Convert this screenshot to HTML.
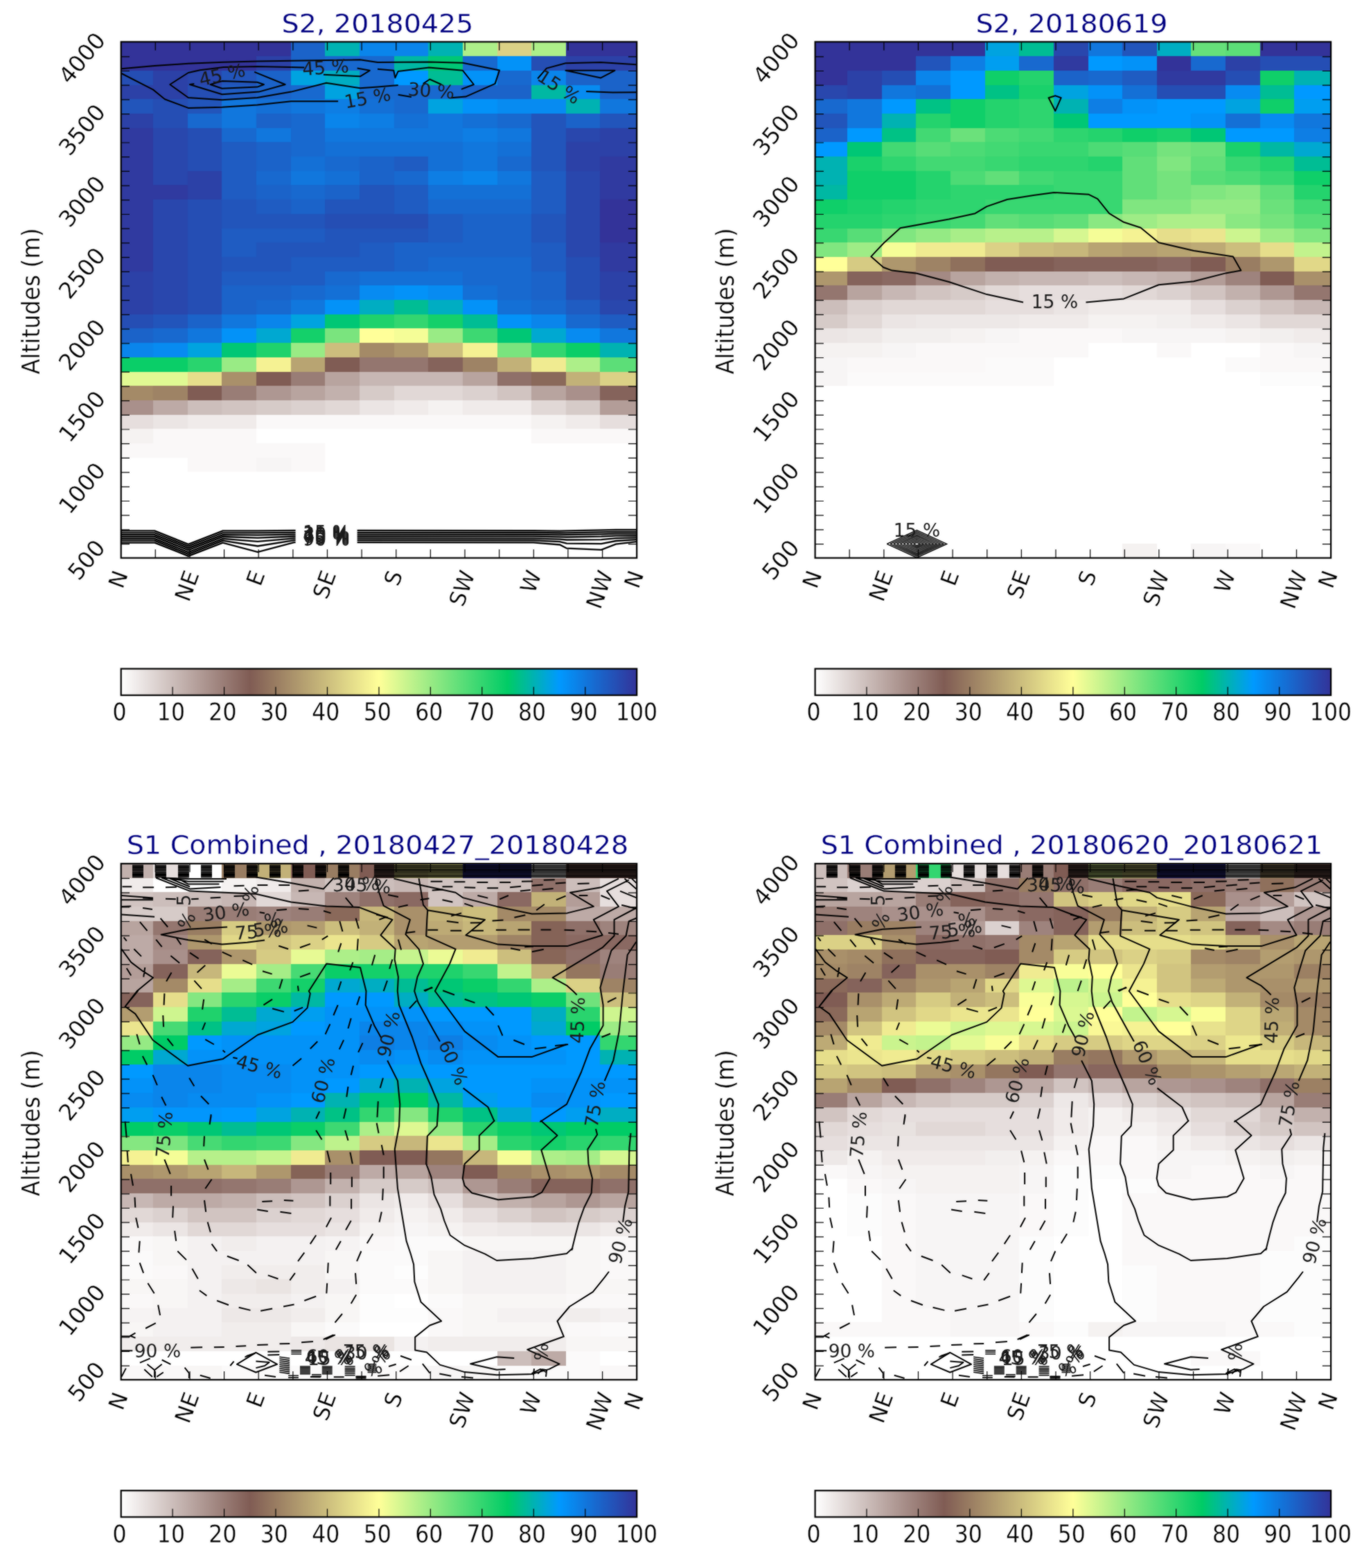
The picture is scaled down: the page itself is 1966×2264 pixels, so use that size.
<!DOCTYPE html>
<html lang="en">
<head>
<meta charset="utf-8">
<title>Altitude / direction frequency maps</title>
<style>
html,body{margin:0;padding:0;background:#fff}
body{width:1966px;height:2264px;overflow:hidden}
svg{display:block;font-family:"DejaVu Sans", "Liberation Sans", sans-serif}
#fig{width:1966px;height:2264px}
.tk{fill:none;stroke:#000;stroke-width:1.2}
.fr{fill:none;stroke:#000;stroke-width:2.2}
text{text-anchor:middle;fill:#000}
.ti,.yl,.ty,.tx,.tc{stroke:#fff;stroke-width:0.3px}
.ti{font-size:39.6px;fill:#000080}
.yl{font-size:32.5px}
.ty{font-size:32.8px}
.tx{font-size:32px}
.tc{font-size:31.5px}
.c{fill:none;stroke:#000;stroke-width:2;stroke-linejoin:round}
.d{fill:none;stroke:#000;stroke-width:2;stroke-dasharray:13 8}
.b{fill:none;stroke:#000;stroke-width:1.6}
.tbd{fill:none;stroke:#000;stroke-width:2.1;stroke-dasharray:16 17}
.tbr{fill:none;stroke:#000;stroke-width:1.9}
.bn{fill:none;stroke:#000;stroke-width:2.3}
.tbs{fill:none;stroke:#000;stroke-width:1.6;stroke-dasharray:9 5}
.t{fill:none;stroke:#000;stroke-width:1.5}
.cl{font-size:26.5px;fill:#1a1a1a}
</style>
</head>
<body>
<div id="fig">
<svg width="1966" height="2264" viewBox="0 0 1966 2264">
<defs><linearGradient id="cb" x1="0" y1="0" x2="1" y2="0"><stop offset="0" stop-color="#ffffff"/><stop offset="0.25" stop-color="#805c54"/><stop offset="0.5" stop-color="#ffff99"/><stop offset="0.75" stop-color="#00cc66"/><stop offset="0.85" stop-color="#0099ff"/><stop offset="1" stop-color="#333399"/></linearGradient>
<clipPath id="ax"><rect x="174.7" y="60.4" width="744.5" height="745.2"/></clipPath></defs>
<filter id="sf" x="0" y="0" width="1966" height="2264" filterUnits="userSpaceOnUse" color-interpolation-filters="sRGB"><feGaussianBlur stdDeviation="0.9"/></filter>
<g id="all"><rect width="1966" height="2264" fill="#fff"/>
<g transform="translate(0 0)">
<g shape-rendering="crispEdges">
<rect x="174.7" y="60.4" width="245.4" height="21.1" fill="#333399"/>
<rect x="419.7" y="60.4" width="50" height="21.1" fill="#1b63c9"/>
<rect x="469.3" y="60.4" width="50" height="21.1" fill="#00b2b2"/>
<rect x="518.9" y="60.4" width="99.7" height="21.1" fill="#0a85eb"/>
<rect x="618.2" y="60.4" width="50" height="21.1" fill="#00b2b2"/>
<rect x="667.8" y="60.4" width="50" height="21.1" fill="#adef89"/>
<rect x="717.5" y="60.4" width="50" height="21.1" fill="#dbd186"/>
<rect x="767.1" y="60.4" width="50" height="21.1" fill="#adef89"/>
<rect x="816.7" y="60.4" width="102.9" height="21.1" fill="#333399"/>
<rect x="174.7" y="81.1" width="195.7" height="21.1" fill="#333399"/>
<rect x="370" y="81.1" width="50" height="21.1" fill="#2c41a7"/>
<rect x="419.7" y="81.1" width="50" height="21.1" fill="#1b63c9"/>
<rect x="469.3" y="81.1" width="99.7" height="21.1" fill="#1869cf"/>
<rect x="568.6" y="81.1" width="50" height="21.1" fill="#00b8a3"/>
<rect x="618.2" y="81.1" width="50" height="21.1" fill="#00c775"/>
<rect x="667.8" y="81.1" width="50" height="21.1" fill="#1869cf"/>
<rect x="717.5" y="81.1" width="50" height="21.1" fill="#0392f8"/>
<rect x="767.1" y="81.1" width="50" height="21.1" fill="#254eb4"/>
<rect x="816.7" y="81.1" width="102.9" height="21.1" fill="#2c41a7"/>
<rect x="174.7" y="101.8" width="46.8" height="21.1" fill="#254eb4"/>
<rect x="221.1" y="101.8" width="50" height="21.1" fill="#2c41a7"/>
<rect x="270.8" y="101.8" width="50" height="21.1" fill="#2947ad"/>
<rect x="320.4" y="101.8" width="50" height="21.1" fill="#2255bb"/>
<rect x="370" y="101.8" width="50" height="21.1" fill="#1b63c9"/>
<rect x="419.7" y="101.8" width="50" height="21.1" fill="#00a3e0"/>
<rect x="469.3" y="101.8" width="50" height="21.1" fill="#00adc2"/>
<rect x="518.9" y="101.8" width="50" height="21.1" fill="#1869cf"/>
<rect x="568.6" y="101.8" width="50" height="21.1" fill="#0099ff"/>
<rect x="618.2" y="101.8" width="50" height="21.1" fill="#00bd94"/>
<rect x="667.8" y="101.8" width="50" height="21.1" fill="#0392f8"/>
<rect x="717.5" y="101.8" width="50" height="21.1" fill="#1869cf"/>
<rect x="767.1" y="101.8" width="50" height="21.1" fill="#0a85eb"/>
<rect x="816.7" y="101.8" width="102.9" height="21.1" fill="#1b63c9"/>
<rect x="174.7" y="122.5" width="96.5" height="21.1" fill="#2c41a7"/>
<rect x="270.8" y="122.5" width="50" height="21.1" fill="#254eb4"/>
<rect x="320.4" y="122.5" width="50" height="21.1" fill="#1f5cc2"/>
<rect x="370" y="122.5" width="50" height="21.1" fill="#1b63c9"/>
<rect x="419.7" y="122.5" width="50" height="21.1" fill="#1869cf"/>
<rect x="469.3" y="122.5" width="50" height="21.1" fill="#00a3e0"/>
<rect x="518.9" y="122.5" width="149.3" height="21.1" fill="#1869cf"/>
<rect x="667.8" y="122.5" width="99.7" height="21.1" fill="#1b63c9"/>
<rect x="767.1" y="122.5" width="50" height="21.1" fill="#00b8a3"/>
<rect x="816.7" y="122.5" width="50" height="21.1" fill="#078bf1"/>
<rect x="866.4" y="122.5" width="53.2" height="21.1" fill="#1b63c9"/>
<rect x="174.7" y="143.2" width="46.8" height="21.1" fill="#2255bb"/>
<rect x="221.1" y="143.2" width="50" height="21.1" fill="#254eb4"/>
<rect x="270.8" y="143.2" width="50" height="21.1" fill="#2255bb"/>
<rect x="320.4" y="143.2" width="50" height="21.1" fill="#1177dd"/>
<rect x="370" y="143.2" width="50" height="21.1" fill="#1470d6"/>
<rect x="419.7" y="143.2" width="50" height="21.1" fill="#1177dd"/>
<rect x="469.3" y="143.2" width="50" height="21.1" fill="#0e7ee4"/>
<rect x="518.9" y="143.2" width="50" height="21.1" fill="#1470d6"/>
<rect x="568.6" y="143.2" width="50" height="21.1" fill="#1869cf"/>
<rect x="618.2" y="143.2" width="50" height="21.1" fill="#00a3e0"/>
<rect x="667.8" y="143.2" width="50" height="21.1" fill="#0392f8"/>
<rect x="717.5" y="143.2" width="99.7" height="21.1" fill="#078bf1"/>
<rect x="816.7" y="143.2" width="50" height="21.1" fill="#00b2b2"/>
<rect x="866.4" y="143.2" width="53.2" height="21.1" fill="#1177dd"/>
<rect x="174.7" y="163.9" width="46.8" height="21.1" fill="#2c41a7"/>
<rect x="221.1" y="163.9" width="50" height="21.1" fill="#254eb4"/>
<rect x="270.8" y="163.9" width="50" height="21.1" fill="#1869cf"/>
<rect x="320.4" y="163.9" width="50" height="21.1" fill="#1177dd"/>
<rect x="370" y="163.9" width="50" height="21.1" fill="#1b63c9"/>
<rect x="419.7" y="163.9" width="50" height="21.1" fill="#1869cf"/>
<rect x="469.3" y="163.9" width="50" height="21.1" fill="#0a85eb"/>
<rect x="518.9" y="163.9" width="50" height="21.1" fill="#0e7ee4"/>
<rect x="568.6" y="163.9" width="50" height="21.1" fill="#1470d6"/>
<rect x="618.2" y="163.9" width="50" height="21.1" fill="#1177dd"/>
<rect x="667.8" y="163.9" width="50" height="21.1" fill="#1470d6"/>
<rect x="717.5" y="163.9" width="50" height="21.1" fill="#1869cf"/>
<rect x="767.1" y="163.9" width="50" height="21.1" fill="#2255bb"/>
<rect x="816.7" y="163.9" width="50" height="21.1" fill="#1b63c9"/>
<rect x="866.4" y="163.9" width="53.2" height="21.1" fill="#2255bb"/>
<rect x="174.7" y="184.6" width="46.8" height="21.1" fill="#303aa0"/>
<rect x="221.1" y="184.6" width="50" height="21.1" fill="#2947ad"/>
<rect x="270.8" y="184.6" width="50" height="21.1" fill="#254eb4"/>
<rect x="320.4" y="184.6" width="50" height="21.1" fill="#1869cf"/>
<rect x="370" y="184.6" width="50" height="21.1" fill="#1177dd"/>
<rect x="419.7" y="184.6" width="50" height="21.1" fill="#1869cf"/>
<rect x="469.3" y="184.6" width="198.9" height="21.1" fill="#1177dd"/>
<rect x="667.8" y="184.6" width="50" height="21.1" fill="#0e7ee4"/>
<rect x="717.5" y="184.6" width="50" height="21.1" fill="#1177dd"/>
<rect x="767.1" y="184.6" width="50" height="21.1" fill="#2255bb"/>
<rect x="816.7" y="184.6" width="50" height="21.1" fill="#2947ad"/>
<rect x="866.4" y="184.6" width="53.2" height="21.1" fill="#2c41a7"/>
<rect x="174.7" y="205.3" width="46.8" height="21.1" fill="#303aa0"/>
<rect x="221.1" y="205.3" width="50" height="21.1" fill="#2947ad"/>
<rect x="270.8" y="205.3" width="50" height="21.1" fill="#254eb4"/>
<rect x="320.4" y="205.3" width="50" height="21.1" fill="#1f5cc2"/>
<rect x="370" y="205.3" width="50" height="21.1" fill="#1b63c9"/>
<rect x="419.7" y="205.3" width="50" height="21.1" fill="#1869cf"/>
<rect x="469.3" y="205.3" width="198.9" height="21.1" fill="#1470d6"/>
<rect x="667.8" y="205.3" width="50" height="21.1" fill="#1177dd"/>
<rect x="717.5" y="205.3" width="50" height="21.1" fill="#1470d6"/>
<rect x="767.1" y="205.3" width="50" height="21.1" fill="#2255bb"/>
<rect x="816.7" y="205.3" width="102.9" height="21.1" fill="#2c41a7"/>
<rect x="174.7" y="226" width="46.8" height="21.1" fill="#303aa0"/>
<rect x="221.1" y="226" width="50" height="21.1" fill="#2947ad"/>
<rect x="270.8" y="226" width="50" height="21.1" fill="#254eb4"/>
<rect x="320.4" y="226" width="50" height="21.1" fill="#1f5cc2"/>
<rect x="370" y="226" width="50" height="21.1" fill="#1b63c9"/>
<rect x="419.7" y="226" width="50" height="21.1" fill="#1470d6"/>
<rect x="469.3" y="226" width="50" height="21.1" fill="#1869cf"/>
<rect x="518.9" y="226" width="50" height="21.1" fill="#1b63c9"/>
<rect x="568.6" y="226" width="50" height="21.1" fill="#1f5cc2"/>
<rect x="618.2" y="226" width="50" height="21.1" fill="#1470d6"/>
<rect x="667.8" y="226" width="50" height="21.1" fill="#1177dd"/>
<rect x="717.5" y="226" width="50" height="21.1" fill="#1869cf"/>
<rect x="767.1" y="226" width="50" height="21.1" fill="#2255bb"/>
<rect x="816.7" y="226" width="50" height="21.1" fill="#2c41a7"/>
<rect x="866.4" y="226" width="53.2" height="21.1" fill="#303aa0"/>
<rect x="174.7" y="246.7" width="46.8" height="21.1" fill="#303aa0"/>
<rect x="221.1" y="246.7" width="50" height="21.1" fill="#2947ad"/>
<rect x="270.8" y="246.7" width="50" height="21.1" fill="#2c41a7"/>
<rect x="320.4" y="246.7" width="50" height="21.1" fill="#1f5cc2"/>
<rect x="370" y="246.7" width="50" height="21.1" fill="#1869cf"/>
<rect x="419.7" y="246.7" width="50" height="21.1" fill="#1177dd"/>
<rect x="469.3" y="246.7" width="50" height="21.1" fill="#1470d6"/>
<rect x="518.9" y="246.7" width="50" height="21.1" fill="#1b63c9"/>
<rect x="568.6" y="246.7" width="50" height="21.1" fill="#1869cf"/>
<rect x="618.2" y="246.7" width="50" height="21.1" fill="#0e7ee4"/>
<rect x="667.8" y="246.7" width="50" height="21.1" fill="#0a85eb"/>
<rect x="717.5" y="246.7" width="50" height="21.1" fill="#1177dd"/>
<rect x="767.1" y="246.7" width="50" height="21.1" fill="#1f5cc2"/>
<rect x="816.7" y="246.7" width="50" height="21.1" fill="#2947ad"/>
<rect x="866.4" y="246.7" width="53.2" height="21.1" fill="#303aa0"/>
<rect x="174.7" y="267.4" width="96.5" height="21.1" fill="#303aa0"/>
<rect x="270.8" y="267.4" width="50" height="21.1" fill="#2c41a7"/>
<rect x="320.4" y="267.4" width="50" height="21.1" fill="#1f5cc2"/>
<rect x="370" y="267.4" width="50" height="21.1" fill="#1b63c9"/>
<rect x="419.7" y="267.4" width="50" height="21.1" fill="#1869cf"/>
<rect x="469.3" y="267.4" width="50" height="21.1" fill="#1b63c9"/>
<rect x="518.9" y="267.4" width="50" height="21.1" fill="#2255bb"/>
<rect x="568.6" y="267.4" width="50" height="21.1" fill="#1f5cc2"/>
<rect x="618.2" y="267.4" width="149.3" height="21.1" fill="#1470d6"/>
<rect x="767.1" y="267.4" width="50" height="21.1" fill="#1f5cc2"/>
<rect x="816.7" y="267.4" width="50" height="21.1" fill="#2947ad"/>
<rect x="866.4" y="267.4" width="53.2" height="21.1" fill="#303aa0"/>
<rect x="174.7" y="288.1" width="46.8" height="21.1" fill="#303aa0"/>
<rect x="221.1" y="288.1" width="50" height="21.1" fill="#2947ad"/>
<rect x="270.8" y="288.1" width="50" height="21.1" fill="#254eb4"/>
<rect x="320.4" y="288.1" width="50" height="21.1" fill="#2255bb"/>
<rect x="370" y="288.1" width="50" height="21.1" fill="#1f5cc2"/>
<rect x="419.7" y="288.1" width="50" height="21.1" fill="#1b63c9"/>
<rect x="469.3" y="288.1" width="99.7" height="21.1" fill="#2255bb"/>
<rect x="568.6" y="288.1" width="50" height="21.1" fill="#1f5cc2"/>
<rect x="618.2" y="288.1" width="149.3" height="21.1" fill="#1869cf"/>
<rect x="767.1" y="288.1" width="50" height="21.1" fill="#1f5cc2"/>
<rect x="816.7" y="288.1" width="50" height="21.1" fill="#2947ad"/>
<rect x="866.4" y="288.1" width="53.2" height="21.1" fill="#333399"/>
<rect x="174.7" y="308.8" width="46.8" height="21.1" fill="#303aa0"/>
<rect x="221.1" y="308.8" width="50" height="21.1" fill="#2947ad"/>
<rect x="270.8" y="308.8" width="50" height="21.1" fill="#254eb4"/>
<rect x="320.4" y="308.8" width="149.3" height="21.1" fill="#2255bb"/>
<rect x="469.3" y="308.8" width="149.3" height="21.1" fill="#254eb4"/>
<rect x="618.2" y="308.8" width="50" height="21.1" fill="#1f5cc2"/>
<rect x="667.8" y="308.8" width="99.7" height="21.1" fill="#1b63c9"/>
<rect x="767.1" y="308.8" width="50" height="21.1" fill="#2255bb"/>
<rect x="816.7" y="308.8" width="50" height="21.1" fill="#2947ad"/>
<rect x="866.4" y="308.8" width="53.2" height="21.1" fill="#333399"/>
<rect x="174.7" y="329.5" width="46.8" height="21.1" fill="#303aa0"/>
<rect x="221.1" y="329.5" width="50" height="21.1" fill="#2947ad"/>
<rect x="270.8" y="329.5" width="50" height="21.1" fill="#254eb4"/>
<rect x="320.4" y="329.5" width="149.3" height="21.1" fill="#1f5cc2"/>
<rect x="469.3" y="329.5" width="149.3" height="21.1" fill="#2255bb"/>
<rect x="618.2" y="329.5" width="50" height="21.1" fill="#1f5cc2"/>
<rect x="667.8" y="329.5" width="99.7" height="21.1" fill="#1b63c9"/>
<rect x="767.1" y="329.5" width="50" height="21.1" fill="#2255bb"/>
<rect x="816.7" y="329.5" width="50" height="21.1" fill="#2947ad"/>
<rect x="866.4" y="329.5" width="53.2" height="21.1" fill="#333399"/>
<rect x="174.7" y="350.2" width="46.8" height="21.1" fill="#303aa0"/>
<rect x="221.1" y="350.2" width="50" height="21.1" fill="#2947ad"/>
<rect x="270.8" y="350.2" width="50" height="21.1" fill="#254eb4"/>
<rect x="320.4" y="350.2" width="50" height="21.1" fill="#1f5cc2"/>
<rect x="370" y="350.2" width="149.3" height="21.1" fill="#2255bb"/>
<rect x="518.9" y="350.2" width="50" height="21.1" fill="#1f5cc2"/>
<rect x="568.6" y="350.2" width="198.9" height="21.1" fill="#1b63c9"/>
<rect x="767.1" y="350.2" width="50" height="21.1" fill="#1f5cc2"/>
<rect x="816.7" y="350.2" width="50" height="21.1" fill="#2947ad"/>
<rect x="866.4" y="350.2" width="53.2" height="21.1" fill="#303aa0"/>
<rect x="174.7" y="370.9" width="46.8" height="21.1" fill="#303aa0"/>
<rect x="221.1" y="370.9" width="50" height="21.1" fill="#2947ad"/>
<rect x="270.8" y="370.9" width="50" height="21.1" fill="#254eb4"/>
<rect x="320.4" y="370.9" width="99.7" height="21.1" fill="#2255bb"/>
<rect x="419.7" y="370.9" width="149.3" height="21.1" fill="#1f5cc2"/>
<rect x="568.6" y="370.9" width="50" height="21.1" fill="#1b63c9"/>
<rect x="618.2" y="370.9" width="149.3" height="21.1" fill="#1869cf"/>
<rect x="767.1" y="370.9" width="50" height="21.1" fill="#1f5cc2"/>
<rect x="816.7" y="370.9" width="50" height="21.1" fill="#254eb4"/>
<rect x="866.4" y="370.9" width="53.2" height="21.1" fill="#303aa0"/>
<rect x="174.7" y="391.6" width="46.8" height="21.1" fill="#2c41a7"/>
<rect x="221.1" y="391.6" width="50" height="21.1" fill="#2947ad"/>
<rect x="270.8" y="391.6" width="50" height="21.1" fill="#254eb4"/>
<rect x="320.4" y="391.6" width="149.3" height="21.1" fill="#1f5cc2"/>
<rect x="469.3" y="391.6" width="50" height="21.1" fill="#1869cf"/>
<rect x="518.9" y="391.6" width="149.3" height="21.1" fill="#1470d6"/>
<rect x="667.8" y="391.6" width="99.7" height="21.1" fill="#1869cf"/>
<rect x="767.1" y="391.6" width="50" height="21.1" fill="#1b63c9"/>
<rect x="816.7" y="391.6" width="50" height="21.1" fill="#254eb4"/>
<rect x="866.4" y="391.6" width="53.2" height="21.1" fill="#2c41a7"/>
<rect x="174.7" y="412.3" width="46.8" height="21.1" fill="#2c41a7"/>
<rect x="221.1" y="412.3" width="50" height="21.1" fill="#2947ad"/>
<rect x="270.8" y="412.3" width="50" height="21.1" fill="#254eb4"/>
<rect x="320.4" y="412.3" width="99.7" height="21.1" fill="#1b63c9"/>
<rect x="419.7" y="412.3" width="50" height="21.1" fill="#1869cf"/>
<rect x="469.3" y="412.3" width="50" height="21.1" fill="#1470d6"/>
<rect x="518.9" y="412.3" width="50" height="21.1" fill="#078bf1"/>
<rect x="568.6" y="412.3" width="50" height="21.1" fill="#0392f8"/>
<rect x="618.2" y="412.3" width="50" height="21.1" fill="#078bf1"/>
<rect x="667.8" y="412.3" width="50" height="21.1" fill="#1470d6"/>
<rect x="717.5" y="412.3" width="50" height="21.1" fill="#1869cf"/>
<rect x="767.1" y="412.3" width="50" height="21.1" fill="#1b63c9"/>
<rect x="816.7" y="412.3" width="50" height="21.1" fill="#254eb4"/>
<rect x="866.4" y="412.3" width="53.2" height="21.1" fill="#2c41a7"/>
<rect x="174.7" y="433" width="46.8" height="21.1" fill="#2c41a7"/>
<rect x="221.1" y="433" width="50" height="21.1" fill="#2947ad"/>
<rect x="270.8" y="433" width="50" height="21.1" fill="#254eb4"/>
<rect x="320.4" y="433" width="50" height="21.1" fill="#1b63c9"/>
<rect x="370" y="433" width="50" height="21.1" fill="#1869cf"/>
<rect x="419.7" y="433" width="50" height="21.1" fill="#1177dd"/>
<rect x="469.3" y="433" width="50" height="21.1" fill="#0392f8"/>
<rect x="518.9" y="433" width="50" height="21.1" fill="#00adc2"/>
<rect x="568.6" y="433" width="50" height="21.1" fill="#00bd94"/>
<rect x="618.2" y="433" width="50" height="21.1" fill="#00adc2"/>
<rect x="667.8" y="433" width="50" height="21.1" fill="#0392f8"/>
<rect x="717.5" y="433" width="50" height="21.1" fill="#1470d6"/>
<rect x="767.1" y="433" width="50" height="21.1" fill="#1869cf"/>
<rect x="816.7" y="433" width="50" height="21.1" fill="#1f5cc2"/>
<rect x="866.4" y="433" width="53.2" height="21.1" fill="#2947ad"/>
<rect x="174.7" y="453.7" width="46.8" height="21.1" fill="#254eb4"/>
<rect x="221.1" y="453.7" width="50" height="21.1" fill="#2255bb"/>
<rect x="270.8" y="453.7" width="50" height="21.1" fill="#1b63c9"/>
<rect x="320.4" y="453.7" width="50" height="21.1" fill="#1177dd"/>
<rect x="370" y="453.7" width="50" height="21.1" fill="#0a85eb"/>
<rect x="419.7" y="453.7" width="50" height="21.1" fill="#00a3e0"/>
<rect x="469.3" y="453.7" width="50" height="21.1" fill="#00c775"/>
<rect x="518.9" y="453.7" width="50" height="21.1" fill="#1fd26c"/>
<rect x="568.6" y="453.7" width="50" height="21.1" fill="#33d670"/>
<rect x="618.2" y="453.7" width="50" height="21.1" fill="#14d06a"/>
<rect x="667.8" y="453.7" width="50" height="21.1" fill="#00bd94"/>
<rect x="717.5" y="453.7" width="50" height="21.1" fill="#0392f8"/>
<rect x="767.1" y="453.7" width="50" height="21.1" fill="#0a85eb"/>
<rect x="816.7" y="453.7" width="50" height="21.1" fill="#1869cf"/>
<rect x="866.4" y="453.7" width="53.2" height="21.1" fill="#1f5cc2"/>
<rect x="174.7" y="474.4" width="46.8" height="21.1" fill="#1b63c9"/>
<rect x="221.1" y="474.4" width="50" height="21.1" fill="#1869cf"/>
<rect x="270.8" y="474.4" width="50" height="21.1" fill="#1177dd"/>
<rect x="320.4" y="474.4" width="50" height="21.1" fill="#0392f8"/>
<rect x="370" y="474.4" width="50" height="21.1" fill="#00a8d1"/>
<rect x="419.7" y="474.4" width="50" height="21.1" fill="#14d06a"/>
<rect x="469.3" y="474.4" width="50" height="21.1" fill="#7ae47e"/>
<rect x="518.9" y="474.4" width="50" height="21.1" fill="#ffff99"/>
<rect x="568.6" y="474.4" width="50" height="21.1" fill="#f5fd97"/>
<rect x="618.2" y="474.4" width="50" height="21.1" fill="#99eb85"/>
<rect x="667.8" y="474.4" width="50" height="21.1" fill="#3dd872"/>
<rect x="717.5" y="474.4" width="50" height="21.1" fill="#00c775"/>
<rect x="767.1" y="474.4" width="50" height="21.1" fill="#00a8d1"/>
<rect x="816.7" y="474.4" width="50" height="21.1" fill="#078bf1"/>
<rect x="866.4" y="474.4" width="53.2" height="21.1" fill="#1177dd"/>
<rect x="174.7" y="495.1" width="46.8" height="21.1" fill="#0a85eb"/>
<rect x="221.1" y="495.1" width="50" height="21.1" fill="#078bf1"/>
<rect x="270.8" y="495.1" width="50" height="21.1" fill="#00a3e0"/>
<rect x="320.4" y="495.1" width="50" height="21.1" fill="#00c775"/>
<rect x="370" y="495.1" width="50" height="21.1" fill="#1fd26c"/>
<rect x="419.7" y="495.1" width="50" height="21.1" fill="#99eb85"/>
<rect x="469.3" y="495.1" width="50" height="21.1" fill="#ccbe7d"/>
<rect x="518.9" y="495.1" width="50" height="21.1" fill="#a48a67"/>
<rect x="568.6" y="495.1" width="50" height="21.1" fill="#ae976d"/>
<rect x="618.2" y="495.1" width="50" height="21.1" fill="#ccbe7d"/>
<rect x="667.8" y="495.1" width="50" height="21.1" fill="#f5f293"/>
<rect x="717.5" y="495.1" width="50" height="21.1" fill="#7ae47e"/>
<rect x="767.1" y="495.1" width="50" height="21.1" fill="#33d670"/>
<rect x="816.7" y="495.1" width="50" height="21.1" fill="#0ace68"/>
<rect x="866.4" y="495.1" width="53.2" height="21.1" fill="#00b2b2"/>
<rect x="174.7" y="515.8" width="96.5" height="21.1" fill="#0ace68"/>
<rect x="270.8" y="515.8" width="50" height="21.1" fill="#29d46e"/>
<rect x="320.4" y="515.8" width="50" height="21.1" fill="#99eb85"/>
<rect x="370" y="515.8" width="50" height="21.1" fill="#f5f293"/>
<rect x="419.7" y="515.8" width="50" height="21.1" fill="#b8a472"/>
<rect x="469.3" y="515.8" width="50" height="21.1" fill="#805c54"/>
<rect x="518.9" y="515.8" width="99.7" height="21.1" fill="#94766f"/>
<rect x="618.2" y="515.8" width="50" height="21.1" fill="#85635b"/>
<rect x="667.8" y="515.8" width="50" height="21.1" fill="#9e8365"/>
<rect x="717.5" y="515.8" width="50" height="21.1" fill="#c2b178"/>
<rect x="767.1" y="515.8" width="50" height="21.1" fill="#f0eb91"/>
<rect x="816.7" y="515.8" width="50" height="21.1" fill="#adef89"/>
<rect x="866.4" y="515.8" width="53.2" height="21.1" fill="#5cde78"/>
<rect x="174.7" y="536.5" width="96.5" height="21.1" fill="#e0f993"/>
<rect x="270.8" y="536.5" width="50" height="21.1" fill="#e6de8b"/>
<rect x="320.4" y="536.5" width="50" height="21.1" fill="#a9906a"/>
<rect x="370" y="536.5" width="50" height="21.1" fill="#805c54"/>
<rect x="419.7" y="536.5" width="50" height="21.1" fill="#997d76"/>
<rect x="469.3" y="536.5" width="50" height="21.1" fill="#b8a49f"/>
<rect x="518.9" y="536.5" width="149.3" height="21.1" fill="#c7b7b4"/>
<rect x="667.8" y="536.5" width="50" height="21.1" fill="#b8a49f"/>
<rect x="717.5" y="536.5" width="50" height="21.1" fill="#8f7069"/>
<rect x="767.1" y="536.5" width="50" height="21.1" fill="#8a695a"/>
<rect x="816.7" y="536.5" width="50" height="21.1" fill="#c2b178"/>
<rect x="866.4" y="536.5" width="53.2" height="21.1" fill="#dbd186"/>
<rect x="174.7" y="557.2" width="46.8" height="21.1" fill="#a48a67"/>
<rect x="221.1" y="557.2" width="50" height="21.1" fill="#9e8365"/>
<rect x="270.8" y="557.2" width="50" height="21.1" fill="#805c54"/>
<rect x="320.4" y="557.2" width="50" height="21.1" fill="#997d76"/>
<rect x="370" y="557.2" width="50" height="21.1" fill="#ae9792"/>
<rect x="419.7" y="557.2" width="50" height="21.1" fill="#b8a49f"/>
<rect x="469.3" y="557.2" width="50" height="21.1" fill="#c2b1ad"/>
<rect x="518.9" y="557.2" width="50" height="21.1" fill="#d6cbc8"/>
<rect x="568.6" y="557.2" width="99.7" height="21.1" fill="#e1d8d6"/>
<rect x="667.8" y="557.2" width="50" height="21.1" fill="#dbd1cf"/>
<rect x="717.5" y="557.2" width="50" height="21.1" fill="#d1c4c1"/>
<rect x="767.1" y="557.2" width="50" height="21.1" fill="#b8a49f"/>
<rect x="816.7" y="557.2" width="50" height="21.1" fill="#a9908b"/>
<rect x="866.4" y="557.2" width="53.2" height="21.1" fill="#85635b"/>
<rect x="174.7" y="577.9" width="46.8" height="21.1" fill="#a9908b"/>
<rect x="221.1" y="577.9" width="50" height="21.1" fill="#bdaaa6"/>
<rect x="270.8" y="577.9" width="50" height="21.1" fill="#ccbebb"/>
<rect x="320.4" y="577.9" width="50" height="21.1" fill="#d1c4c1"/>
<rect x="370" y="577.9" width="50" height="21.1" fill="#d6cbc8"/>
<rect x="419.7" y="577.9" width="50" height="21.1" fill="#dbd1cf"/>
<rect x="469.3" y="577.9" width="50" height="21.1" fill="#e1d8d6"/>
<rect x="518.9" y="577.9" width="50" height="21.1" fill="#ebe5e4"/>
<rect x="568.6" y="577.9" width="50" height="21.1" fill="#f0ebea"/>
<rect x="618.2" y="577.9" width="50" height="21.1" fill="#f5f2f1"/>
<rect x="667.8" y="577.9" width="99.7" height="21.1" fill="#f0ebea"/>
<rect x="767.1" y="577.9" width="50" height="21.1" fill="#e1d8d6"/>
<rect x="816.7" y="577.9" width="50" height="21.1" fill="#d6cbc8"/>
<rect x="866.4" y="577.9" width="53.2" height="21.1" fill="#b39d98"/>
<rect x="174.7" y="598.6" width="46.8" height="21.1" fill="#e6dedd"/>
<rect x="221.1" y="598.6" width="50" height="21.1" fill="#ebe5e4"/>
<rect x="270.8" y="598.6" width="99.7" height="21.1" fill="#f0ebea"/>
<rect x="370" y="598.6" width="397.5" height="21.1" fill="#faf8f8"/>
<rect x="767.1" y="598.6" width="50" height="21.1" fill="#f5f2f1"/>
<rect x="816.7" y="598.6" width="50" height="21.1" fill="#f0ebea"/>
<rect x="866.4" y="598.6" width="53.2" height="21.1" fill="#e6dedd"/>
<rect x="174.7" y="619.3" width="46.8" height="21.1" fill="#f5f2f1"/>
<rect x="221.1" y="619.3" width="149.3" height="21.1" fill="#faf8f8"/>
<rect x="370" y="619.3" width="397.5" height="21.1" fill="#ffffff"/>
<rect x="767.1" y="619.3" width="152.5" height="21.1" fill="#faf8f8"/>
<rect x="174.7" y="640" width="295" height="21.1" fill="#faf8f8"/>
<rect x="469.3" y="640" width="450.3" height="21.1" fill="#ffffff"/>
<rect x="174.7" y="660.7" width="96.5" height="21.1" fill="#ffffff"/>
<rect x="270.8" y="660.7" width="99.7" height="21.1" fill="#faf8f8"/>
<rect x="370" y="660.7" width="50" height="21.1" fill="#f7f5f5"/>
<rect x="419.7" y="660.7" width="50" height="21.1" fill="#faf8f8"/>
<rect x="469.3" y="660.7" width="450.3" height="21.1" fill="#ffffff"/>
<rect x="174.7" y="681.4" width="744.9" height="21.1" fill="#ffffff"/>
<rect x="174.7" y="702.1" width="744.9" height="21.1" fill="#ffffff"/>
<rect x="174.7" y="722.8" width="744.9" height="21.1" fill="#ffffff"/>
<rect x="174.7" y="743.5" width="744.9" height="21.1" fill="#ffffff"/>
<rect x="174.7" y="764.2" width="744.9" height="21.1" fill="#ffffff"/>
<rect x="174.7" y="784.9" width="744.9" height="21.1" fill="#ffffff"/>
</g>
<g clip-path="url(#ax)">
<path class="c" d="M175.3 99.3 223 95 271.8 91.8 322.7 89.7 371.4 88.4 420.2 87.8 471.1 87 519.9 86.3 545 90.1 619.2 89.5 668 90.8 721 101.4 714.6 120.9 672.2 139.6 651 141.2"/>
<path class="c" d="M593.8 140 574.7 136.8"/>
<path class="c" d="M420.2 96.9 371.4 95.9 322.7 97.1 288.7 101.2 271.8 105 245.3 122 271.8 141 320.6 144.2 371.4 141 420.2 132.6 471.1 119.8 519.9 127.3 545 125.6 574.7 123"/>
<path class="c" d="M420.2 96.9 439.3 97.6"/>
<path class="c" d="M367.2 103.9 411.7 122 373.6 132.6 320.6 136.2 273.9 122 280.3 120.9"/>
<path class="c" d="M303.6 122 320.6 117.1 371.4 118.8 381 122 371.4 125.6 320.6 127.7Z"/>
<path class="c" d="M515.6 98.6 533.7 101.8 519.9 110.3 466.9 107.7"/>
<path class="c" d="M175.3 106 220.9 129.4 237.9 143.2 271.8 155.9 320.6 154.8 371.4 151.6 420.2 146.3 488.1 146.3"/>
<path class="c" d="M545 99.7 568.3 101.8 570.4 112.4 574.7 102.9 619.2 97.6 668 101.8 683.9 122 665.9 128.9"/>
<path class="c" d="M610.7 120.9 620.3 114.5 637.2 122"/>
<path class="c" d="M776.1 113.5 788.9 98.6 816.4 91.2 867.3 90.1 918.2 93.3"/>
<path class="c" d="M816.4 101.8 867.3 112.4 887.5 101.8Z"/>
<path class="c" d="M846.1 131.9 884.3 133.6 918.2 133.2"/>
<text class="cl" transform="translate(320.6 108.2) rotate(-13)" dy="9">45 %</text>
<text class="cl" transform="translate(470 97.6) rotate(-4)" dy="9">45 %</text>
<text class="cl" transform="translate(530.5 141.7) rotate(-10)" dy="9">15 %</text>
<text class="cl" transform="translate(622.4 131.1) rotate(4)" dy="9">30 %</text>
<text class="cl" transform="translate(806.9 125.6) rotate(33)" dy="9">15 %</text>
<path class="bn" d="M174.7 766.4 223.3 766.4 271.8 785.7 321.6 766.4 372 766.4 424.5 765.9 426.6 765.9M515.6 765.9 770 766.1 808 766.6 818 766.4 868 765.4 889 764.9 919.2 764.9M174.7 769.3 223.3 769.3 271.8 788.6 321.6 769.3 372 769.3 424.5 768.8 426.6 768.8M515.6 768.8 770 769 808 769.5 818 769.3 868 768.3 889 767.8 919.2 767.8M174.7 772.1 223.3 772.1 271.8 791.4 321.6 772.1 372 772.6 424.5 771.6 426.6 771.6M515.6 771.6 770 771.8 808 772.4 818 772.2 868 771.3 889 770.7 919.2 770.6M174.7 775 223.3 775 271.8 794.3 321.6 775 372 776.7 424.5 774.5 426.6 774.5M515.6 774.5 770 774.7 808 775.4 818 775.5 868 774.7 889 773.7 919.2 773.5M174.7 777.9 223.3 777.9 271.8 797.2 321.6 777.9 372 781.9 424.5 777.4 426.6 777.4M515.6 777.4 770 777.6 808 778.6 818 779.5 868 779.1 889 777.1 919.2 776.4M174.7 780.7 223.3 780.7 271.8 800 321.6 780.7 372 788.5 424.5 780.2 426.6 780.2M515.6 780.2 770 780.4 808 782.2 818 784.6 868 785.2 889 781 919.2 779.2M174.7 783.6 223.3 783.6 271.8 802.9 321.6 783.6 372 797.1 424.5 783.1 426.6 783.1M515.6 783.1 770 783.3 808 786.5 818 791.7 868 793.9 889 785.7 919.2 782.1"/>
<text class="cl" transform="translate(471 768.5)" dy="9">15 %</text>
<text class="cl" transform="translate(471 770.5)" dy="9">30 %</text>
<text class="cl" transform="translate(471 772.5)" dy="9">45 %</text>
<text class="cl" transform="translate(471 774.5)" dy="9">60 %</text>
<text class="cl" transform="translate(471 776.5)" dy="9">75 %</text>
<text class="cl" transform="translate(471 778.5)" dy="9">90 %</text>
</g>
<path class="tk" d="M224.3 60.4v12.3M224.3 805.6v-12.3M274 60.4v12.3M274 805.6v-12.3M323.6 60.4v12.3M323.6 805.6v-12.3M373.2 60.4v12.3M373.2 805.6v-12.3M422.9 60.4v12.3M422.9 805.6v-12.3M472.5 60.4v12.3M472.5 805.6v-12.3M522.1 60.4v12.3M522.1 805.6v-12.3M571.8 60.4v12.3M571.8 805.6v-12.3M621.4 60.4v12.3M621.4 805.6v-12.3M671 60.4v12.3M671 805.6v-12.3M720.7 60.4v12.3M720.7 805.6v-12.3M770.3 60.4v12.3M770.3 805.6v-12.3M819.9 60.4v12.3M819.9 805.6v-12.3M869.6 60.4v12.3M869.6 805.6v-12.3M174.7 81.8h12.3M919.2 81.8h-12.3M174.7 102.5h12.3M919.2 102.5h-12.3M174.7 123.2h12.3M919.2 123.2h-12.3M174.7 143.9h12.3M919.2 143.9h-12.3M174.7 164.6h12.3M919.2 164.6h-12.3M174.7 185.3h12.3M919.2 185.3h-12.3M174.7 206h12.3M919.2 206h-12.3M174.7 226.7h12.3M919.2 226.7h-12.3M174.7 247.4h12.3M919.2 247.4h-12.3M174.7 268.1h12.3M919.2 268.1h-12.3M174.7 288.8h12.3M919.2 288.8h-12.3M174.7 309.5h12.3M919.2 309.5h-12.3M174.7 330.2h12.3M919.2 330.2h-12.3M174.7 350.9h12.3M919.2 350.9h-12.3M174.7 371.6h12.3M919.2 371.6h-12.3M174.7 392.3h12.3M919.2 392.3h-12.3M174.7 413h12.3M919.2 413h-12.3M174.7 433.7h12.3M919.2 433.7h-12.3M174.7 454.4h12.3M919.2 454.4h-12.3M174.7 475.1h12.3M919.2 475.1h-12.3M174.7 495.8h12.3M919.2 495.8h-12.3M174.7 516.5h12.3M919.2 516.5h-12.3M174.7 537.2h12.3M919.2 537.2h-12.3M174.7 557.9h12.3M919.2 557.9h-12.3M174.7 578.6h12.3M919.2 578.6h-12.3M174.7 599.3h12.3M919.2 599.3h-12.3M174.7 620h12.3M919.2 620h-12.3M174.7 640.7h12.3M919.2 640.7h-12.3M174.7 661.4h12.3M919.2 661.4h-12.3M174.7 682.1h12.3M919.2 682.1h-12.3M174.7 702.8h12.3M919.2 702.8h-12.3M174.7 723.5h12.3M919.2 723.5h-12.3M174.7 744.2h12.3M919.2 744.2h-12.3M174.7 764.9h12.3M919.2 764.9h-12.3M174.7 785.6h12.3M919.2 785.6h-12.3"/>
<rect class="fr" x="174.7" y="60.4" width="744.5" height="745.2"/>
<text class="ti" transform="translate(545 46.5) scale(1 0.95)">S2, 20180425</text>
<text class="yl" transform="translate(57.3 435) rotate(-90) scale(1 1.1)">Altitudes (m)</text>
<text class="ty" transform="translate(124.6 808.1) rotate(-50.5)" dy="11.8">500</text>
<text class="ty" transform="translate(118 704.6) rotate(-50.5)" dy="11.8">1000</text>
<text class="ty" transform="translate(118 601.1) rotate(-50.5)" dy="11.8">1500</text>
<text class="ty" transform="translate(118 497.6) rotate(-50.5)" dy="11.8">2000</text>
<text class="ty" transform="translate(118 394.1) rotate(-50.5)" dy="11.8">2500</text>
<text class="ty" transform="translate(118 290.6) rotate(-50.5)" dy="11.8">3000</text>
<text class="ty" transform="translate(118 187.1) rotate(-50.5)" dy="11.8">3500</text>
<text class="ty" transform="translate(118 83.6) rotate(-50.5)" dy="11.8">4000</text>
<text class="tx" transform="translate(170.2 836.2) rotate(-70)" dy="11.5">N</text>
<text class="tx" transform="translate(269.5 845.7) rotate(-70)" dy="11.5">NE</text>
<text class="tx" transform="translate(368.7 834.5) rotate(-70)" dy="11.5">E</text>
<text class="tx" transform="translate(468 844) rotate(-70)" dy="11.5">SE</text>
<text class="tx" transform="translate(567.3 834.5) rotate(-70)" dy="11.5">S</text>
<text class="tx" transform="translate(666.5 849.4) rotate(-70)" dy="11.5">SW</text>
<text class="tx" transform="translate(765.8 839.8) rotate(-70)" dy="11.5">W</text>
<text class="tx" transform="translate(865.1 851.1) rotate(-70)" dy="11.5">NW</text>
<text class="tx" transform="translate(914.7 836.2) rotate(-70)" dy="11.5">N</text>
<rect x="174.7" y="965.6" width="744.5" height="38.2" fill="url(#cb)"/>
<path class="tk" d="M249.1 1003.8v-12M323.6 1003.8v-12M398 1003.8v-12M472.5 1003.8v-12M547 1003.8v-12M621.4 1003.8v-12M695.8 1003.8v-12M770.3 1003.8v-12M844.8 1003.8v-12"/>
<rect class="fr" x="174.7" y="965.6" width="744.5" height="38.2"/>
<text class="tc" transform="translate(172.5 1040.2) scale(1 1.1)">0</text>
<text class="tc" transform="translate(246.9 1040.2) scale(1 1.1)">10</text>
<text class="tc" transform="translate(321.4 1040.2) scale(1 1.1)">20</text>
<text class="tc" transform="translate(395.8 1040.2) scale(1 1.1)">30</text>
<text class="tc" transform="translate(470.3 1040.2) scale(1 1.1)">40</text>
<text class="tc" transform="translate(544.8 1040.2) scale(1 1.1)">50</text>
<text class="tc" transform="translate(619.2 1040.2) scale(1 1.1)">60</text>
<text class="tc" transform="translate(693.6 1040.2) scale(1 1.1)">70</text>
<text class="tc" transform="translate(768.1 1040.2) scale(1 1.1)">80</text>
<text class="tc" transform="translate(842.5 1040.2) scale(1 1.1)">90</text>
<text class="tc" transform="translate(919 1040.2) scale(1 1.1)">100</text>
</g>
<g transform="translate(1001.9 0)">
<g shape-rendering="crispEdges">
<rect x="174.7" y="60.4" width="245.4" height="21.1" fill="#333399"/>
<rect x="419.7" y="60.4" width="50" height="21.1" fill="#00a3e0"/>
<rect x="469.3" y="60.4" width="50" height="21.1" fill="#00bd94"/>
<rect x="518.9" y="60.4" width="50" height="21.1" fill="#2947ad"/>
<rect x="568.6" y="60.4" width="50" height="21.1" fill="#1177dd"/>
<rect x="618.2" y="60.4" width="50" height="21.1" fill="#2255bb"/>
<rect x="667.8" y="60.4" width="50" height="21.1" fill="#00adc2"/>
<rect x="717.5" y="60.4" width="50" height="21.1" fill="#66e07a"/>
<rect x="767.1" y="60.4" width="50" height="21.1" fill="#5cde78"/>
<rect x="816.7" y="60.4" width="102.9" height="21.1" fill="#333399"/>
<rect x="174.7" y="81.1" width="146.1" height="21.1" fill="#333399"/>
<rect x="320.4" y="81.1" width="50" height="21.1" fill="#2255bb"/>
<rect x="370" y="81.1" width="50" height="21.1" fill="#0e7ee4"/>
<rect x="419.7" y="81.1" width="50" height="21.1" fill="#009ef0"/>
<rect x="469.3" y="81.1" width="50" height="21.1" fill="#1869cf"/>
<rect x="518.9" y="81.1" width="50" height="21.1" fill="#303aa0"/>
<rect x="568.6" y="81.1" width="50" height="21.1" fill="#0099ff"/>
<rect x="618.2" y="81.1" width="50" height="21.1" fill="#0392f8"/>
<rect x="667.8" y="81.1" width="50" height="21.1" fill="#333399"/>
<rect x="717.5" y="81.1" width="50" height="21.1" fill="#1869cf"/>
<rect x="767.1" y="81.1" width="50" height="21.1" fill="#2c41a7"/>
<rect x="816.7" y="81.1" width="102.9" height="21.1" fill="#254eb4"/>
<rect x="174.7" y="101.8" width="46.8" height="21.1" fill="#333399"/>
<rect x="221.1" y="101.8" width="50" height="21.1" fill="#2c41a7"/>
<rect x="270.8" y="101.8" width="50" height="21.1" fill="#254eb4"/>
<rect x="320.4" y="101.8" width="50" height="21.1" fill="#0a85eb"/>
<rect x="370" y="101.8" width="50" height="21.1" fill="#0099ff"/>
<rect x="419.7" y="101.8" width="50" height="21.1" fill="#0fcf69"/>
<rect x="469.3" y="101.8" width="50" height="21.1" fill="#24d36d"/>
<rect x="518.9" y="101.8" width="50" height="21.1" fill="#1b63c9"/>
<rect x="568.6" y="101.8" width="50" height="21.1" fill="#1869cf"/>
<rect x="618.2" y="101.8" width="50" height="21.1" fill="#1f5cc2"/>
<rect x="667.8" y="101.8" width="99.7" height="21.1" fill="#303aa0"/>
<rect x="767.1" y="101.8" width="50" height="21.1" fill="#254eb4"/>
<rect x="816.7" y="101.8" width="50" height="21.1" fill="#0fcf69"/>
<rect x="866.4" y="101.8" width="53.2" height="21.1" fill="#00b2b2"/>
<rect x="174.7" y="122.5" width="46.8" height="21.1" fill="#2947ad"/>
<rect x="221.1" y="122.5" width="50" height="21.1" fill="#2c41a7"/>
<rect x="270.8" y="122.5" width="50" height="21.1" fill="#1177dd"/>
<rect x="320.4" y="122.5" width="50" height="21.1" fill="#1470d6"/>
<rect x="370" y="122.5" width="50" height="21.1" fill="#0099ff"/>
<rect x="419.7" y="122.5" width="50" height="21.1" fill="#00c285"/>
<rect x="469.3" y="122.5" width="50" height="21.1" fill="#1ad16b"/>
<rect x="518.9" y="122.5" width="50" height="21.1" fill="#00a3e0"/>
<rect x="568.6" y="122.5" width="50" height="21.1" fill="#0392f8"/>
<rect x="618.2" y="122.5" width="50" height="21.1" fill="#1470d6"/>
<rect x="667.8" y="122.5" width="99.7" height="21.1" fill="#254eb4"/>
<rect x="767.1" y="122.5" width="50" height="21.1" fill="#078bf1"/>
<rect x="816.7" y="122.5" width="50" height="21.1" fill="#00bd94"/>
<rect x="866.4" y="122.5" width="53.2" height="21.1" fill="#0099ff"/>
<rect x="174.7" y="143.2" width="46.8" height="21.1" fill="#1869cf"/>
<rect x="221.1" y="143.2" width="50" height="21.1" fill="#1177dd"/>
<rect x="270.8" y="143.2" width="50" height="21.1" fill="#0099ff"/>
<rect x="320.4" y="143.2" width="50" height="21.1" fill="#00c285"/>
<rect x="370" y="143.2" width="50" height="21.1" fill="#0fcf69"/>
<rect x="419.7" y="143.2" width="50" height="21.1" fill="#24d36d"/>
<rect x="469.3" y="143.2" width="50" height="21.1" fill="#2ed56f"/>
<rect x="518.9" y="143.2" width="50" height="21.1" fill="#00b2b2"/>
<rect x="568.6" y="143.2" width="50" height="21.1" fill="#0e7ee4"/>
<rect x="618.2" y="143.2" width="50" height="21.1" fill="#0392f8"/>
<rect x="667.8" y="143.2" width="99.7" height="21.1" fill="#0099ff"/>
<rect x="767.1" y="143.2" width="50" height="21.1" fill="#00a3e0"/>
<rect x="816.7" y="143.2" width="50" height="21.1" fill="#0fcf69"/>
<rect x="866.4" y="143.2" width="53.2" height="21.1" fill="#009ef0"/>
<rect x="174.7" y="163.9" width="46.8" height="21.1" fill="#2255bb"/>
<rect x="221.1" y="163.9" width="50" height="21.1" fill="#1177dd"/>
<rect x="270.8" y="163.9" width="50" height="21.1" fill="#00b2b2"/>
<rect x="320.4" y="163.9" width="50" height="21.1" fill="#24d36d"/>
<rect x="370" y="163.9" width="50" height="21.1" fill="#0fcf69"/>
<rect x="419.7" y="163.9" width="50" height="21.1" fill="#24d36d"/>
<rect x="469.3" y="163.9" width="50" height="21.1" fill="#2ed56f"/>
<rect x="518.9" y="163.9" width="50" height="21.1" fill="#00c775"/>
<rect x="568.6" y="163.9" width="149.3" height="21.1" fill="#0099ff"/>
<rect x="717.5" y="163.9" width="50" height="21.1" fill="#0392f8"/>
<rect x="767.1" y="163.9" width="50" height="21.1" fill="#1470d6"/>
<rect x="816.7" y="163.9" width="50" height="21.1" fill="#078bf1"/>
<rect x="866.4" y="163.9" width="53.2" height="21.1" fill="#1177dd"/>
<rect x="174.7" y="184.6" width="46.8" height="21.1" fill="#1b63c9"/>
<rect x="221.1" y="184.6" width="50" height="21.1" fill="#0099ff"/>
<rect x="270.8" y="184.6" width="50" height="21.1" fill="#00c285"/>
<rect x="320.4" y="184.6" width="50" height="21.1" fill="#42d973"/>
<rect x="370" y="184.6" width="50" height="21.1" fill="#6be17b"/>
<rect x="419.7" y="184.6" width="50" height="21.1" fill="#4cdb75"/>
<rect x="469.3" y="184.6" width="50" height="21.1" fill="#42d973"/>
<rect x="518.9" y="184.6" width="50" height="21.1" fill="#2ed56f"/>
<rect x="568.6" y="184.6" width="50" height="21.1" fill="#24d36d"/>
<rect x="618.2" y="184.6" width="50" height="21.1" fill="#0fcf69"/>
<rect x="667.8" y="184.6" width="50" height="21.1" fill="#1ad16b"/>
<rect x="717.5" y="184.6" width="50" height="21.1" fill="#00c775"/>
<rect x="767.1" y="184.6" width="99.7" height="21.1" fill="#0099ff"/>
<rect x="866.4" y="184.6" width="53.2" height="21.1" fill="#0e7ee4"/>
<rect x="174.7" y="205.3" width="46.8" height="21.1" fill="#0099ff"/>
<rect x="221.1" y="205.3" width="50" height="21.1" fill="#00c775"/>
<rect x="270.8" y="205.3" width="50" height="21.1" fill="#42d973"/>
<rect x="320.4" y="205.3" width="50" height="21.1" fill="#57dd77"/>
<rect x="370" y="205.3" width="50" height="21.1" fill="#4cdb75"/>
<rect x="419.7" y="205.3" width="50" height="21.1" fill="#42d973"/>
<rect x="469.3" y="205.3" width="99.7" height="21.1" fill="#38d771"/>
<rect x="568.6" y="205.3" width="50" height="21.1" fill="#4cdb75"/>
<rect x="618.2" y="205.3" width="50" height="21.1" fill="#57dd77"/>
<rect x="667.8" y="205.3" width="50" height="21.1" fill="#75e37d"/>
<rect x="717.5" y="205.3" width="50" height="21.1" fill="#6be17b"/>
<rect x="767.1" y="205.3" width="50" height="21.1" fill="#1ad16b"/>
<rect x="816.7" y="205.3" width="50" height="21.1" fill="#00b8a3"/>
<rect x="866.4" y="205.3" width="53.2" height="21.1" fill="#00a8d1"/>
<rect x="174.7" y="226" width="46.8" height="21.1" fill="#00b2b2"/>
<rect x="221.1" y="226" width="50" height="21.1" fill="#1ad16b"/>
<rect x="270.8" y="226" width="50" height="21.1" fill="#2ed56f"/>
<rect x="320.4" y="226" width="99.7" height="21.1" fill="#42d973"/>
<rect x="419.7" y="226" width="50" height="21.1" fill="#38d771"/>
<rect x="469.3" y="226" width="99.7" height="21.1" fill="#2ed56f"/>
<rect x="568.6" y="226" width="50" height="21.1" fill="#24d36d"/>
<rect x="618.2" y="226" width="50" height="21.1" fill="#61df79"/>
<rect x="667.8" y="226" width="50" height="21.1" fill="#80e680"/>
<rect x="717.5" y="226" width="50" height="21.1" fill="#61df79"/>
<rect x="767.1" y="226" width="50" height="21.1" fill="#38d771"/>
<rect x="816.7" y="226" width="50" height="21.1" fill="#24d36d"/>
<rect x="866.4" y="226" width="53.2" height="21.1" fill="#00bd94"/>
<rect x="174.7" y="246.7" width="46.8" height="21.1" fill="#00b2b2"/>
<rect x="221.1" y="246.7" width="99.7" height="21.1" fill="#0fcf69"/>
<rect x="320.4" y="246.7" width="50" height="21.1" fill="#24d36d"/>
<rect x="370" y="246.7" width="50" height="21.1" fill="#4cdb75"/>
<rect x="419.7" y="246.7" width="50" height="21.1" fill="#61df79"/>
<rect x="469.3" y="246.7" width="50" height="21.1" fill="#42d973"/>
<rect x="518.9" y="246.7" width="99.7" height="21.1" fill="#38d771"/>
<rect x="618.2" y="246.7" width="50" height="21.1" fill="#61df79"/>
<rect x="667.8" y="246.7" width="50" height="21.1" fill="#75e37d"/>
<rect x="717.5" y="246.7" width="50" height="21.1" fill="#57dd77"/>
<rect x="767.1" y="246.7" width="50" height="21.1" fill="#4cdb75"/>
<rect x="816.7" y="246.7" width="50" height="21.1" fill="#38d771"/>
<rect x="866.4" y="246.7" width="53.2" height="21.1" fill="#0fcf69"/>
<rect x="174.7" y="267.4" width="46.8" height="21.1" fill="#00b8a3"/>
<rect x="221.1" y="267.4" width="99.7" height="21.1" fill="#0fcf69"/>
<rect x="320.4" y="267.4" width="50" height="21.1" fill="#24d36d"/>
<rect x="370" y="267.4" width="149.3" height="21.1" fill="#2ed56f"/>
<rect x="518.9" y="267.4" width="99.7" height="21.1" fill="#38d771"/>
<rect x="618.2" y="267.4" width="50" height="21.1" fill="#61df79"/>
<rect x="667.8" y="267.4" width="50" height="21.1" fill="#75e37d"/>
<rect x="717.5" y="267.4" width="50" height="21.1" fill="#80e680"/>
<rect x="767.1" y="267.4" width="50" height="21.1" fill="#8ae882"/>
<rect x="816.7" y="267.4" width="50" height="21.1" fill="#61df79"/>
<rect x="866.4" y="267.4" width="53.2" height="21.1" fill="#24d36d"/>
<rect x="174.7" y="288.1" width="46.8" height="21.1" fill="#0fcf69"/>
<rect x="221.1" y="288.1" width="50" height="21.1" fill="#1ad16b"/>
<rect x="270.8" y="288.1" width="50" height="21.1" fill="#24d36d"/>
<rect x="320.4" y="288.1" width="99.7" height="21.1" fill="#2ed56f"/>
<rect x="419.7" y="288.1" width="198.9" height="21.1" fill="#38d771"/>
<rect x="618.2" y="288.1" width="99.7" height="21.1" fill="#80e680"/>
<rect x="717.5" y="288.1" width="99.7" height="21.1" fill="#94ea84"/>
<rect x="816.7" y="288.1" width="50" height="21.1" fill="#6be17b"/>
<rect x="866.4" y="288.1" width="53.2" height="21.1" fill="#42d973"/>
<rect x="174.7" y="308.8" width="96.5" height="21.1" fill="#24d36d"/>
<rect x="270.8" y="308.8" width="50" height="21.1" fill="#2ed56f"/>
<rect x="320.4" y="308.8" width="50" height="21.1" fill="#38d771"/>
<rect x="370" y="308.8" width="50" height="21.1" fill="#42d973"/>
<rect x="419.7" y="308.8" width="50" height="21.1" fill="#61df79"/>
<rect x="469.3" y="308.8" width="50" height="21.1" fill="#57dd77"/>
<rect x="518.9" y="308.8" width="50" height="21.1" fill="#61df79"/>
<rect x="568.6" y="308.8" width="50" height="21.1" fill="#8ae882"/>
<rect x="618.2" y="308.8" width="50" height="21.1" fill="#9eec86"/>
<rect x="667.8" y="308.8" width="99.7" height="21.1" fill="#adef89"/>
<rect x="767.1" y="308.8" width="50" height="21.1" fill="#8ae882"/>
<rect x="816.7" y="308.8" width="50" height="21.1" fill="#75e37d"/>
<rect x="866.4" y="308.8" width="53.2" height="21.1" fill="#57dd77"/>
<rect x="174.7" y="329.5" width="46.8" height="21.1" fill="#38d771"/>
<rect x="221.1" y="329.5" width="50" height="21.1" fill="#57dd77"/>
<rect x="270.8" y="329.5" width="50" height="21.1" fill="#80e680"/>
<rect x="320.4" y="329.5" width="50" height="21.1" fill="#94ea84"/>
<rect x="370" y="329.5" width="50" height="21.1" fill="#a8ee88"/>
<rect x="419.7" y="329.5" width="99.7" height="21.1" fill="#b8f18b"/>
<rect x="518.9" y="329.5" width="50" height="21.1" fill="#d6f791"/>
<rect x="568.6" y="329.5" width="50" height="21.1" fill="#f5fd97"/>
<rect x="618.2" y="329.5" width="50" height="21.1" fill="#f5f293"/>
<rect x="667.8" y="329.5" width="50" height="21.1" fill="#e6de8b"/>
<rect x="717.5" y="329.5" width="50" height="21.1" fill="#ebe58e"/>
<rect x="767.1" y="329.5" width="50" height="21.1" fill="#ccf58f"/>
<rect x="816.7" y="329.5" width="50" height="21.1" fill="#9eec86"/>
<rect x="866.4" y="329.5" width="53.2" height="21.1" fill="#80e680"/>
<rect x="174.7" y="350.2" width="46.8" height="21.1" fill="#80e680"/>
<rect x="221.1" y="350.2" width="50" height="21.1" fill="#9eec86"/>
<rect x="270.8" y="350.2" width="50" height="21.1" fill="#f5fd97"/>
<rect x="320.4" y="350.2" width="99.7" height="21.1" fill="#f0eb91"/>
<rect x="419.7" y="350.2" width="50" height="21.1" fill="#dbd186"/>
<rect x="469.3" y="350.2" width="50" height="21.1" fill="#ccbe7d"/>
<rect x="518.9" y="350.2" width="50" height="21.1" fill="#c7b77b"/>
<rect x="568.6" y="350.2" width="50" height="21.1" fill="#b8a472"/>
<rect x="618.2" y="350.2" width="50" height="21.1" fill="#b39d70"/>
<rect x="667.8" y="350.2" width="50" height="21.1" fill="#b8a472"/>
<rect x="717.5" y="350.2" width="50" height="21.1" fill="#bdaa75"/>
<rect x="767.1" y="350.2" width="50" height="21.1" fill="#ccbe7d"/>
<rect x="816.7" y="350.2" width="50" height="21.1" fill="#e6de8b"/>
<rect x="866.4" y="350.2" width="53.2" height="21.1" fill="#c2f38d"/>
<rect x="174.7" y="370.9" width="46.8" height="21.1" fill="#ffff99"/>
<rect x="221.1" y="370.9" width="50" height="21.1" fill="#d6cb83"/>
<rect x="270.8" y="370.9" width="50" height="21.1" fill="#ae976d"/>
<rect x="320.4" y="370.9" width="50" height="21.1" fill="#9e8365"/>
<rect x="370" y="370.9" width="50" height="21.1" fill="#8f705c"/>
<rect x="419.7" y="370.9" width="99.7" height="21.1" fill="#805c54"/>
<rect x="518.9" y="370.9" width="149.3" height="21.1" fill="#85635b"/>
<rect x="667.8" y="370.9" width="50" height="21.1" fill="#8a6962"/>
<rect x="717.5" y="370.9" width="50" height="21.1" fill="#805c54"/>
<rect x="767.1" y="370.9" width="50" height="21.1" fill="#997d62"/>
<rect x="816.7" y="370.9" width="50" height="21.1" fill="#ae976d"/>
<rect x="866.4" y="370.9" width="53.2" height="21.1" fill="#e1d888"/>
<rect x="174.7" y="391.6" width="46.8" height="21.1" fill="#ae976d"/>
<rect x="221.1" y="391.6" width="50" height="21.1" fill="#85635b"/>
<rect x="270.8" y="391.6" width="50" height="21.1" fill="#8a6962"/>
<rect x="320.4" y="391.6" width="50" height="21.1" fill="#a48a84"/>
<rect x="370" y="391.6" width="50" height="21.1" fill="#b8a49f"/>
<rect x="419.7" y="391.6" width="50" height="21.1" fill="#c2b1ad"/>
<rect x="469.3" y="391.6" width="99.7" height="21.1" fill="#c7b7b4"/>
<rect x="568.6" y="391.6" width="50" height="21.1" fill="#ccbebb"/>
<rect x="618.2" y="391.6" width="50" height="21.1" fill="#c7b7b4"/>
<rect x="667.8" y="391.6" width="50" height="21.1" fill="#c2b1ad"/>
<rect x="717.5" y="391.6" width="50" height="21.1" fill="#b39d98"/>
<rect x="767.1" y="391.6" width="50" height="21.1" fill="#9e837d"/>
<rect x="816.7" y="391.6" width="50" height="21.1" fill="#805c54"/>
<rect x="866.4" y="391.6" width="53.2" height="21.1" fill="#a9906a"/>
<rect x="174.7" y="412.3" width="46.8" height="21.1" fill="#94766f"/>
<rect x="221.1" y="412.3" width="50" height="21.1" fill="#b8a49f"/>
<rect x="270.8" y="412.3" width="50" height="21.1" fill="#c7b7b4"/>
<rect x="320.4" y="412.3" width="50" height="21.1" fill="#d1c4c1"/>
<rect x="370" y="412.3" width="50" height="21.1" fill="#d6cbc8"/>
<rect x="419.7" y="412.3" width="50" height="21.1" fill="#e1d8d6"/>
<rect x="469.3" y="412.3" width="149.3" height="21.1" fill="#e6dedd"/>
<rect x="618.2" y="412.3" width="50" height="21.1" fill="#e1d8d6"/>
<rect x="667.8" y="412.3" width="50" height="21.1" fill="#dbd1cf"/>
<rect x="717.5" y="412.3" width="50" height="21.1" fill="#d1c4c1"/>
<rect x="767.1" y="412.3" width="50" height="21.1" fill="#c2b1ad"/>
<rect x="816.7" y="412.3" width="50" height="21.1" fill="#ae9792"/>
<rect x="866.4" y="412.3" width="53.2" height="21.1" fill="#94766f"/>
<rect x="174.7" y="433" width="46.8" height="21.1" fill="#ccbebb"/>
<rect x="221.1" y="433" width="50" height="21.1" fill="#dbd1cf"/>
<rect x="270.8" y="433" width="149.3" height="21.1" fill="#e1d8d6"/>
<rect x="419.7" y="433" width="99.7" height="21.1" fill="#e6dedd"/>
<rect x="518.9" y="433" width="50" height="21.1" fill="#ebe5e4"/>
<rect x="568.6" y="433" width="149.3" height="21.1" fill="#f0ebea"/>
<rect x="717.5" y="433" width="50" height="21.1" fill="#e6dedd"/>
<rect x="767.1" y="433" width="50" height="21.1" fill="#dbd1cf"/>
<rect x="816.7" y="433" width="50" height="21.1" fill="#d1c4c1"/>
<rect x="866.4" y="433" width="53.2" height="21.1" fill="#c7b7b4"/>
<rect x="174.7" y="453.7" width="46.8" height="21.1" fill="#d6cbc8"/>
<rect x="221.1" y="453.7" width="50" height="21.1" fill="#e1d8d6"/>
<rect x="270.8" y="453.7" width="50" height="21.1" fill="#ebe5e4"/>
<rect x="320.4" y="453.7" width="149.3" height="21.1" fill="#ede8e7"/>
<rect x="469.3" y="453.7" width="99.7" height="21.1" fill="#f0ebea"/>
<rect x="568.6" y="453.7" width="99.7" height="21.1" fill="#f5f2f1"/>
<rect x="667.8" y="453.7" width="50" height="21.1" fill="#f2efee"/>
<rect x="717.5" y="453.7" width="50" height="21.1" fill="#f0ebea"/>
<rect x="767.1" y="453.7" width="50" height="21.1" fill="#ebe5e4"/>
<rect x="816.7" y="453.7" width="102.9" height="21.1" fill="#e1d8d6"/>
<rect x="174.7" y="474.4" width="46.8" height="21.1" fill="#ebe5e4"/>
<rect x="221.1" y="474.4" width="50" height="21.1" fill="#ede8e7"/>
<rect x="270.8" y="474.4" width="99.7" height="21.1" fill="#f2efee"/>
<rect x="370" y="474.4" width="50" height="21.1" fill="#f5f2f1"/>
<rect x="419.7" y="474.4" width="50" height="21.1" fill="#f7f5f5"/>
<rect x="469.3" y="474.4" width="149.3" height="21.1" fill="#faf8f8"/>
<rect x="618.2" y="474.4" width="149.3" height="21.1" fill="#f7f5f5"/>
<rect x="767.1" y="474.4" width="50" height="21.1" fill="#f5f2f1"/>
<rect x="816.7" y="474.4" width="50" height="21.1" fill="#f2efee"/>
<rect x="866.4" y="474.4" width="53.2" height="21.1" fill="#f0ebea"/>
<rect x="174.7" y="495.1" width="96.5" height="21.1" fill="#f5f2f1"/>
<rect x="270.8" y="495.1" width="50" height="21.1" fill="#f7f5f5"/>
<rect x="320.4" y="495.1" width="248.6" height="21.1" fill="#faf8f8"/>
<rect x="568.6" y="495.1" width="99.7" height="21.1" fill="#ffffff"/>
<rect x="667.8" y="495.1" width="50" height="21.1" fill="#faf8f8"/>
<rect x="717.5" y="495.1" width="99.7" height="21.1" fill="#ffffff"/>
<rect x="816.7" y="495.1" width="50" height="21.1" fill="#faf8f8"/>
<rect x="866.4" y="495.1" width="53.2" height="21.1" fill="#f7f5f5"/>
<rect x="174.7" y="515.8" width="46.8" height="21.1" fill="#f7f5f5"/>
<rect x="221.1" y="515.8" width="198.9" height="21.1" fill="#faf8f8"/>
<rect x="419.7" y="515.8" width="99.7" height="21.1" fill="#fbfafa"/>
<rect x="518.9" y="515.8" width="248.6" height="21.1" fill="#ffffff"/>
<rect x="767.1" y="515.8" width="50" height="21.1" fill="#fbfafa"/>
<rect x="816.7" y="515.8" width="102.9" height="21.1" fill="#faf8f8"/>
<rect x="174.7" y="536.5" width="46.8" height="21.1" fill="#f7f5f5"/>
<rect x="221.1" y="536.5" width="298.2" height="21.1" fill="#fbfafa"/>
<rect x="518.9" y="536.5" width="298.2" height="21.1" fill="#ffffff"/>
<rect x="816.7" y="536.5" width="102.9" height="21.1" fill="#fcfcfc"/>
<rect x="174.7" y="557.2" width="744.9" height="21.1" fill="#ffffff"/>
<rect x="174.7" y="577.9" width="744.9" height="21.1" fill="#ffffff"/>
<rect x="174.7" y="598.6" width="744.9" height="21.1" fill="#ffffff"/>
<rect x="174.7" y="619.3" width="744.9" height="21.1" fill="#ffffff"/>
<rect x="174.7" y="640" width="744.9" height="21.1" fill="#ffffff"/>
<rect x="174.7" y="660.7" width="744.9" height="21.1" fill="#ffffff"/>
<rect x="174.7" y="681.4" width="744.9" height="21.1" fill="#ffffff"/>
<rect x="174.7" y="702.1" width="744.9" height="21.1" fill="#ffffff"/>
<rect x="174.7" y="722.8" width="744.9" height="21.1" fill="#ffffff"/>
<rect x="174.7" y="743.5" width="744.9" height="21.1" fill="#ffffff"/>
<rect x="174.7" y="764.2" width="744.9" height="21.1" fill="#ffffff"/>
<rect x="174.7" y="784.9" width="443.9" height="21.1" fill="#ffffff"/>
<rect x="618.2" y="784.9" width="50" height="21.1" fill="#f5f2f1"/>
<rect x="667.8" y="784.9" width="50" height="21.1" fill="#ffffff"/>
<rect x="717.5" y="784.9" width="50" height="21.1" fill="#f7f5f5"/>
<rect x="767.1" y="784.9" width="50" height="21.1" fill="#faf8f8"/>
<rect x="816.7" y="784.9" width="102.9" height="21.1" fill="#ffffff"/>
</g>
<g clip-path="url(#ax)">
<path class="c" d="M565.6 436.5 620.2 431.4 670.7 411.2 721.2 406.2 767.5 394.4 789.4 390.6 778 370.4 721.2 362 670.7 350.2 644.6 328.8 620.2 320.8 599.2 308.2 582.4 287.1 569.8 280.8 519.3 277.9 489.8 282.1 452 288 422.5 298.1 405.7 308.2 367.8 316.6 297.6 329.2 273.2 351.5 255.5 370.4 273.2 386 285.8 390.6 321.6 394.8 367.8 407 422.5 425.1 475.1 436.5"/>
<text class="cl" transform="translate(520.5 436)" dy="9">15 %</text>
<path class="c" d="M511.7 141.2 521.4 138.3 529.8 141.2 521.4 160.2Z"/>
<path class="t" d="M316.7 785.4 321.5 783.2 326.3 785.4 321.5 787.6 316.7 785.4M311.9 785.4 321.5 781 331.1 785.4 321.5 789.8 311.9 785.4M307.1 785.4 321.5 778.8 335.9 785.4 321.5 792 307.1 785.4M302.3 785.4 321.5 776.6 340.7 785.4 321.5 794.2 302.3 785.4M297.5 785.4 321.5 774.4 345.5 785.4 321.5 796.4 297.5 785.4M292.7 785.4 321.5 772.2 350.3 785.4 321.5 798.6 292.7 785.4M287.9 785.4 321.5 770 355.1 785.4 321.5 800.8 287.9 785.4M283.1 785.4 321.5 767.8 359.9 785.4 321.5 803 283.1 785.4M278.3 785.4 321.5 765.6 364.7 785.4 321.5 805.2 278.3 785.4"/>
<text class="cl" transform="translate(321.5 766)" dy="9">15 %</text>
</g>
<path class="tk" d="M224.3 60.4v12.3M224.3 805.6v-12.3M274 60.4v12.3M274 805.6v-12.3M323.6 60.4v12.3M323.6 805.6v-12.3M373.2 60.4v12.3M373.2 805.6v-12.3M422.9 60.4v12.3M422.9 805.6v-12.3M472.5 60.4v12.3M472.5 805.6v-12.3M522.1 60.4v12.3M522.1 805.6v-12.3M571.8 60.4v12.3M571.8 805.6v-12.3M621.4 60.4v12.3M621.4 805.6v-12.3M671 60.4v12.3M671 805.6v-12.3M720.7 60.4v12.3M720.7 805.6v-12.3M770.3 60.4v12.3M770.3 805.6v-12.3M819.9 60.4v12.3M819.9 805.6v-12.3M869.6 60.4v12.3M869.6 805.6v-12.3M174.7 81.8h12.3M919.2 81.8h-12.3M174.7 102.5h12.3M919.2 102.5h-12.3M174.7 123.2h12.3M919.2 123.2h-12.3M174.7 143.9h12.3M919.2 143.9h-12.3M174.7 164.6h12.3M919.2 164.6h-12.3M174.7 185.3h12.3M919.2 185.3h-12.3M174.7 206h12.3M919.2 206h-12.3M174.7 226.7h12.3M919.2 226.7h-12.3M174.7 247.4h12.3M919.2 247.4h-12.3M174.7 268.1h12.3M919.2 268.1h-12.3M174.7 288.8h12.3M919.2 288.8h-12.3M174.7 309.5h12.3M919.2 309.5h-12.3M174.7 330.2h12.3M919.2 330.2h-12.3M174.7 350.9h12.3M919.2 350.9h-12.3M174.7 371.6h12.3M919.2 371.6h-12.3M174.7 392.3h12.3M919.2 392.3h-12.3M174.7 413h12.3M919.2 413h-12.3M174.7 433.7h12.3M919.2 433.7h-12.3M174.7 454.4h12.3M919.2 454.4h-12.3M174.7 475.1h12.3M919.2 475.1h-12.3M174.7 495.8h12.3M919.2 495.8h-12.3M174.7 516.5h12.3M919.2 516.5h-12.3M174.7 537.2h12.3M919.2 537.2h-12.3M174.7 557.9h12.3M919.2 557.9h-12.3M174.7 578.6h12.3M919.2 578.6h-12.3M174.7 599.3h12.3M919.2 599.3h-12.3M174.7 620h12.3M919.2 620h-12.3M174.7 640.7h12.3M919.2 640.7h-12.3M174.7 661.4h12.3M919.2 661.4h-12.3M174.7 682.1h12.3M919.2 682.1h-12.3M174.7 702.8h12.3M919.2 702.8h-12.3M174.7 723.5h12.3M919.2 723.5h-12.3M174.7 744.2h12.3M919.2 744.2h-12.3M174.7 764.9h12.3M919.2 764.9h-12.3M174.7 785.6h12.3M919.2 785.6h-12.3"/>
<rect class="fr" x="174.7" y="60.4" width="744.5" height="745.2"/>
<text class="ti" transform="translate(545 46.5) scale(1 0.95)">S2, 20180619</text>
<text class="yl" transform="translate(57.3 435) rotate(-90) scale(1 1.1)">Altitudes (m)</text>
<text class="ty" transform="translate(124.6 808.1) rotate(-50.5)" dy="11.8">500</text>
<text class="ty" transform="translate(118 704.6) rotate(-50.5)" dy="11.8">1000</text>
<text class="ty" transform="translate(118 601.1) rotate(-50.5)" dy="11.8">1500</text>
<text class="ty" transform="translate(118 497.6) rotate(-50.5)" dy="11.8">2000</text>
<text class="ty" transform="translate(118 394.1) rotate(-50.5)" dy="11.8">2500</text>
<text class="ty" transform="translate(118 290.6) rotate(-50.5)" dy="11.8">3000</text>
<text class="ty" transform="translate(118 187.1) rotate(-50.5)" dy="11.8">3500</text>
<text class="ty" transform="translate(118 83.6) rotate(-50.5)" dy="11.8">4000</text>
<text class="tx" transform="translate(170.2 836.2) rotate(-70)" dy="11.5">N</text>
<text class="tx" transform="translate(269.5 845.7) rotate(-70)" dy="11.5">NE</text>
<text class="tx" transform="translate(368.7 834.5) rotate(-70)" dy="11.5">E</text>
<text class="tx" transform="translate(468 844) rotate(-70)" dy="11.5">SE</text>
<text class="tx" transform="translate(567.3 834.5) rotate(-70)" dy="11.5">S</text>
<text class="tx" transform="translate(666.5 849.4) rotate(-70)" dy="11.5">SW</text>
<text class="tx" transform="translate(765.8 839.8) rotate(-70)" dy="11.5">W</text>
<text class="tx" transform="translate(865.1 851.1) rotate(-70)" dy="11.5">NW</text>
<text class="tx" transform="translate(914.7 836.2) rotate(-70)" dy="11.5">N</text>
<rect x="174.7" y="965.6" width="744.5" height="38.2" fill="url(#cb)"/>
<path class="tk" d="M249.1 1003.8v-12M323.6 1003.8v-12M398 1003.8v-12M472.5 1003.8v-12M547 1003.8v-12M621.4 1003.8v-12M695.8 1003.8v-12M770.3 1003.8v-12M844.8 1003.8v-12"/>
<rect class="fr" x="174.7" y="965.6" width="744.5" height="38.2"/>
<text class="tc" transform="translate(172.5 1040.2) scale(1 1.1)">0</text>
<text class="tc" transform="translate(246.9 1040.2) scale(1 1.1)">10</text>
<text class="tc" transform="translate(321.4 1040.2) scale(1 1.1)">20</text>
<text class="tc" transform="translate(395.8 1040.2) scale(1 1.1)">30</text>
<text class="tc" transform="translate(470.3 1040.2) scale(1 1.1)">40</text>
<text class="tc" transform="translate(544.8 1040.2) scale(1 1.1)">50</text>
<text class="tc" transform="translate(619.2 1040.2) scale(1 1.1)">60</text>
<text class="tc" transform="translate(693.6 1040.2) scale(1 1.1)">70</text>
<text class="tc" transform="translate(768.1 1040.2) scale(1 1.1)">80</text>
<text class="tc" transform="translate(842.5 1040.2) scale(1 1.1)">90</text>
<text class="tc" transform="translate(919 1040.2) scale(1 1.1)">100</text>
</g>
<g transform="translate(0 1186.6)">
<g shape-rendering="crispEdges">
<rect x="174.7" y="60.4" width="46.8" height="21.1" fill="#c2b1ad"/>
<rect x="221.1" y="60.4" width="50" height="21.1" fill="#e6dedd"/>
<rect x="270.8" y="60.4" width="50" height="21.1" fill="#ffffff"/>
<rect x="320.4" y="60.4" width="50" height="21.1" fill="#997d62"/>
<rect x="370" y="60.4" width="50" height="21.1" fill="#c2b178"/>
<rect x="419.7" y="60.4" width="50" height="21.1" fill="#805c54"/>
<rect x="469.3" y="60.4" width="50" height="21.1" fill="#997d62"/>
<rect x="518.9" y="60.4" width="50" height="21.1" fill="#805c54"/>
<rect x="568.6" y="60.4" width="50" height="21.1" fill="#e6de8b"/>
<rect x="618.2" y="60.4" width="50" height="21.1" fill="#ffff99"/>
<rect x="667.8" y="60.4" width="99.7" height="21.1" fill="#333399"/>
<rect x="767.1" y="60.4" width="50" height="21.1" fill="#ffffff"/>
<rect x="816.7" y="60.4" width="102.9" height="21.1" fill="#805c54"/>
<rect x="174.7" y="81.1" width="46.8" height="21.1" fill="#f0ebea"/>
<rect x="221.1" y="81.1" width="99.7" height="21.1" fill="#ffffff"/>
<rect x="320.4" y="81.1" width="50" height="21.1" fill="#f5f2f1"/>
<rect x="370" y="81.1" width="50" height="21.1" fill="#f0ebea"/>
<rect x="419.7" y="81.1" width="50" height="21.1" fill="#c2b1ad"/>
<rect x="469.3" y="81.1" width="50" height="21.1" fill="#d1c4c1"/>
<rect x="518.9" y="81.1" width="50" height="21.1" fill="#ccbebb"/>
<rect x="568.6" y="81.1" width="50" height="21.1" fill="#c7b7b4"/>
<rect x="618.2" y="81.1" width="99.7" height="21.1" fill="#d1c4c1"/>
<rect x="717.5" y="81.1" width="50" height="21.1" fill="#ccbebb"/>
<rect x="767.1" y="81.1" width="50" height="21.1" fill="#8f7069"/>
<rect x="816.7" y="81.1" width="50" height="21.1" fill="#ccbebb"/>
<rect x="866.4" y="81.1" width="53.2" height="21.1" fill="#e6dedd"/>
<rect x="174.7" y="101.8" width="46.8" height="21.1" fill="#d1c4c1"/>
<rect x="221.1" y="101.8" width="99.7" height="21.1" fill="#ccbebb"/>
<rect x="320.4" y="101.8" width="50" height="21.1" fill="#c7b7b4"/>
<rect x="370" y="101.8" width="50" height="21.1" fill="#e1d8d6"/>
<rect x="419.7" y="101.8" width="50" height="21.1" fill="#c7b7b4"/>
<rect x="469.3" y="101.8" width="50" height="21.1" fill="#9e837d"/>
<rect x="518.9" y="101.8" width="50" height="21.1" fill="#8f7069"/>
<rect x="568.6" y="101.8" width="50" height="21.1" fill="#8a6962"/>
<rect x="618.2" y="101.8" width="50" height="21.1" fill="#d1c4c1"/>
<rect x="667.8" y="101.8" width="50" height="21.1" fill="#bdaaa6"/>
<rect x="717.5" y="101.8" width="50" height="21.1" fill="#8a6962"/>
<rect x="767.1" y="101.8" width="50" height="21.1" fill="#c2b178"/>
<rect x="816.7" y="101.8" width="50" height="21.1" fill="#b39d98"/>
<rect x="866.4" y="101.8" width="53.2" height="21.1" fill="#e6dedd"/>
<rect x="174.7" y="122.5" width="96.5" height="21.1" fill="#d6cbc8"/>
<rect x="270.8" y="122.5" width="99.7" height="21.1" fill="#997d76"/>
<rect x="370" y="122.5" width="50" height="21.1" fill="#9e837d"/>
<rect x="419.7" y="122.5" width="50" height="21.1" fill="#997d76"/>
<rect x="469.3" y="122.5" width="50" height="21.1" fill="#8a695a"/>
<rect x="518.9" y="122.5" width="50" height="21.1" fill="#c7b77b"/>
<rect x="568.6" y="122.5" width="50" height="21.1" fill="#a9906a"/>
<rect x="618.2" y="122.5" width="50" height="21.1" fill="#c2b178"/>
<rect x="667.8" y="122.5" width="50" height="21.1" fill="#ccbe7d"/>
<rect x="717.5" y="122.5" width="99.7" height="21.1" fill="#a48a67"/>
<rect x="816.7" y="122.5" width="102.9" height="21.1" fill="#bdaaa6"/>
<rect x="174.7" y="143.2" width="46.8" height="21.1" fill="#b8a49f"/>
<rect x="221.1" y="143.2" width="50" height="21.1" fill="#94766f"/>
<rect x="270.8" y="143.2" width="50" height="21.1" fill="#997d62"/>
<rect x="320.4" y="143.2" width="50" height="21.1" fill="#d6cb83"/>
<rect x="370" y="143.2" width="50" height="21.1" fill="#ae976d"/>
<rect x="419.7" y="143.2" width="50" height="21.1" fill="#b39d70"/>
<rect x="469.3" y="143.2" width="50" height="21.1" fill="#ccbe7d"/>
<rect x="518.9" y="143.2" width="50" height="21.1" fill="#c2b178"/>
<rect x="568.6" y="143.2" width="50" height="21.1" fill="#a9906a"/>
<rect x="618.2" y="143.2" width="50" height="21.1" fill="#bdaa75"/>
<rect x="667.8" y="143.2" width="50" height="21.1" fill="#c7b77b"/>
<rect x="717.5" y="143.2" width="50" height="21.1" fill="#b8a472"/>
<rect x="767.1" y="143.2" width="50" height="21.1" fill="#856357"/>
<rect x="816.7" y="143.2" width="50" height="21.1" fill="#8f7069"/>
<rect x="866.4" y="143.2" width="53.2" height="21.1" fill="#9e837d"/>
<rect x="174.7" y="163.9" width="46.8" height="21.1" fill="#bdaaa6"/>
<rect x="221.1" y="163.9" width="50" height="21.1" fill="#a48a84"/>
<rect x="270.8" y="163.9" width="50" height="21.1" fill="#ae976d"/>
<rect x="320.4" y="163.9" width="50" height="21.1" fill="#e1d888"/>
<rect x="370" y="163.9" width="50" height="21.1" fill="#d1c480"/>
<rect x="419.7" y="163.9" width="50" height="21.1" fill="#dbd186"/>
<rect x="469.3" y="163.9" width="50" height="21.1" fill="#ebe58e"/>
<rect x="518.9" y="163.9" width="50" height="21.1" fill="#d6cb83"/>
<rect x="568.6" y="163.9" width="50" height="21.1" fill="#b8a472"/>
<rect x="618.2" y="163.9" width="99.7" height="21.1" fill="#b39d70"/>
<rect x="717.5" y="163.9" width="50" height="21.1" fill="#9e8365"/>
<rect x="767.1" y="163.9" width="50" height="21.1" fill="#856357"/>
<rect x="816.7" y="163.9" width="102.9" height="21.1" fill="#8a6962"/>
<rect x="174.7" y="184.6" width="46.8" height="21.1" fill="#bdaaa6"/>
<rect x="221.1" y="184.6" width="50" height="21.1" fill="#a9908b"/>
<rect x="270.8" y="184.6" width="50" height="21.1" fill="#85635b"/>
<rect x="320.4" y="184.6" width="50" height="21.1" fill="#ae976d"/>
<rect x="370" y="184.6" width="50" height="21.1" fill="#d6cb83"/>
<rect x="419.7" y="184.6" width="50" height="21.1" fill="#e7fa94"/>
<rect x="469.3" y="184.6" width="50" height="21.1" fill="#adef89"/>
<rect x="518.9" y="184.6" width="50" height="21.1" fill="#a5ed87"/>
<rect x="568.6" y="184.6" width="50" height="21.1" fill="#c6f48e"/>
<rect x="618.2" y="184.6" width="50" height="21.1" fill="#ebfb95"/>
<rect x="667.8" y="184.6" width="50" height="21.1" fill="#f0eb91"/>
<rect x="717.5" y="184.6" width="50" height="21.1" fill="#ccbe7d"/>
<rect x="767.1" y="184.6" width="50" height="21.1" fill="#886658"/>
<rect x="816.7" y="184.6" width="50" height="21.1" fill="#8f7069"/>
<rect x="866.4" y="184.6" width="53.2" height="21.1" fill="#9e837d"/>
<rect x="174.7" y="205.3" width="46.8" height="21.1" fill="#b39d98"/>
<rect x="221.1" y="205.3" width="50" height="21.1" fill="#85635b"/>
<rect x="270.8" y="205.3" width="50" height="21.1" fill="#c7b77b"/>
<rect x="320.4" y="205.3" width="50" height="21.1" fill="#ebfb95"/>
<rect x="370" y="205.3" width="50" height="21.1" fill="#a5ed87"/>
<rect x="419.7" y="205.3" width="50" height="21.1" fill="#47da74"/>
<rect x="469.3" y="205.3" width="50" height="21.1" fill="#0ace68"/>
<rect x="518.9" y="205.3" width="50" height="21.1" fill="#14d06a"/>
<rect x="568.6" y="205.3" width="99.7" height="21.1" fill="#1fd26c"/>
<rect x="667.8" y="205.3" width="50" height="21.1" fill="#38d771"/>
<rect x="717.5" y="205.3" width="50" height="21.1" fill="#c2f38d"/>
<rect x="767.1" y="205.3" width="50" height="21.1" fill="#c2b178"/>
<rect x="816.7" y="205.3" width="50" height="21.1" fill="#94765f"/>
<rect x="866.4" y="205.3" width="53.2" height="21.1" fill="#997d76"/>
<rect x="174.7" y="226" width="46.8" height="21.1" fill="#b8a49f"/>
<rect x="221.1" y="226" width="50" height="21.1" fill="#a48a67"/>
<rect x="270.8" y="226" width="50" height="21.1" fill="#e6de8b"/>
<rect x="320.4" y="226" width="50" height="21.1" fill="#a5ed87"/>
<rect x="370" y="226" width="50" height="21.1" fill="#3dd872"/>
<rect x="419.7" y="226" width="50" height="21.1" fill="#14d06a"/>
<rect x="469.3" y="226" width="50" height="21.1" fill="#00a8d1"/>
<rect x="518.9" y="226" width="50" height="21.1" fill="#00adc2"/>
<rect x="568.6" y="226" width="50" height="21.1" fill="#00bd94"/>
<rect x="618.2" y="226" width="50" height="21.1" fill="#00c775"/>
<rect x="667.8" y="226" width="50" height="21.1" fill="#0ace68"/>
<rect x="717.5" y="226" width="50" height="21.1" fill="#33d670"/>
<rect x="767.1" y="226" width="50" height="21.1" fill="#adef89"/>
<rect x="816.7" y="226" width="50" height="21.1" fill="#dbd186"/>
<rect x="866.4" y="226" width="53.2" height="21.1" fill="#9e8365"/>
<rect x="174.7" y="246.7" width="46.8" height="21.1" fill="#85635b"/>
<rect x="221.1" y="246.7" width="50" height="21.1" fill="#e6de8b"/>
<rect x="270.8" y="246.7" width="50" height="21.1" fill="#85e781"/>
<rect x="320.4" y="246.7" width="50" height="21.1" fill="#29d46e"/>
<rect x="370" y="246.7" width="50" height="21.1" fill="#0ace68"/>
<rect x="419.7" y="246.7" width="50" height="21.1" fill="#00b8a3"/>
<rect x="469.3" y="246.7" width="99.7" height="21.1" fill="#0099ff"/>
<rect x="568.6" y="246.7" width="50" height="21.1" fill="#00adc2"/>
<rect x="618.2" y="246.7" width="50" height="21.1" fill="#00bd94"/>
<rect x="667.8" y="246.7" width="50" height="21.1" fill="#00c285"/>
<rect x="717.5" y="246.7" width="50" height="21.1" fill="#00c775"/>
<rect x="767.1" y="246.7" width="50" height="21.1" fill="#0ace68"/>
<rect x="816.7" y="246.7" width="50" height="21.1" fill="#70e27c"/>
<rect x="866.4" y="246.7" width="53.2" height="21.1" fill="#ccbe7d"/>
<rect x="174.7" y="267.4" width="46.8" height="21.1" fill="#b39d70"/>
<rect x="221.1" y="267.4" width="50" height="21.1" fill="#cef58f"/>
<rect x="270.8" y="267.4" width="50" height="21.1" fill="#1fd26c"/>
<rect x="320.4" y="267.4" width="50" height="21.1" fill="#00bd94"/>
<rect x="370" y="267.4" width="50" height="21.1" fill="#00a8d1"/>
<rect x="419.7" y="267.4" width="50" height="21.1" fill="#009ef0"/>
<rect x="469.3" y="267.4" width="149.3" height="21.1" fill="#0392f8"/>
<rect x="618.2" y="267.4" width="149.3" height="21.1" fill="#0099ff"/>
<rect x="767.1" y="267.4" width="50" height="21.1" fill="#00adc2"/>
<rect x="816.7" y="267.4" width="50" height="21.1" fill="#29d46e"/>
<rect x="866.4" y="267.4" width="53.2" height="21.1" fill="#cef58f"/>
<rect x="174.7" y="288.1" width="46.8" height="21.1" fill="#ebe58e"/>
<rect x="221.1" y="288.1" width="50" height="21.1" fill="#47da74"/>
<rect x="270.8" y="288.1" width="50" height="21.1" fill="#00c285"/>
<rect x="320.4" y="288.1" width="50" height="21.1" fill="#00a8d1"/>
<rect x="370" y="288.1" width="50" height="21.1" fill="#00a3e0"/>
<rect x="419.7" y="288.1" width="50" height="21.1" fill="#0099ff"/>
<rect x="469.3" y="288.1" width="50" height="21.1" fill="#0392f8"/>
<rect x="518.9" y="288.1" width="99.7" height="21.1" fill="#0a85eb"/>
<rect x="618.2" y="288.1" width="50" height="21.1" fill="#078bf1"/>
<rect x="667.8" y="288.1" width="50" height="21.1" fill="#0392f8"/>
<rect x="717.5" y="288.1" width="50" height="21.1" fill="#0099ff"/>
<rect x="767.1" y="288.1" width="50" height="21.1" fill="#00a8d1"/>
<rect x="816.7" y="288.1" width="50" height="21.1" fill="#00cc66"/>
<rect x="866.4" y="288.1" width="53.2" height="21.1" fill="#9deb85"/>
<rect x="174.7" y="308.8" width="46.8" height="21.1" fill="#95ea84"/>
<rect x="221.1" y="308.8" width="50" height="21.1" fill="#00cc66"/>
<rect x="270.8" y="308.8" width="50" height="21.1" fill="#0099ff"/>
<rect x="320.4" y="308.8" width="198.9" height="21.1" fill="#0392f8"/>
<rect x="518.9" y="308.8" width="50" height="21.1" fill="#0e7ee4"/>
<rect x="568.6" y="308.8" width="50" height="21.1" fill="#0a85eb"/>
<rect x="618.2" y="308.8" width="50" height="21.1" fill="#0e7ee4"/>
<rect x="667.8" y="308.8" width="50" height="21.1" fill="#078bf1"/>
<rect x="717.5" y="308.8" width="50" height="21.1" fill="#0392f8"/>
<rect x="767.1" y="308.8" width="99.7" height="21.1" fill="#0099ff"/>
<rect x="866.4" y="308.8" width="53.2" height="21.1" fill="#33d670"/>
<rect x="174.7" y="329.5" width="46.8" height="21.1" fill="#00cc66"/>
<rect x="221.1" y="329.5" width="50" height="21.1" fill="#00a8d1"/>
<rect x="270.8" y="329.5" width="248.6" height="21.1" fill="#0392f8"/>
<rect x="518.9" y="329.5" width="50" height="21.1" fill="#078bf1"/>
<rect x="568.6" y="329.5" width="50" height="21.1" fill="#0392f8"/>
<rect x="618.2" y="329.5" width="50" height="21.1" fill="#078bf1"/>
<rect x="667.8" y="329.5" width="149.3" height="21.1" fill="#0392f8"/>
<rect x="816.7" y="329.5" width="50" height="21.1" fill="#0099ff"/>
<rect x="866.4" y="329.5" width="53.2" height="21.1" fill="#00b2b2"/>
<rect x="174.7" y="350.2" width="46.8" height="21.1" fill="#0099ff"/>
<rect x="221.1" y="350.2" width="99.7" height="21.1" fill="#0a85eb"/>
<rect x="320.4" y="350.2" width="99.7" height="21.1" fill="#078bf1"/>
<rect x="419.7" y="350.2" width="99.7" height="21.1" fill="#0392f8"/>
<rect x="518.9" y="350.2" width="50" height="21.1" fill="#0099ff"/>
<rect x="568.6" y="350.2" width="50" height="21.1" fill="#009ef0"/>
<rect x="618.2" y="350.2" width="301.4" height="21.1" fill="#0099ff"/>
<rect x="174.7" y="370.9" width="46.8" height="21.1" fill="#0392f8"/>
<rect x="221.1" y="370.9" width="99.7" height="21.1" fill="#0a85eb"/>
<rect x="320.4" y="370.9" width="99.7" height="21.1" fill="#078bf1"/>
<rect x="419.7" y="370.9" width="50" height="21.1" fill="#0392f8"/>
<rect x="469.3" y="370.9" width="50" height="21.1" fill="#0099ff"/>
<rect x="518.9" y="370.9" width="50" height="21.1" fill="#00a8d1"/>
<rect x="568.6" y="370.9" width="50" height="21.1" fill="#00b2b2"/>
<rect x="618.2" y="370.9" width="50" height="21.1" fill="#00a3e0"/>
<rect x="667.8" y="370.9" width="99.7" height="21.1" fill="#0099ff"/>
<rect x="767.1" y="370.9" width="152.5" height="21.1" fill="#0392f8"/>
<rect x="174.7" y="391.6" width="46.8" height="21.1" fill="#078bf1"/>
<rect x="221.1" y="391.6" width="50" height="21.1" fill="#0a85eb"/>
<rect x="270.8" y="391.6" width="99.7" height="21.1" fill="#078bf1"/>
<rect x="370" y="391.6" width="50" height="21.1" fill="#0392f8"/>
<rect x="419.7" y="391.6" width="50" height="21.1" fill="#0099ff"/>
<rect x="469.3" y="391.6" width="50" height="21.1" fill="#00b2b2"/>
<rect x="518.9" y="391.6" width="50" height="21.1" fill="#00c775"/>
<rect x="568.6" y="391.6" width="50" height="21.1" fill="#00cc66"/>
<rect x="618.2" y="391.6" width="50" height="21.1" fill="#00b8a3"/>
<rect x="667.8" y="391.6" width="50" height="21.1" fill="#009ef0"/>
<rect x="717.5" y="391.6" width="50" height="21.1" fill="#0099ff"/>
<rect x="767.1" y="391.6" width="50" height="21.1" fill="#078bf1"/>
<rect x="816.7" y="391.6" width="50" height="21.1" fill="#0392f8"/>
<rect x="866.4" y="391.6" width="53.2" height="21.1" fill="#0099ff"/>
<rect x="174.7" y="412.3" width="46.8" height="21.1" fill="#009ef0"/>
<rect x="221.1" y="412.3" width="99.7" height="21.1" fill="#0296fc"/>
<rect x="320.4" y="412.3" width="50" height="21.1" fill="#0099ff"/>
<rect x="370" y="412.3" width="50" height="21.1" fill="#00a3e0"/>
<rect x="419.7" y="412.3" width="50" height="21.1" fill="#00b2b2"/>
<rect x="469.3" y="412.3" width="50" height="21.1" fill="#00c285"/>
<rect x="518.9" y="412.3" width="50" height="21.1" fill="#33d670"/>
<rect x="568.6" y="412.3" width="50" height="21.1" fill="#85e781"/>
<rect x="618.2" y="412.3" width="50" height="21.1" fill="#1fd26c"/>
<rect x="667.8" y="412.3" width="50" height="21.1" fill="#00c285"/>
<rect x="717.5" y="412.3" width="50" height="21.1" fill="#00a8d1"/>
<rect x="767.1" y="412.3" width="50" height="21.1" fill="#0099ff"/>
<rect x="816.7" y="412.3" width="50" height="21.1" fill="#009ef0"/>
<rect x="866.4" y="412.3" width="53.2" height="21.1" fill="#00adc2"/>
<rect x="174.7" y="433" width="46.8" height="21.1" fill="#00cc66"/>
<rect x="221.1" y="433" width="50" height="21.1" fill="#0ace68"/>
<rect x="270.8" y="433" width="50" height="21.1" fill="#00c775"/>
<rect x="320.4" y="433" width="50" height="21.1" fill="#00bd94"/>
<rect x="370" y="433" width="50" height="21.1" fill="#00c775"/>
<rect x="419.7" y="433" width="50" height="21.1" fill="#0ace68"/>
<rect x="469.3" y="433" width="50" height="21.1" fill="#3dd872"/>
<rect x="518.9" y="433" width="50" height="21.1" fill="#adef89"/>
<rect x="568.6" y="433" width="50" height="21.1" fill="#def892"/>
<rect x="618.2" y="433" width="50" height="21.1" fill="#95ea84"/>
<rect x="667.8" y="433" width="50" height="21.1" fill="#29d46e"/>
<rect x="717.5" y="433" width="50" height="21.1" fill="#0ace68"/>
<rect x="767.1" y="433" width="50" height="21.1" fill="#00c775"/>
<rect x="816.7" y="433" width="102.9" height="21.1" fill="#00cc66"/>
<rect x="174.7" y="453.7" width="46.8" height="21.1" fill="#85e781"/>
<rect x="221.1" y="453.7" width="50" height="21.1" fill="#7ce57f"/>
<rect x="270.8" y="453.7" width="50" height="21.1" fill="#47da74"/>
<rect x="320.4" y="453.7" width="50" height="21.1" fill="#33d670"/>
<rect x="370" y="453.7" width="50" height="21.1" fill="#3dd872"/>
<rect x="419.7" y="453.7" width="50" height="21.1" fill="#85e781"/>
<rect x="469.3" y="453.7" width="50" height="21.1" fill="#bef28c"/>
<rect x="518.9" y="453.7" width="50" height="21.1" fill="#d6cb83"/>
<rect x="568.6" y="453.7" width="50" height="21.1" fill="#c7b77b"/>
<rect x="618.2" y="453.7" width="50" height="21.1" fill="#ebe58e"/>
<rect x="667.8" y="453.7" width="50" height="21.1" fill="#a5ed87"/>
<rect x="717.5" y="453.7" width="50" height="21.1" fill="#29d46e"/>
<rect x="767.1" y="453.7" width="50" height="21.1" fill="#14d06a"/>
<rect x="816.7" y="453.7" width="50" height="21.1" fill="#29d46e"/>
<rect x="866.4" y="453.7" width="53.2" height="21.1" fill="#33d670"/>
<rect x="174.7" y="474.4" width="46.8" height="21.1" fill="#f5f293"/>
<rect x="221.1" y="474.4" width="50" height="21.1" fill="#f5fd97"/>
<rect x="270.8" y="474.4" width="99.7" height="21.1" fill="#b6f08a"/>
<rect x="370" y="474.4" width="50" height="21.1" fill="#c6f48e"/>
<rect x="419.7" y="474.4" width="50" height="21.1" fill="#f0eb91"/>
<rect x="469.3" y="474.4" width="50" height="21.1" fill="#a9906a"/>
<rect x="518.9" y="474.4" width="99.7" height="21.1" fill="#805c54"/>
<rect x="618.2" y="474.4" width="50" height="21.1" fill="#94765f"/>
<rect x="667.8" y="474.4" width="50" height="21.1" fill="#c7b77b"/>
<rect x="717.5" y="474.4" width="50" height="21.1" fill="#f5fd97"/>
<rect x="767.1" y="474.4" width="50" height="21.1" fill="#adef89"/>
<rect x="816.7" y="474.4" width="50" height="21.1" fill="#a5ed87"/>
<rect x="866.4" y="474.4" width="53.2" height="21.1" fill="#d6f791"/>
<rect x="174.7" y="495.1" width="46.8" height="21.1" fill="#a9906a"/>
<rect x="221.1" y="495.1" width="50" height="21.1" fill="#ae976d"/>
<rect x="270.8" y="495.1" width="50" height="21.1" fill="#b8a472"/>
<rect x="320.4" y="495.1" width="50" height="21.1" fill="#c7b77b"/>
<rect x="370" y="495.1" width="50" height="21.1" fill="#ae976d"/>
<rect x="419.7" y="495.1" width="50" height="21.1" fill="#856357"/>
<rect x="469.3" y="495.1" width="50" height="21.1" fill="#997d76"/>
<rect x="518.9" y="495.1" width="50" height="21.1" fill="#bdaaa6"/>
<rect x="568.6" y="495.1" width="50" height="21.1" fill="#b8a49f"/>
<rect x="618.2" y="495.1" width="50" height="21.1" fill="#9e837d"/>
<rect x="667.8" y="495.1" width="50" height="21.1" fill="#805c54"/>
<rect x="717.5" y="495.1" width="50" height="21.1" fill="#9e8365"/>
<rect x="767.1" y="495.1" width="50" height="21.1" fill="#a9906a"/>
<rect x="816.7" y="495.1" width="50" height="21.1" fill="#ae976d"/>
<rect x="866.4" y="495.1" width="53.2" height="21.1" fill="#a48a67"/>
<rect x="174.7" y="515.8" width="146.1" height="21.1" fill="#8f7069"/>
<rect x="320.4" y="515.8" width="50" height="21.1" fill="#94766f"/>
<rect x="370" y="515.8" width="50" height="21.1" fill="#997d76"/>
<rect x="419.7" y="515.8" width="50" height="21.1" fill="#ae9792"/>
<rect x="469.3" y="515.8" width="50" height="21.1" fill="#c2b1ad"/>
<rect x="518.9" y="515.8" width="99.7" height="21.1" fill="#d6cbc8"/>
<rect x="618.2" y="515.8" width="50" height="21.1" fill="#ccbebb"/>
<rect x="667.8" y="515.8" width="50" height="21.1" fill="#ae9792"/>
<rect x="717.5" y="515.8" width="50" height="21.1" fill="#997d76"/>
<rect x="767.1" y="515.8" width="99.7" height="21.1" fill="#85635b"/>
<rect x="866.4" y="515.8" width="53.2" height="21.1" fill="#8f7069"/>
<rect x="174.7" y="536.5" width="46.8" height="21.1" fill="#c7b7b4"/>
<rect x="221.1" y="536.5" width="99.7" height="21.1" fill="#bdaaa6"/>
<rect x="320.4" y="536.5" width="50" height="21.1" fill="#c2b1ad"/>
<rect x="370" y="536.5" width="50" height="21.1" fill="#ccbebb"/>
<rect x="419.7" y="536.5" width="50" height="21.1" fill="#d1c4c1"/>
<rect x="469.3" y="536.5" width="50" height="21.1" fill="#dbd1cf"/>
<rect x="518.9" y="536.5" width="50" height="21.1" fill="#ebe5e4"/>
<rect x="568.6" y="536.5" width="50" height="21.1" fill="#f0ebea"/>
<rect x="618.2" y="536.5" width="50" height="21.1" fill="#e6dedd"/>
<rect x="667.8" y="536.5" width="50" height="21.1" fill="#d1c4c1"/>
<rect x="717.5" y="536.5" width="50" height="21.1" fill="#c2b1ad"/>
<rect x="767.1" y="536.5" width="50" height="21.1" fill="#b8a49f"/>
<rect x="816.7" y="536.5" width="50" height="21.1" fill="#ae9792"/>
<rect x="866.4" y="536.5" width="53.2" height="21.1" fill="#b8a49f"/>
<rect x="174.7" y="557.2" width="46.8" height="21.1" fill="#e1d8d6"/>
<rect x="221.1" y="557.2" width="50" height="21.1" fill="#dbd1cf"/>
<rect x="270.8" y="557.2" width="99.7" height="21.1" fill="#d1c4c1"/>
<rect x="370" y="557.2" width="50" height="21.1" fill="#dbd1cf"/>
<rect x="419.7" y="557.2" width="50" height="21.1" fill="#e1d8d6"/>
<rect x="469.3" y="557.2" width="50" height="21.1" fill="#e6dedd"/>
<rect x="518.9" y="557.2" width="50" height="21.1" fill="#f0ebea"/>
<rect x="568.6" y="557.2" width="50" height="21.1" fill="#f5f2f1"/>
<rect x="618.2" y="557.2" width="50" height="21.1" fill="#f0ebea"/>
<rect x="667.8" y="557.2" width="50" height="21.1" fill="#e6dedd"/>
<rect x="717.5" y="557.2" width="50" height="21.1" fill="#dbd1cf"/>
<rect x="767.1" y="557.2" width="50" height="21.1" fill="#d1c4c1"/>
<rect x="816.7" y="557.2" width="50" height="21.1" fill="#d6cbc8"/>
<rect x="866.4" y="557.2" width="53.2" height="21.1" fill="#dbd1cf"/>
<rect x="174.7" y="577.9" width="46.8" height="21.1" fill="#f0ebea"/>
<rect x="221.1" y="577.9" width="50" height="21.1" fill="#ebe5e4"/>
<rect x="270.8" y="577.9" width="99.7" height="21.1" fill="#e1d8d6"/>
<rect x="370" y="577.9" width="99.7" height="21.1" fill="#e6dedd"/>
<rect x="469.3" y="577.9" width="50" height="21.1" fill="#ebe5e4"/>
<rect x="518.9" y="577.9" width="50" height="21.1" fill="#f5f2f1"/>
<rect x="568.6" y="577.9" width="50" height="21.1" fill="#f7f5f5"/>
<rect x="618.2" y="577.9" width="50" height="21.1" fill="#f5f2f1"/>
<rect x="667.8" y="577.9" width="50" height="21.1" fill="#f0ebea"/>
<rect x="717.5" y="577.9" width="50" height="21.1" fill="#ede8e7"/>
<rect x="767.1" y="577.9" width="99.7" height="21.1" fill="#ebe5e4"/>
<rect x="866.4" y="577.9" width="53.2" height="21.1" fill="#f0ebea"/>
<rect x="174.7" y="598.6" width="46.8" height="21.1" fill="#faf8f8"/>
<rect x="221.1" y="598.6" width="50" height="21.1" fill="#f8f6f5"/>
<rect x="270.8" y="598.6" width="50" height="21.1" fill="#f4f1f1"/>
<rect x="320.4" y="598.6" width="50" height="21.1" fill="#f1edec"/>
<rect x="370" y="598.6" width="99.7" height="21.1" fill="#f4f1f1"/>
<rect x="469.3" y="598.6" width="50" height="21.1" fill="#f6f3f3"/>
<rect x="518.9" y="598.6" width="50" height="21.1" fill="#faf8f8"/>
<rect x="568.6" y="598.6" width="99.7" height="21.1" fill="#fbfafa"/>
<rect x="667.8" y="598.6" width="198.9" height="21.1" fill="#f8f6f5"/>
<rect x="866.4" y="598.6" width="53.2" height="21.1" fill="#faf8f8"/>
<rect x="174.7" y="619.3" width="46.8" height="21.1" fill="#fbfafa"/>
<rect x="221.1" y="619.3" width="50" height="21.1" fill="#f8f6f5"/>
<rect x="270.8" y="619.3" width="198.9" height="21.1" fill="#f4f1f1"/>
<rect x="469.3" y="619.3" width="50" height="21.1" fill="#f8f6f5"/>
<rect x="518.9" y="619.3" width="99.7" height="21.1" fill="#fbfafa"/>
<rect x="618.2" y="619.3" width="50" height="21.1" fill="#f8f6f5"/>
<rect x="667.8" y="619.3" width="149.3" height="21.1" fill="#f4f1f1"/>
<rect x="816.7" y="619.3" width="50" height="21.1" fill="#f8f6f5"/>
<rect x="866.4" y="619.3" width="53.2" height="21.1" fill="#faf8f8"/>
<rect x="174.7" y="640" width="46.8" height="21.1" fill="#fbfafa"/>
<rect x="221.1" y="640" width="50" height="21.1" fill="#faf8f8"/>
<rect x="270.8" y="640" width="50" height="21.1" fill="#f4f1f1"/>
<rect x="320.4" y="640" width="149.3" height="21.1" fill="#f1edec"/>
<rect x="469.3" y="640" width="50" height="21.1" fill="#f8f6f5"/>
<rect x="518.9" y="640" width="50" height="21.1" fill="#fbfafa"/>
<rect x="568.6" y="640" width="50" height="21.1" fill="#fdfdfd"/>
<rect x="618.2" y="640" width="50" height="21.1" fill="#f8f6f5"/>
<rect x="667.8" y="640" width="149.3" height="21.1" fill="#f4f1f1"/>
<rect x="816.7" y="640" width="50" height="21.1" fill="#f8f6f5"/>
<rect x="866.4" y="640" width="53.2" height="21.1" fill="#faf8f8"/>
<rect x="174.7" y="660.7" width="96.5" height="21.1" fill="#f8f6f5"/>
<rect x="270.8" y="660.7" width="50" height="21.1" fill="#f4f1f1"/>
<rect x="320.4" y="660.7" width="50" height="21.1" fill="#ede8e7"/>
<rect x="370" y="660.7" width="50" height="21.1" fill="#eae4e2"/>
<rect x="419.7" y="660.7" width="50" height="21.1" fill="#f1edec"/>
<rect x="469.3" y="660.7" width="50" height="21.1" fill="#f4f1f1"/>
<rect x="518.9" y="660.7" width="99.7" height="21.1" fill="#fbfafa"/>
<rect x="618.2" y="660.7" width="50" height="21.1" fill="#f8f6f5"/>
<rect x="667.8" y="660.7" width="149.3" height="21.1" fill="#f4f1f1"/>
<rect x="816.7" y="660.7" width="102.9" height="21.1" fill="#f8f6f5"/>
<rect x="174.7" y="681.4" width="46.8" height="21.1" fill="#faf8f8"/>
<rect x="221.1" y="681.4" width="50" height="21.1" fill="#f8f6f5"/>
<rect x="270.8" y="681.4" width="50" height="21.1" fill="#f4f1f1"/>
<rect x="320.4" y="681.4" width="99.7" height="21.1" fill="#f1edec"/>
<rect x="419.7" y="681.4" width="50" height="21.1" fill="#f4f1f1"/>
<rect x="469.3" y="681.4" width="50" height="21.1" fill="#f8f6f5"/>
<rect x="518.9" y="681.4" width="50" height="21.1" fill="#fdfdfd"/>
<rect x="568.6" y="681.4" width="50" height="21.1" fill="#ffffff"/>
<rect x="618.2" y="681.4" width="50" height="21.1" fill="#fbfafa"/>
<rect x="667.8" y="681.4" width="149.3" height="21.1" fill="#f8f6f5"/>
<rect x="816.7" y="681.4" width="102.9" height="21.1" fill="#faf8f8"/>
<rect x="174.7" y="702.1" width="46.8" height="21.1" fill="#f6f3f3"/>
<rect x="221.1" y="702.1" width="99.7" height="21.1" fill="#f4f1f1"/>
<rect x="320.4" y="702.1" width="99.7" height="21.1" fill="#ede8e7"/>
<rect x="419.7" y="702.1" width="50" height="21.1" fill="#f1edec"/>
<rect x="469.3" y="702.1" width="50" height="21.1" fill="#f8f6f5"/>
<rect x="518.9" y="702.1" width="99.7" height="21.1" fill="#fdfdfd"/>
<rect x="618.2" y="702.1" width="50" height="21.1" fill="#faf8f8"/>
<rect x="667.8" y="702.1" width="50" height="21.1" fill="#f8f6f5"/>
<rect x="717.5" y="702.1" width="99.7" height="21.1" fill="#f4f1f1"/>
<rect x="816.7" y="702.1" width="50" height="21.1" fill="#f1edec"/>
<rect x="866.4" y="702.1" width="53.2" height="21.1" fill="#f4f1f1"/>
<rect x="174.7" y="722.8" width="46.8" height="21.1" fill="#f8f6f5"/>
<rect x="221.1" y="722.8" width="99.7" height="21.1" fill="#f4f1f1"/>
<rect x="320.4" y="722.8" width="99.7" height="21.1" fill="#f1edec"/>
<rect x="419.7" y="722.8" width="50" height="21.1" fill="#f8f6f5"/>
<rect x="469.3" y="722.8" width="50" height="21.1" fill="#fbfafa"/>
<rect x="518.9" y="722.8" width="99.7" height="21.1" fill="#ffffff"/>
<rect x="618.2" y="722.8" width="50" height="21.1" fill="#faf8f8"/>
<rect x="667.8" y="722.8" width="149.3" height="21.1" fill="#f8f6f5"/>
<rect x="816.7" y="722.8" width="50" height="21.1" fill="#faf8f8"/>
<rect x="866.4" y="722.8" width="53.2" height="21.1" fill="#fbfafa"/>
<rect x="174.7" y="743.5" width="245.4" height="21.1" fill="#f1edec"/>
<rect x="419.7" y="743.5" width="50" height="21.1" fill="#ede8e7"/>
<rect x="469.3" y="743.5" width="99.7" height="21.1" fill="#eae4e2"/>
<rect x="568.6" y="743.5" width="50" height="21.1" fill="#f4f1f1"/>
<rect x="618.2" y="743.5" width="198.9" height="21.1" fill="#f1edec"/>
<rect x="816.7" y="743.5" width="102.9" height="21.1" fill="#f8f6f5"/>
<rect x="174.7" y="764.2" width="543.2" height="21.1" fill="#ffffff"/>
<rect x="717.5" y="764.2" width="50" height="21.1" fill="#ccbebb"/>
<rect x="767.1" y="764.2" width="50" height="21.1" fill="#bdaaa6"/>
<rect x="816.7" y="764.2" width="50" height="21.1" fill="#fbfafa"/>
<rect x="866.4" y="764.2" width="53.2" height="21.1" fill="#ffffff"/>
<rect x="174.7" y="784.9" width="96.5" height="21.1" fill="#faf8f8"/>
<rect x="270.8" y="784.9" width="50" height="21.1" fill="#f8f6f5"/>
<rect x="320.4" y="784.9" width="298.2" height="21.1" fill="#fbfafa"/>
<rect x="618.2" y="784.9" width="50" height="21.1" fill="#f7f5f5"/>
<rect x="667.8" y="784.9" width="50" height="21.1" fill="#f8f6f5"/>
<rect x="717.5" y="784.9" width="149.3" height="21.1" fill="#fbfafa"/>
<rect x="866.4" y="784.9" width="53.2" height="21.1" fill="#faf8f8"/>
</g>
<g clip-path="url(#ax)">
<path class="c" d="M175.4 183.7 189.2 202.8 206.1 215.6 221 225.1 197.7 244.4 180.6 266.7 195.3 277.3 220.6 315.1 260.6 344.6 271.1 352.1 321.6 342.5 372 307.6 422.5 289 443.6 268.8 447.8 247.8 445.8 244.4 471.2 205 520 210.3 528.5 244.4 527.7 264.6 540.3 294.1 550.8 313M559.2 344.6 574 374 577.3 407.7 576.1 439.1 569.8 472.8 574 529.6 586.6 605.3 592.9 624.1 597.1 638.8 598.4 664.1 607.6 693.5 637.1 720.9 620.2 727.2 599.2 744 599.2 763 616 765.9 635 784 670.7 794.5 717 798.7 767.5 797.5 792.7 790.3 807.5 782.7 761.2 762.1 813.8 743.2 804.5 720.9 822.2 699.9 855.8 678.8 872.7 657.8 879 649.4M910.5 449.6 908.4 470.7 907.2 533.8 902.1 554.8 899.2 578M225.2 80.9 274 100 369.4 104.2 420.3 115.9 471.2 121.8 517.9 123.3 543.1 132.9 566.4 141.3 549.5 163.6 570.7 183.7 569.6 198.6 574.9 224 573.8 244.4 576.1 264.6 595 310.9 607.6 348.8 622.4 382.4 632.9 407.7 630.8 439.1 616.9 453.8 615.2 493.8 622.4 512.7 626.6 538 636.2 559 641.3 575.9 649.7 596.9 670.7 611.6 700.2 624.1 717 633.4 769.6 630.4 818 623.3 826.4 615.7 825.5 617.9 830.6 596.9 835.6 578 843.2 556.9 853.7 535.9 855 514.9 849.5 493.8 848.3 472.8 862.1 451.7 860 443.3M918.4 173.1 905.7 192.2 899.3 244.4 893.7 302.5 885.3 344.6 872.7 374M543.1 81.5 547.3 102.1 553.7 121.2 591.9 141.3 585.5 162.5 604.6 183.7 611 205 602.5 224 598.2 244.4 603.4 260.4 626.6 302.5 635 317.2M668.6 384.5 704.4 411.9 712.8 430.8 713.6 431.6 691.8 453 691.8 474 670.7 493.8 667.8 514.9 670.7 525.4 681.2 535.9 719.1 545.6 769.6 541.4 782.2 535 793.6 514.9 781.4 474 804.5 453 781 431.6 780.1 432.9 818 407.7 839 361.4 851.6 327.7 870.6 294.1 870.6 264.6 866.4 239.4 873.9 213.4 882.4 185.9 903.6 164.7 907.8 143.5 918.4 139.2M604.6 81.5 611 120.1 617.3 127.6 616.3 141.3 615.2 164.7 657.6 183.7 649.1 205 627.9 244.4 670.7 302.5 719.1 339.5 767.5 339.5 818 321.4M832.7 249.9 827.2 244.4 818.8 236.8 797.6 225.1 869.6 181.6 886.6 164.7 886.6 141.3 918.4 124.4M568.5 82 613.1 92.6 657.6 102.1 668.2 109.5 717 122.3 767.9 132.9 818.8 131.8 856.9 122.3 823 102.1 867.5 94.7 893 82M617.3 127.6 700 141.3 672.4 163.6 719.1 177 767.9 179.5 818.8 179.5 869.6 163.6 856.9 141.3 893 122.3 876 100 907.8 84.1M895.1 100 918.4 109.5M897.2 120.1 918.4 125.4M901.5 82 918.4 96.8M912.1 82 918.4 88.3M369.4 79.8 420.3 88.3 467 96.8 481.8 80.9M327 82.4 271.9 82.4 233.7 80.9 274 96.8 318.5 94.3M322.8 86.2 271.9 86.2 244.3 81.5 274 93.6M316.4 90 271.9 90 257 82M328.1 151.9 271.9 155.1 232.7 163 271.9 170.6 320.7 177 356.7 174.2 382.1 171M209.3 210.3 207.2 224M175.4 106.4 221 110M175.4 112.7 221 112.7M175.4 133.9 223.1 137.1M175.4 122.3 189.2 121.8M180.6 266.7 199.5 243.6M742.2 774.3 717 772.6 679.1 782.7 717 791.1 729.6 790.3M767.5 796.6 780.1 790.3 788.5 794.5"/>
<path class="c" d="M176.5 93.6 190.2 93.6M206.1 94.7 222.1 94.7M239 94.7 254.9 94.1M337.6 92.6 352.5 92.1M371.5 91.5 386.4 91.5M402.3 91.5 418.2 91.5M206.1 110 221 110.6M239 111.2 253.9 111.7M276.1 111.7 286.7 111.2M303.7 110 318.5 109.1M337.6 107.4 352.5 107M430.9 100 445.8 98.9M206.1 124.4 219.9 126.5M231.6 139.2 242.2 151.9M201.9 144.5 212.5 157.2M225.2 170 233.7 180.6M254.9 167.8 261.3 177.4M295.2 170 305.8 176.3M193.4 183.7 204 194.3M246.4 193.3 259.2 203.9M274 189 286.7 197.5M320.7 188 334.4 194.3M350.3 199.7 364.1 206M379 215.6 392.7 219.8M402.3 179.1 416.1 183.7M433 181.6 447.9 176.3M464.8 170 473.3 164.7M490.3 143.5 494.5 158.3M467 128.6 477.6 131.8M430.9 125.4 445.8 126.5M399.1 127.6 414 126.5M374.7 130.7 382.1 131.8M443.6 149.8 457.4 153M284.6 217.7 296.3 207.1M240.1 230.4 247.5 217.7M280.4 229.3 291 241M403.3 241 407.6 227.2M433 224 447.9 218.7M488.2 188 492.4 175.3M515.7 185.9 516.8 168.9M513.6 139.2 517.9 154.1M498.8 109.5 509.4 122.3M536.9 207.1 541.2 192.2M505.1 214.5 509.4 202.8M488.2 243.1 492.4 230.4M430.9 244.4 429.9 236.8M178.6 166.8 182.8 172.1M182.8 211.3 189.2 221.9M621.6 86.2 638.5 86.2M655.5 86.6 671.4 86.6M688.4 87.3 704.3 87.3M721.2 87.3 737.1 87.3M753 86.2 768.9 85.8M784.8 84.1 800.7 83.7M801.8 88.8 816.6 87.9M833.6 89.4 850.6 88.8M623.7 98.9 639.6 97.9M638.5 93.6 653.4 93.6M670.3 94.7 686.2 95.1M703.2 95.7 719.1 95.7M736.1 94.7 752 93.2M767.9 92.1 783.8 90.9M750.9 100 765.7 98.5M782.7 97.9 798.6 96.4M560.1 105.3 574.9 108.5M606.7 112.7 619.4 110.6M638.5 112.7 653.4 115.9M670.3 118 683 122.3M689.4 106.4 704.3 110M721.2 111.7 733.9 106.4M617.3 156.2 632.2 156.2M650.2 157.2 666.1 157.2M680.9 157.2 697.9 157.2M715.9 156.2 730.8 156.2M747.7 155.8 764.7 155.8M780.6 155.8 795.4 155.8M814.5 156.2 829.4 156.6M846.3 157.9 861.2 158.7M878.1 160.4 893 162.1M644.9 143.5 661.8 145.6M678.8 146 695.8 145.6M710.6 143 726.5 141.8M742.4 138.2 758.3 134.6M774.2 127.6 785.9 119.1M802.9 112.7 816.6 107M835.7 106.4 848.4 106.4M867.5 106.4 880.3 111.7M737.1 182.7 750.9 185.4M767.9 187.6 784.8 184.2M574.9 170 579.1 184.8M566.4 198.6 562.2 212.4M559 229.3 553.7 244.4M543.1 133.9 560.1 138.2M547.3 141.3 557.9 137.1M585.5 160.4 599.3 158.7M574.9 123.3 588.7 120.1M651.2 136 666.1 131.8M757.3 180.6 770 179.9M613.1 244.4 623.7 238.9M237.4 247.8 236.6 264.6M235.3 279.4 236.1 296.2M241.6 313 250 323.5M294.2 256.2 292.1 271M296.3 289.9 292.1 300.4M296.3 314.3 308.9 321.4M197.4 306.7 201.7 321.4M205.9 338.3 212.2 350.9M220.6 365.6 226.9 380.3M233.2 397.2 239.5 409.8M273.2 369.8 280.3 381.6M290 395.9 301.4 407.7M304.7 422.4 302.6 437.1M380.4 264.6 393.1 256.2M393.1 269.7 409.9 274.3M424.6 273.1 437.2 268M481.4 279.4 487.7 264.6M469.6 306.7 476.4 292M447.8 327.7 458.3 317.2M422.5 352.1 435.1 341.6M506.7 283.6 502.5 298.3M489.8 328.6 496.1 315.1M515.1 264.6 519.3 252M456.2 428.7 461.2 418.2M531.9 304.6 536.1 292M517.2 332.8 523.5 319.3M506.7 365.6 510 352.1M500.3 397.2 502.5 382.4M496.1 428.7 499.5 414M548.7 384.5 552.9 369.8M544.5 426.6 545.8 403.5M590.8 269.7 601.3 258.3M611.8 243.6 624.5 239.4M639.2 243.6 656 249.9M670.7 256.2 685.5 261.3M701 266.7 712.8 279.4M719.1 294.1 725.4 308.8M741.4 315.1 757 321.4M771.7 327.7 788.5 325.6M801.1 323.5 820.1 321.4M876.9 260.4 889.5 254.1M868.5 310.9 881.1 305.9M336.3 340.4 342.6 341.6M321.6 329.9 324.9 332.8M180.6 432.8 182.7 456M183.6 474.9 184.8 491.7M189 508.5 192 525.4M194.5 542.2 195.3 556.9M196.2 571.6 199.5 586.4M201.7 605.3 200.4 622.1M237.4 487.5 245.8 508.5M247.1 525.4 247.1 540.1M250 554.8 249.2 571.6M252.1 590.6 254.2 605.3M304.7 424.4 302.6 437M295 453.8 294.2 468.6M295 487.5 300.5 502.2M305.6 516.1 296.3 529.6M295 546.4 297.2 563.2M299.7 578 303.9 592.7M305.6 609.5 313.1 620M456.2 445.4 464.6 458.9M472.2 474.9 476.4 491.7M477.2 506.4 477.2 523.3M476.4 540.1 476.4 554.8M478.1 571.6 470.9 585.1M456.2 596.9 447.8 609.5M498.2 445.4 502.5 460.2M505.4 477 508.8 493.8M507.9 512.7 507.9 527.5M507.1 544.3 507.1 559M506.7 575.9 499.1 589.3M491.9 605.3 484.8 617.9M543.7 434.9 546.6 449.6M550.8 466.5 553.8 481.2M553.8 498 553.8 514.9M552.9 529.6 552.1 546.4M550.8 563.2 547.5 578M538.2 594.8 529.8 608.7M378.3 548.5 393.1 547.7M409.9 546.4 423.4 547.2M371.2 559.9 386.8 562.4M404.4 563.2 420.4 565.3M201.7 636.7 207.1 651.5M213.4 666.2 222.7 680.9M228.2 697.7 231.1 712.5M210.1 731.4 224.8 723.8M256.3 619.9 269 632.5M277.4 645.2 285.8 659.9M287.9 676.7 298.4 684.3M313.1 691.4 330 697.7M344.7 701.1 361.5 705.3M376.2 706.2 393.1 702.8M409.1 699.9 424.6 696.9M439.3 691.4 456.2 685.1M327.9 627.1 344.7 633.4M357.3 639.7 369.9 651.5M386.8 654.8 401.5 659.9M418.3 662 425.9 651.5M430.1 634.6 439.3 622M473.8 636.7 473 651.5M472.2 666.2 471.3 680.9M521.4 619.9 515.1 634.6M513 651.5 514.2 667.5M514.2 683 506.7 695.6M494 710.4 483.5 723M481.4 740.7 466.7 747.4M452 750.3 435.1 751.6M418.3 753.3 403.6 753.7M386.8 755 371.2 755.4M355.2 756.6 340.5 757.5M323.7 758.3 308.9 758.7M292.1 758.7 275.3 759.2M175.4 742.9 188.1 742.9M175.4 763.7 191.3 763.7M201.9 781.1 216.7 774.7M233.7 776.9 246.4 783.2M212.5 783.2 223.1 791.7M223.1 791.7 233.7 783.2M223.1 791.7 223.1 802.3M208.3 790.7 219.9 801.3M235.8 794.9 226.3 801.3M175.4 801.3 181.8 789M266.6 788.1 272.9 796M272.9 796 272.9 803.4M288.8 799.1 303.7 803.4M332.3 785.4 337.6 779M382.1 799.1 398 801.3M447.9 801.3 462.7 801.7M481.8 801.7 496.6 801.7M513.6 801.7 528.5 801.7M470.1 747.2 483.9 740.8M386.4 765.2 403.3 764.8M386.4 769.9 403.3 769.4M578.1 771.1 594 776.9M561.1 786.4 571.7 783.2M577 793.8 589.7 785.4M545.2 800.2 562.2 798.7M609.9 782.6 620.5 796M634.3 797 651.2 800.2M666.1 801.3 683 803M771 789.6 770 799.1"/>
<path class="tbd" d="M191 63.2H508M191 65.5H508M191 67.9H508M191 70.2H508M191 72.6H508M191 75H508M191 77.3H508M191 79.7H508"/>
<path class="tbr" d="M540 63.2H919M540 65.5H919M540 67.9H919M540 70.2H919M540 72.6H919M540 75H919M540 77.3H919M540 79.7H919"/>
<path class="c" d="M195.5 738.1 188.1 742.3 195.5 745.1"/>
<path class="c" d="M341.9 783.2 369.4 766.3 400.2 783.2 369.4 794.9Z"/>
<path class="c" d="M369.4 779 388.5 780.5 382.1 785.4 369.4 788.5"/>
<path class="b" d="M353.3 772.8 367.1 768.2M354.6 772 368.4 767.3M355.9 771.1 369.6 766.5"/>
<path class="b" d="M403.3 772.6 418.2 774.7M403.3 775.4 418.2 777.5M403.3 778.1 418.2 780.3M403.3 780.9 418.2 783M403.3 783.7 418.2 785.8M403.3 786.4 418.2 788.5M403.3 789.2 418.2 791.3M403.3 791.9 418.2 794M403.3 794.7 418.2 796.8"/>
<path class="c" d="M776.3 797 782.7 790.7 789.1 791.7 788 801.3"/>
<path class="b" d="M420.3 763.1 435.2 763.1M420.3 765.7 435.2 765.7M420.3 768.4 435.2 768.4M433 786.4 447.9 786.4M433 788.5 447.9 788.5M433 790.7 447.9 790.7M433 792.8 447.9 792.8M433 794.9 447.9 794.9M433 797 447.9 797M464.8 786.4 479.7 786.4M464.8 788.5 479.7 788.5M464.8 790.7 479.7 790.7M464.8 792.8 479.7 792.8M464.8 794.9 479.7 794.9M464.8 797 479.7 797M497.7 786.4 512.6 786.4M497.7 789 512.6 789M497.7 791.5 512.6 791.5M497.7 794 512.6 794M497.7 796.6 512.6 796.6M497.7 799.1 512.6 799.1M530.6 783.2 543.3 783.2M530.6 785.6 543.3 785.6M530.6 787.9 543.3 787.9M530.6 790.2 543.3 790.2M530.6 792.6 543.3 792.6M530.6 794.9 543.3 794.9M450 798.1 463.8 798.1M450 800.8 463.8 800.8M416.1 799.6 430.9 799.6M416.1 802.5 430.9 802.5M513.6 800.8 528.5 800.8M513.6 803.4 528.5 803.4"/>
<text class="cl" transform="translate(326.4 130.3) rotate(-8)" dy="9">30 %</text>
<text class="cl" transform="translate(372.6 158.7) rotate(-4)" dy="9">75 %</text>
<text class="cl" transform="translate(390.6 154.1) rotate(-8)" dy="9">5 %</text>
<text class="cl" transform="translate(265.9 113.3) rotate(-90)" dy="9">5</text>
<text class="cl" transform="translate(269.8 143) rotate(-62)" dy="9">%</text>
<text class="cl" transform="translate(362 104.2) rotate(-75)" dy="9">%</text>
<text class="cl" transform="translate(393.8 141.8) rotate(-10)" dy="9">%</text>
<text class="cl" transform="translate(513.6 90.4) rotate(-2)" dy="9">30 %</text>
<text class="cl" transform="translate(530.6 92.1) rotate(4)" dy="9">45 %</text>
<text class="cl" transform="translate(374.1 353.8) rotate(15)" dy="9">45 %</text>
<text class="cl" transform="translate(466.7 373.2) rotate(-75)" dy="9">60 %</text>
<text class="cl" transform="translate(561.3 306.7) rotate(-77)" dy="9">90 %</text>
<text class="cl" transform="translate(653.9 347.9) rotate(67)" dy="9">60 %</text>
<text class="cl" transform="translate(834 286.5) rotate(-88)" dy="9">45 %</text>
<text class="cl" transform="translate(859.2 407.7) rotate(-80)" dy="9">75 %</text>
<text class="cl" transform="translate(237.4 451.7) rotate(-85)" dy="9">75 %</text>
<text class="cl" transform="translate(895.8 605.3) rotate(-75)" dy="9">90 %</text>
<text class="cl" transform="translate(227.4 764.8)" dy="9">90 %</text>
<text class="cl" transform="translate(781.6 765.2) rotate(-88)" dy="9">%</text>
<text class="cl" transform="translate(475.4 772.6)" dy="9">60 %</text>
<text class="cl" transform="translate(477.6 775.8)" dy="9">15 %</text>
<text class="cl" transform="translate(473.3 774.1)" dy="9">45 %</text>
<text class="cl" transform="translate(528.5 765.2)" dy="9">75 %</text>
<text class="cl" transform="translate(530.6 766.9)" dy="9">30 %</text>
<text class="cl" transform="translate(549.5 771.6) rotate(-70)" dy="9">%</text>
<text class="cl" transform="translate(539.1 789.6) rotate(-20)" dy="9">%</text>
</g>
<path class="tk" d="M224.3 60.4v12.3M224.3 805.6v-12.3M274 60.4v12.3M274 805.6v-12.3M323.6 60.4v12.3M323.6 805.6v-12.3M373.2 60.4v12.3M373.2 805.6v-12.3M422.9 60.4v12.3M422.9 805.6v-12.3M472.5 60.4v12.3M472.5 805.6v-12.3M522.1 60.4v12.3M522.1 805.6v-12.3M571.8 60.4v12.3M571.8 805.6v-12.3M621.4 60.4v12.3M621.4 805.6v-12.3M671 60.4v12.3M671 805.6v-12.3M720.7 60.4v12.3M720.7 805.6v-12.3M770.3 60.4v12.3M770.3 805.6v-12.3M819.9 60.4v12.3M819.9 805.6v-12.3M869.6 60.4v12.3M869.6 805.6v-12.3M174.7 81.8h12.3M919.2 81.8h-12.3M174.7 102.5h12.3M919.2 102.5h-12.3M174.7 123.2h12.3M919.2 123.2h-12.3M174.7 143.9h12.3M919.2 143.9h-12.3M174.7 164.6h12.3M919.2 164.6h-12.3M174.7 185.3h12.3M919.2 185.3h-12.3M174.7 206h12.3M919.2 206h-12.3M174.7 226.7h12.3M919.2 226.7h-12.3M174.7 247.4h12.3M919.2 247.4h-12.3M174.7 268.1h12.3M919.2 268.1h-12.3M174.7 288.8h12.3M919.2 288.8h-12.3M174.7 309.5h12.3M919.2 309.5h-12.3M174.7 330.2h12.3M919.2 330.2h-12.3M174.7 350.9h12.3M919.2 350.9h-12.3M174.7 371.6h12.3M919.2 371.6h-12.3M174.7 392.3h12.3M919.2 392.3h-12.3M174.7 413h12.3M919.2 413h-12.3M174.7 433.7h12.3M919.2 433.7h-12.3M174.7 454.4h12.3M919.2 454.4h-12.3M174.7 475.1h12.3M919.2 475.1h-12.3M174.7 495.8h12.3M919.2 495.8h-12.3M174.7 516.5h12.3M919.2 516.5h-12.3M174.7 537.2h12.3M919.2 537.2h-12.3M174.7 557.9h12.3M919.2 557.9h-12.3M174.7 578.6h12.3M919.2 578.6h-12.3M174.7 599.3h12.3M919.2 599.3h-12.3M174.7 620h12.3M919.2 620h-12.3M174.7 640.7h12.3M919.2 640.7h-12.3M174.7 661.4h12.3M919.2 661.4h-12.3M174.7 682.1h12.3M919.2 682.1h-12.3M174.7 702.8h12.3M919.2 702.8h-12.3M174.7 723.5h12.3M919.2 723.5h-12.3M174.7 744.2h12.3M919.2 744.2h-12.3M174.7 764.9h12.3M919.2 764.9h-12.3M174.7 785.6h12.3M919.2 785.6h-12.3"/>
<rect class="fr" x="174.7" y="60.4" width="744.5" height="745.2"/>
<text class="ti" transform="translate(545 46.5) scale(1 0.95)">S1 Combined , 20180427_20180428</text>
<text class="yl" transform="translate(57.3 435) rotate(-90) scale(1 1.1)">Altitudes (m)</text>
<text class="ty" transform="translate(124.6 808.1) rotate(-50.5)" dy="11.8">500</text>
<text class="ty" transform="translate(118 704.6) rotate(-50.5)" dy="11.8">1000</text>
<text class="ty" transform="translate(118 601.1) rotate(-50.5)" dy="11.8">1500</text>
<text class="ty" transform="translate(118 497.6) rotate(-50.5)" dy="11.8">2000</text>
<text class="ty" transform="translate(118 394.1) rotate(-50.5)" dy="11.8">2500</text>
<text class="ty" transform="translate(118 290.6) rotate(-50.5)" dy="11.8">3000</text>
<text class="ty" transform="translate(118 187.1) rotate(-50.5)" dy="11.8">3500</text>
<text class="ty" transform="translate(118 83.6) rotate(-50.5)" dy="11.8">4000</text>
<text class="tx" transform="translate(170.2 836.2) rotate(-70)" dy="11.5">N</text>
<text class="tx" transform="translate(269.5 845.7) rotate(-70)" dy="11.5">NE</text>
<text class="tx" transform="translate(368.7 834.5) rotate(-70)" dy="11.5">E</text>
<text class="tx" transform="translate(468 844) rotate(-70)" dy="11.5">SE</text>
<text class="tx" transform="translate(567.3 834.5) rotate(-70)" dy="11.5">S</text>
<text class="tx" transform="translate(666.5 849.4) rotate(-70)" dy="11.5">SW</text>
<text class="tx" transform="translate(765.8 839.8) rotate(-70)" dy="11.5">W</text>
<text class="tx" transform="translate(865.1 851.1) rotate(-70)" dy="11.5">NW</text>
<text class="tx" transform="translate(914.7 836.2) rotate(-70)" dy="11.5">N</text>
<rect x="174.7" y="965.6" width="744.5" height="38.2" fill="url(#cb)"/>
<path class="tk" d="M249.1 1003.8v-12M323.6 1003.8v-12M398 1003.8v-12M472.5 1003.8v-12M547 1003.8v-12M621.4 1003.8v-12M695.8 1003.8v-12M770.3 1003.8v-12M844.8 1003.8v-12"/>
<rect class="fr" x="174.7" y="965.6" width="744.5" height="38.2"/>
<text class="tc" transform="translate(172.5 1040.2) scale(1 1.1)">0</text>
<text class="tc" transform="translate(246.9 1040.2) scale(1 1.1)">10</text>
<text class="tc" transform="translate(321.4 1040.2) scale(1 1.1)">20</text>
<text class="tc" transform="translate(395.8 1040.2) scale(1 1.1)">30</text>
<text class="tc" transform="translate(470.3 1040.2) scale(1 1.1)">40</text>
<text class="tc" transform="translate(544.8 1040.2) scale(1 1.1)">50</text>
<text class="tc" transform="translate(619.2 1040.2) scale(1 1.1)">60</text>
<text class="tc" transform="translate(693.6 1040.2) scale(1 1.1)">70</text>
<text class="tc" transform="translate(768.1 1040.2) scale(1 1.1)">80</text>
<text class="tc" transform="translate(842.5 1040.2) scale(1 1.1)">90</text>
<text class="tc" transform="translate(919 1040.2) scale(1 1.1)">100</text>
</g>
<g transform="translate(1001.9 1186.6)">
<g shape-rendering="crispEdges">
<rect x="174.7" y="60.4" width="46.8" height="21.1" fill="#ccbebb"/>
<rect x="221.1" y="60.4" width="50" height="21.1" fill="#997d76"/>
<rect x="270.8" y="60.4" width="50" height="21.1" fill="#b39d70"/>
<rect x="320.4" y="60.4" width="50" height="21.1" fill="#33d670"/>
<rect x="370" y="60.4" width="99.7" height="21.1" fill="#e6dedd"/>
<rect x="469.3" y="60.4" width="50" height="21.1" fill="#997d76"/>
<rect x="518.9" y="60.4" width="50" height="21.1" fill="#805c54"/>
<rect x="568.6" y="60.4" width="50" height="21.1" fill="#def892"/>
<rect x="618.2" y="60.4" width="50" height="21.1" fill="#f5f293"/>
<rect x="667.8" y="60.4" width="99.7" height="21.1" fill="#333399"/>
<rect x="767.1" y="60.4" width="50" height="21.1" fill="#ffffff"/>
<rect x="816.7" y="60.4" width="50" height="21.1" fill="#b39d70"/>
<rect x="866.4" y="60.4" width="53.2" height="21.1" fill="#805c54"/>
<rect x="174.7" y="81.1" width="46.8" height="21.1" fill="#d1c4c1"/>
<rect x="221.1" y="81.1" width="50" height="21.1" fill="#dbd1cf"/>
<rect x="270.8" y="81.1" width="50" height="21.1" fill="#e1d8d6"/>
<rect x="320.4" y="81.1" width="50" height="21.1" fill="#dbd1cf"/>
<rect x="370" y="81.1" width="50" height="21.1" fill="#ccbebb"/>
<rect x="419.7" y="81.1" width="50" height="21.1" fill="#8f7069"/>
<rect x="469.3" y="81.1" width="50" height="21.1" fill="#997d62"/>
<rect x="518.9" y="81.1" width="50" height="21.1" fill="#8f7069"/>
<rect x="568.6" y="81.1" width="50" height="21.1" fill="#997d76"/>
<rect x="618.2" y="81.1" width="99.7" height="21.1" fill="#8a6962"/>
<rect x="717.5" y="81.1" width="50" height="21.1" fill="#8f7069"/>
<rect x="767.1" y="81.1" width="50" height="21.1" fill="#997d76"/>
<rect x="816.7" y="81.1" width="50" height="21.1" fill="#8f705c"/>
<rect x="866.4" y="81.1" width="53.2" height="21.1" fill="#997d76"/>
<rect x="174.7" y="101.8" width="146.1" height="21.1" fill="#b8a49f"/>
<rect x="320.4" y="101.8" width="50" height="21.1" fill="#997d76"/>
<rect x="370" y="101.8" width="50" height="21.1" fill="#85635b"/>
<rect x="419.7" y="101.8" width="50" height="21.1" fill="#8a6962"/>
<rect x="469.3" y="101.8" width="50" height="21.1" fill="#94766f"/>
<rect x="518.9" y="101.8" width="50" height="21.1" fill="#d1c480"/>
<rect x="568.6" y="101.8" width="50" height="21.1" fill="#dbd186"/>
<rect x="618.2" y="101.8" width="50" height="21.1" fill="#e1d888"/>
<rect x="667.8" y="101.8" width="50" height="21.1" fill="#e6de8b"/>
<rect x="717.5" y="101.8" width="50" height="21.1" fill="#8a695a"/>
<rect x="767.1" y="101.8" width="50" height="21.1" fill="#a9908b"/>
<rect x="816.7" y="101.8" width="50" height="21.1" fill="#b39d98"/>
<rect x="866.4" y="101.8" width="53.2" height="21.1" fill="#d1c4c1"/>
<rect x="174.7" y="122.5" width="46.8" height="21.1" fill="#997d76"/>
<rect x="221.1" y="122.5" width="50" height="21.1" fill="#9e837d"/>
<rect x="270.8" y="122.5" width="149.3" height="21.1" fill="#a9908b"/>
<rect x="419.7" y="122.5" width="50" height="21.1" fill="#94766f"/>
<rect x="469.3" y="122.5" width="50" height="21.1" fill="#8a6962"/>
<rect x="518.9" y="122.5" width="50" height="21.1" fill="#85635b"/>
<rect x="568.6" y="122.5" width="50" height="21.1" fill="#997d62"/>
<rect x="618.2" y="122.5" width="50" height="21.1" fill="#c2b178"/>
<rect x="667.8" y="122.5" width="50" height="21.1" fill="#d6cb83"/>
<rect x="717.5" y="122.5" width="50" height="21.1" fill="#b8a472"/>
<rect x="767.1" y="122.5" width="50" height="21.1" fill="#bdaaa6"/>
<rect x="816.7" y="122.5" width="50" height="21.1" fill="#ccbebb"/>
<rect x="866.4" y="122.5" width="53.2" height="21.1" fill="#ae9792"/>
<rect x="174.7" y="143.2" width="46.8" height="21.1" fill="#8f7069"/>
<rect x="221.1" y="143.2" width="50" height="21.1" fill="#997d62"/>
<rect x="270.8" y="143.2" width="50" height="21.1" fill="#9e8365"/>
<rect x="320.4" y="143.2" width="50" height="21.1" fill="#9e837d"/>
<rect x="370" y="143.2" width="50" height="21.1" fill="#b39d98"/>
<rect x="419.7" y="143.2" width="50" height="21.1" fill="#dbd1cf"/>
<rect x="469.3" y="143.2" width="50" height="21.1" fill="#9e837d"/>
<rect x="518.9" y="143.2" width="50" height="21.1" fill="#85635b"/>
<rect x="568.6" y="143.2" width="50" height="21.1" fill="#b39d70"/>
<rect x="618.2" y="143.2" width="50" height="21.1" fill="#ccbe7d"/>
<rect x="667.8" y="143.2" width="50" height="21.1" fill="#d6cb83"/>
<rect x="717.5" y="143.2" width="50" height="21.1" fill="#d1c480"/>
<rect x="767.1" y="143.2" width="50" height="21.1" fill="#85635b"/>
<rect x="816.7" y="143.2" width="50" height="21.1" fill="#a48a84"/>
<rect x="866.4" y="143.2" width="53.2" height="21.1" fill="#997d76"/>
<rect x="174.7" y="163.9" width="96.5" height="21.1" fill="#dbd186"/>
<rect x="270.8" y="163.9" width="50" height="21.1" fill="#a9906a"/>
<rect x="320.4" y="163.9" width="50" height="21.1" fill="#8a6962"/>
<rect x="370" y="163.9" width="50" height="21.1" fill="#8f7069"/>
<rect x="419.7" y="163.9" width="50" height="21.1" fill="#94766f"/>
<rect x="469.3" y="163.9" width="50" height="21.1" fill="#a48a67"/>
<rect x="518.9" y="163.9" width="50" height="21.1" fill="#b8a472"/>
<rect x="568.6" y="163.9" width="149.3" height="21.1" fill="#e6de8b"/>
<rect x="717.5" y="163.9" width="50" height="21.1" fill="#e1d888"/>
<rect x="767.1" y="163.9" width="50" height="21.1" fill="#c7b77b"/>
<rect x="816.7" y="163.9" width="50" height="21.1" fill="#a9906a"/>
<rect x="866.4" y="163.9" width="53.2" height="21.1" fill="#b8a472"/>
<rect x="174.7" y="184.6" width="46.8" height="21.1" fill="#a9906a"/>
<rect x="221.1" y="184.6" width="50" height="21.1" fill="#a48a67"/>
<rect x="270.8" y="184.6" width="50" height="21.1" fill="#8f705c"/>
<rect x="320.4" y="184.6" width="99.7" height="21.1" fill="#85635b"/>
<rect x="419.7" y="184.6" width="50" height="21.1" fill="#805c54"/>
<rect x="469.3" y="184.6" width="50" height="21.1" fill="#a48a67"/>
<rect x="518.9" y="184.6" width="50" height="21.1" fill="#d6cb83"/>
<rect x="568.6" y="184.6" width="50" height="21.1" fill="#d1c480"/>
<rect x="618.2" y="184.6" width="50" height="21.1" fill="#dbd186"/>
<rect x="667.8" y="184.6" width="50" height="21.1" fill="#d6cb83"/>
<rect x="717.5" y="184.6" width="50" height="21.1" fill="#a48a67"/>
<rect x="767.1" y="184.6" width="50" height="21.1" fill="#9e8365"/>
<rect x="816.7" y="184.6" width="50" height="21.1" fill="#b39d70"/>
<rect x="866.4" y="184.6" width="53.2" height="21.1" fill="#ae976d"/>
<rect x="174.7" y="205.3" width="46.8" height="21.1" fill="#a48a67"/>
<rect x="221.1" y="205.3" width="50" height="21.1" fill="#9e8365"/>
<rect x="270.8" y="205.3" width="50" height="21.1" fill="#85635b"/>
<rect x="320.4" y="205.3" width="99.7" height="21.1" fill="#a9906a"/>
<rect x="419.7" y="205.3" width="50" height="21.1" fill="#9e8365"/>
<rect x="469.3" y="205.3" width="50" height="21.1" fill="#f0eb91"/>
<rect x="518.9" y="205.3" width="50" height="21.1" fill="#f9fe98"/>
<rect x="568.6" y="205.3" width="50" height="21.1" fill="#ffff99"/>
<rect x="618.2" y="205.3" width="50" height="21.1" fill="#ebe58e"/>
<rect x="667.8" y="205.3" width="50" height="21.1" fill="#d1c480"/>
<rect x="717.5" y="205.3" width="50" height="21.1" fill="#b39d70"/>
<rect x="767.1" y="205.3" width="99.7" height="21.1" fill="#ae976d"/>
<rect x="866.4" y="205.3" width="53.2" height="21.1" fill="#9c8063"/>
<rect x="174.7" y="226" width="46.8" height="21.1" fill="#8a695a"/>
<rect x="221.1" y="226" width="50" height="21.1" fill="#85635b"/>
<rect x="270.8" y="226" width="50" height="21.1" fill="#9e8365"/>
<rect x="320.4" y="226" width="50" height="21.1" fill="#ae976d"/>
<rect x="370" y="226" width="50" height="21.1" fill="#b8a472"/>
<rect x="419.7" y="226" width="50" height="21.1" fill="#e1d888"/>
<rect x="469.3" y="226" width="50" height="21.1" fill="#def892"/>
<rect x="518.9" y="226" width="50" height="21.1" fill="#bdf28c"/>
<rect x="568.6" y="226" width="50" height="21.1" fill="#d7f791"/>
<rect x="618.2" y="226" width="50" height="21.1" fill="#f5f293"/>
<rect x="667.8" y="226" width="50" height="21.1" fill="#d1c480"/>
<rect x="717.5" y="226" width="50" height="21.1" fill="#bdaa75"/>
<rect x="767.1" y="226" width="50" height="21.1" fill="#ae976d"/>
<rect x="816.7" y="226" width="50" height="21.1" fill="#a9906a"/>
<rect x="866.4" y="226" width="53.2" height="21.1" fill="#ae976d"/>
<rect x="174.7" y="246.7" width="46.8" height="21.1" fill="#805c54"/>
<rect x="221.1" y="246.7" width="50" height="21.1" fill="#a9906a"/>
<rect x="270.8" y="246.7" width="50" height="21.1" fill="#bdaa75"/>
<rect x="320.4" y="246.7" width="50" height="21.1" fill="#d6cb83"/>
<rect x="370" y="246.7" width="50" height="21.1" fill="#c2b178"/>
<rect x="419.7" y="246.7" width="50" height="21.1" fill="#ccbe7d"/>
<rect x="469.3" y="246.7" width="50" height="21.1" fill="#f9fe98"/>
<rect x="518.9" y="246.7" width="50" height="21.1" fill="#d6f791"/>
<rect x="568.6" y="246.7" width="50" height="21.1" fill="#ccf58f"/>
<rect x="618.2" y="246.7" width="50" height="21.1" fill="#ffff99"/>
<rect x="667.8" y="246.7" width="50" height="21.1" fill="#e6de8b"/>
<rect x="717.5" y="246.7" width="50" height="21.1" fill="#ded587"/>
<rect x="767.1" y="246.7" width="50" height="21.1" fill="#c2b178"/>
<rect x="816.7" y="246.7" width="50" height="21.1" fill="#a48a67"/>
<rect x="866.4" y="246.7" width="53.2" height="21.1" fill="#997d62"/>
<rect x="174.7" y="267.4" width="46.8" height="21.1" fill="#8a695a"/>
<rect x="221.1" y="267.4" width="50" height="21.1" fill="#b8a472"/>
<rect x="270.8" y="267.4" width="50" height="21.1" fill="#d1c480"/>
<rect x="320.4" y="267.4" width="50" height="21.1" fill="#e1d888"/>
<rect x="370" y="267.4" width="99.7" height="21.1" fill="#ebe58e"/>
<rect x="469.3" y="267.4" width="50" height="21.1" fill="#ffff99"/>
<rect x="518.9" y="267.4" width="50" height="21.1" fill="#dbf892"/>
<rect x="568.6" y="267.4" width="50" height="21.1" fill="#ffff99"/>
<rect x="618.2" y="267.4" width="50" height="21.1" fill="#c2f38d"/>
<rect x="667.8" y="267.4" width="50" height="21.1" fill="#d6f791"/>
<rect x="717.5" y="267.4" width="50" height="21.1" fill="#fafe98"/>
<rect x="767.1" y="267.4" width="50" height="21.1" fill="#ded587"/>
<rect x="816.7" y="267.4" width="50" height="21.1" fill="#baa774"/>
<rect x="866.4" y="267.4" width="53.2" height="21.1" fill="#a48a67"/>
<rect x="174.7" y="288.1" width="46.8" height="21.1" fill="#a48a67"/>
<rect x="221.1" y="288.1" width="50" height="21.1" fill="#d1c480"/>
<rect x="270.8" y="288.1" width="50" height="21.1" fill="#f0eb91"/>
<rect x="320.4" y="288.1" width="50" height="21.1" fill="#ebfb95"/>
<rect x="370" y="288.1" width="50" height="21.1" fill="#d1f690"/>
<rect x="419.7" y="288.1" width="50" height="21.1" fill="#def892"/>
<rect x="469.3" y="288.1" width="50" height="21.1" fill="#d7f791"/>
<rect x="518.9" y="288.1" width="50" height="21.1" fill="#ccf58f"/>
<rect x="568.6" y="288.1" width="50" height="21.1" fill="#faf896"/>
<rect x="618.2" y="288.1" width="50" height="21.1" fill="#f5f293"/>
<rect x="667.8" y="288.1" width="50" height="21.1" fill="#ffff99"/>
<rect x="717.5" y="288.1" width="50" height="21.1" fill="#e8e28d"/>
<rect x="767.1" y="288.1" width="50" height="21.1" fill="#ded587"/>
<rect x="816.7" y="288.1" width="50" height="21.1" fill="#c0ae76"/>
<rect x="866.4" y="288.1" width="53.2" height="21.1" fill="#a48a67"/>
<rect x="174.7" y="308.8" width="46.8" height="21.1" fill="#bdaa75"/>
<rect x="221.1" y="308.8" width="50" height="21.1" fill="#f0eb91"/>
<rect x="270.8" y="308.8" width="50" height="21.1" fill="#caf48e"/>
<rect x="320.4" y="308.8" width="50" height="21.1" fill="#c3f38d"/>
<rect x="370" y="308.8" width="50" height="21.1" fill="#e4fa94"/>
<rect x="419.7" y="308.8" width="50" height="21.1" fill="#f9fe98"/>
<rect x="469.3" y="308.8" width="50" height="21.1" fill="#e6de8b"/>
<rect x="518.9" y="308.8" width="99.7" height="21.1" fill="#d6cb83"/>
<rect x="618.2" y="308.8" width="99.7" height="21.1" fill="#ded587"/>
<rect x="717.5" y="308.8" width="50" height="21.1" fill="#dbd186"/>
<rect x="767.1" y="308.8" width="50" height="21.1" fill="#ede88f"/>
<rect x="816.7" y="308.8" width="50" height="21.1" fill="#d6cb83"/>
<rect x="866.4" y="308.8" width="53.2" height="21.1" fill="#c7b77b"/>
<rect x="174.7" y="329.5" width="46.8" height="21.1" fill="#e6de8b"/>
<rect x="221.1" y="329.5" width="50" height="21.1" fill="#ebe58e"/>
<rect x="270.8" y="329.5" width="50" height="21.1" fill="#f0eb91"/>
<rect x="320.4" y="329.5" width="50" height="21.1" fill="#e1d888"/>
<rect x="370" y="329.5" width="50" height="21.1" fill="#d6cb83"/>
<rect x="419.7" y="329.5" width="50" height="21.1" fill="#ccbe7d"/>
<rect x="469.3" y="329.5" width="50" height="21.1" fill="#c2b178"/>
<rect x="518.9" y="329.5" width="50" height="21.1" fill="#997d62"/>
<rect x="568.6" y="329.5" width="50" height="21.1" fill="#94765f"/>
<rect x="618.2" y="329.5" width="50" height="21.1" fill="#ae976d"/>
<rect x="667.8" y="329.5" width="50" height="21.1" fill="#bdaa75"/>
<rect x="717.5" y="329.5" width="50" height="21.1" fill="#c7b77b"/>
<rect x="767.1" y="329.5" width="99.7" height="21.1" fill="#e6de8b"/>
<rect x="866.4" y="329.5" width="53.2" height="21.1" fill="#e1d888"/>
<rect x="174.7" y="350.2" width="46.8" height="21.1" fill="#d6cb83"/>
<rect x="221.1" y="350.2" width="50" height="21.1" fill="#d1c480"/>
<rect x="270.8" y="350.2" width="50" height="21.1" fill="#ccbe7d"/>
<rect x="320.4" y="350.2" width="50" height="21.1" fill="#ae976d"/>
<rect x="370" y="350.2" width="50" height="21.1" fill="#a9906a"/>
<rect x="419.7" y="350.2" width="50" height="21.1" fill="#94765f"/>
<rect x="469.3" y="350.2" width="50" height="21.1" fill="#805c54"/>
<rect x="518.9" y="350.2" width="50" height="21.1" fill="#94766f"/>
<rect x="568.6" y="350.2" width="50" height="21.1" fill="#88665e"/>
<rect x="618.2" y="350.2" width="50" height="21.1" fill="#8a695a"/>
<rect x="667.8" y="350.2" width="50" height="21.1" fill="#a48a67"/>
<rect x="717.5" y="350.2" width="50" height="21.1" fill="#ab936b"/>
<rect x="767.1" y="350.2" width="50" height="21.1" fill="#b5a071"/>
<rect x="816.7" y="350.2" width="50" height="21.1" fill="#baa774"/>
<rect x="866.4" y="350.2" width="53.2" height="21.1" fill="#c2b178"/>
<rect x="174.7" y="370.9" width="46.8" height="21.1" fill="#b8a472"/>
<rect x="221.1" y="370.9" width="50" height="21.1" fill="#a48a67"/>
<rect x="270.8" y="370.9" width="50" height="21.1" fill="#805c54"/>
<rect x="320.4" y="370.9" width="50" height="21.1" fill="#8f7069"/>
<rect x="370" y="370.9" width="50" height="21.1" fill="#9e837d"/>
<rect x="419.7" y="370.9" width="50" height="21.1" fill="#ae9792"/>
<rect x="469.3" y="370.9" width="50" height="21.1" fill="#bdaaa6"/>
<rect x="518.9" y="370.9" width="50" height="21.1" fill="#d1c4c1"/>
<rect x="568.6" y="370.9" width="50" height="21.1" fill="#c7b7b4"/>
<rect x="618.2" y="370.9" width="50" height="21.1" fill="#b8a49f"/>
<rect x="667.8" y="370.9" width="50" height="21.1" fill="#ae9792"/>
<rect x="717.5" y="370.9" width="50" height="21.1" fill="#a9908b"/>
<rect x="767.1" y="370.9" width="50" height="21.1" fill="#9e837d"/>
<rect x="816.7" y="370.9" width="50" height="21.1" fill="#8f7069"/>
<rect x="866.4" y="370.9" width="53.2" height="21.1" fill="#9c8063"/>
<rect x="174.7" y="391.6" width="46.8" height="21.1" fill="#997d76"/>
<rect x="221.1" y="391.6" width="50" height="21.1" fill="#b8a49f"/>
<rect x="270.8" y="391.6" width="50" height="21.1" fill="#c7b7b4"/>
<rect x="320.4" y="391.6" width="50" height="21.1" fill="#d1c4c1"/>
<rect x="370" y="391.6" width="99.7" height="21.1" fill="#d6cbc8"/>
<rect x="469.3" y="391.6" width="50" height="21.1" fill="#dbd1cf"/>
<rect x="518.9" y="391.6" width="50" height="21.1" fill="#ede8e7"/>
<rect x="568.6" y="391.6" width="50" height="21.1" fill="#e6dedd"/>
<rect x="618.2" y="391.6" width="50" height="21.1" fill="#ded5d3"/>
<rect x="667.8" y="391.6" width="50" height="21.1" fill="#d6cbc8"/>
<rect x="717.5" y="391.6" width="50" height="21.1" fill="#d1c4c1"/>
<rect x="767.1" y="391.6" width="50" height="21.1" fill="#ccbebb"/>
<rect x="816.7" y="391.6" width="50" height="21.1" fill="#b8a49f"/>
<rect x="866.4" y="391.6" width="53.2" height="21.1" fill="#997d76"/>
<rect x="174.7" y="412.3" width="46.8" height="21.1" fill="#d1c4c1"/>
<rect x="221.1" y="412.3" width="50" height="21.1" fill="#e1d8d6"/>
<rect x="270.8" y="412.3" width="248.6" height="21.1" fill="#e6dedd"/>
<rect x="518.9" y="412.3" width="50" height="21.1" fill="#f0ebea"/>
<rect x="568.6" y="412.3" width="50" height="21.1" fill="#f5f2f1"/>
<rect x="618.2" y="412.3" width="50" height="21.1" fill="#f0ebea"/>
<rect x="667.8" y="412.3" width="50" height="21.1" fill="#ebe5e4"/>
<rect x="717.5" y="412.3" width="99.7" height="21.1" fill="#e1d8d6"/>
<rect x="816.7" y="412.3" width="50" height="21.1" fill="#d1c4c1"/>
<rect x="866.4" y="412.3" width="53.2" height="21.1" fill="#c2b1ad"/>
<rect x="174.7" y="433" width="46.8" height="21.1" fill="#e1d8d6"/>
<rect x="221.1" y="433" width="50" height="21.1" fill="#e6dedd"/>
<rect x="270.8" y="433" width="50" height="21.1" fill="#e8e2e0"/>
<rect x="320.4" y="433" width="99.7" height="21.1" fill="#e1d8d6"/>
<rect x="419.7" y="433" width="99.7" height="21.1" fill="#e6dedd"/>
<rect x="518.9" y="433" width="50" height="21.1" fill="#f0ebea"/>
<rect x="568.6" y="433" width="99.7" height="21.1" fill="#f5f2f1"/>
<rect x="667.8" y="433" width="50" height="21.1" fill="#f0ebea"/>
<rect x="717.5" y="433" width="50" height="21.1" fill="#e6dedd"/>
<rect x="767.1" y="433" width="50" height="21.1" fill="#dbd1cf"/>
<rect x="816.7" y="433" width="50" height="21.1" fill="#d6cbc8"/>
<rect x="866.4" y="433" width="53.2" height="21.1" fill="#d1c4c1"/>
<rect x="174.7" y="453.7" width="46.8" height="21.1" fill="#e6dedd"/>
<rect x="221.1" y="453.7" width="298.2" height="21.1" fill="#ebe5e4"/>
<rect x="518.9" y="453.7" width="50" height="21.1" fill="#f5f2f1"/>
<rect x="568.6" y="453.7" width="99.7" height="21.1" fill="#faf8f8"/>
<rect x="667.8" y="453.7" width="50" height="21.1" fill="#f5f2f1"/>
<rect x="717.5" y="453.7" width="50" height="21.1" fill="#f0ebea"/>
<rect x="767.1" y="453.7" width="50" height="21.1" fill="#ebe5e4"/>
<rect x="816.7" y="453.7" width="50" height="21.1" fill="#e6dedd"/>
<rect x="866.4" y="453.7" width="53.2" height="21.1" fill="#ebe5e4"/>
<rect x="174.7" y="474.4" width="46.8" height="21.1" fill="#ede8e7"/>
<rect x="221.1" y="474.4" width="50" height="21.1" fill="#f5f2f1"/>
<rect x="270.8" y="474.4" width="149.3" height="21.1" fill="#f0ebea"/>
<rect x="419.7" y="474.4" width="50" height="21.1" fill="#f2efee"/>
<rect x="469.3" y="474.4" width="50" height="21.1" fill="#f5f2f1"/>
<rect x="518.9" y="474.4" width="149.3" height="21.1" fill="#faf8f8"/>
<rect x="667.8" y="474.4" width="99.7" height="21.1" fill="#f7f5f5"/>
<rect x="767.1" y="474.4" width="50" height="21.1" fill="#f5f2f1"/>
<rect x="816.7" y="474.4" width="50" height="21.1" fill="#f2efee"/>
<rect x="866.4" y="474.4" width="53.2" height="21.1" fill="#f5f2f1"/>
<rect x="174.7" y="495.1" width="46.8" height="21.1" fill="#faf8f8"/>
<rect x="221.1" y="495.1" width="50" height="21.1" fill="#f7f5f5"/>
<rect x="270.8" y="495.1" width="198.9" height="21.1" fill="#f5f2f1"/>
<rect x="469.3" y="495.1" width="50" height="21.1" fill="#f7f5f5"/>
<rect x="518.9" y="495.1" width="99.7" height="21.1" fill="#fcfcfc"/>
<rect x="618.2" y="495.1" width="50" height="21.1" fill="#faf8f8"/>
<rect x="667.8" y="495.1" width="50" height="21.1" fill="#f7f5f5"/>
<rect x="717.5" y="495.1" width="99.7" height="21.1" fill="#faf8f8"/>
<rect x="816.7" y="495.1" width="50" height="21.1" fill="#f7f5f5"/>
<rect x="866.4" y="495.1" width="53.2" height="21.1" fill="#faf8f8"/>
<rect x="174.7" y="515.8" width="46.8" height="21.1" fill="#ffffff"/>
<rect x="221.1" y="515.8" width="50" height="21.1" fill="#faf8f8"/>
<rect x="270.8" y="515.8" width="50" height="21.1" fill="#f7f5f5"/>
<rect x="320.4" y="515.8" width="149.3" height="21.1" fill="#f5f2f1"/>
<rect x="469.3" y="515.8" width="50" height="21.1" fill="#f7f5f5"/>
<rect x="518.9" y="515.8" width="50" height="21.1" fill="#fcfcfc"/>
<rect x="568.6" y="515.8" width="50" height="21.1" fill="#ffffff"/>
<rect x="618.2" y="515.8" width="50" height="21.1" fill="#fcfcfc"/>
<rect x="667.8" y="515.8" width="251.8" height="21.1" fill="#faf8f8"/>
<rect x="174.7" y="536.5" width="46.8" height="21.1" fill="#ffffff"/>
<rect x="221.1" y="536.5" width="50" height="21.1" fill="#fcfcfc"/>
<rect x="270.8" y="536.5" width="50" height="21.1" fill="#faf8f8"/>
<rect x="320.4" y="536.5" width="149.3" height="21.1" fill="#f7f5f5"/>
<rect x="469.3" y="536.5" width="50" height="21.1" fill="#faf8f8"/>
<rect x="518.9" y="536.5" width="50" height="21.1" fill="#fcfcfc"/>
<rect x="568.6" y="536.5" width="50" height="21.1" fill="#ffffff"/>
<rect x="618.2" y="536.5" width="301.4" height="21.1" fill="#faf8f8"/>
<rect x="174.7" y="557.2" width="46.8" height="21.1" fill="#ffffff"/>
<rect x="221.1" y="557.2" width="50" height="21.1" fill="#fcfcfc"/>
<rect x="270.8" y="557.2" width="50" height="21.1" fill="#faf8f8"/>
<rect x="320.4" y="557.2" width="149.3" height="21.1" fill="#f7f5f5"/>
<rect x="469.3" y="557.2" width="50" height="21.1" fill="#faf8f8"/>
<rect x="518.9" y="557.2" width="50" height="21.1" fill="#fcfcfc"/>
<rect x="568.6" y="557.2" width="50" height="21.1" fill="#ffffff"/>
<rect x="618.2" y="557.2" width="301.4" height="21.1" fill="#faf8f8"/>
<rect x="174.7" y="577.9" width="46.8" height="21.1" fill="#ffffff"/>
<rect x="221.1" y="577.9" width="50" height="21.1" fill="#fcfcfc"/>
<rect x="270.8" y="577.9" width="50" height="21.1" fill="#faf8f8"/>
<rect x="320.4" y="577.9" width="149.3" height="21.1" fill="#f7f5f5"/>
<rect x="469.3" y="577.9" width="50" height="21.1" fill="#faf8f8"/>
<rect x="518.9" y="577.9" width="50" height="21.1" fill="#fcfcfc"/>
<rect x="568.6" y="577.9" width="50" height="21.1" fill="#ffffff"/>
<rect x="618.2" y="577.9" width="301.4" height="21.1" fill="#faf8f8"/>
<rect x="174.7" y="598.6" width="96.5" height="21.1" fill="#ffffff"/>
<rect x="270.8" y="598.6" width="50" height="21.1" fill="#faf8f8"/>
<rect x="320.4" y="598.6" width="149.3" height="21.1" fill="#f7f5f5"/>
<rect x="469.3" y="598.6" width="50" height="21.1" fill="#fcfcfc"/>
<rect x="518.9" y="598.6" width="99.7" height="21.1" fill="#ffffff"/>
<rect x="618.2" y="598.6" width="248.6" height="21.1" fill="#faf8f8"/>
<rect x="866.4" y="598.6" width="53.2" height="21.1" fill="#fcfcfc"/>
<rect x="174.7" y="619.3" width="96.5" height="21.1" fill="#ffffff"/>
<rect x="270.8" y="619.3" width="50" height="21.1" fill="#faf8f8"/>
<rect x="320.4" y="619.3" width="149.3" height="21.1" fill="#f7f5f5"/>
<rect x="469.3" y="619.3" width="50" height="21.1" fill="#fcfcfc"/>
<rect x="518.9" y="619.3" width="99.7" height="21.1" fill="#ffffff"/>
<rect x="618.2" y="619.3" width="198.9" height="21.1" fill="#faf8f8"/>
<rect x="816.7" y="619.3" width="102.9" height="21.1" fill="#fcfcfc"/>
<rect x="174.7" y="640" width="96.5" height="21.1" fill="#ffffff"/>
<rect x="270.8" y="640" width="50" height="21.1" fill="#faf8f8"/>
<rect x="320.4" y="640" width="149.3" height="21.1" fill="#f7f5f5"/>
<rect x="469.3" y="640" width="50" height="21.1" fill="#fcfcfc"/>
<rect x="518.9" y="640" width="99.7" height="21.1" fill="#ffffff"/>
<rect x="618.2" y="640" width="50" height="21.1" fill="#fcfcfc"/>
<rect x="667.8" y="640" width="149.3" height="21.1" fill="#faf8f8"/>
<rect x="816.7" y="640" width="102.9" height="21.1" fill="#fcfcfc"/>
<rect x="174.7" y="660.7" width="96.5" height="21.1" fill="#ffffff"/>
<rect x="270.8" y="660.7" width="50" height="21.1" fill="#faf8f8"/>
<rect x="320.4" y="660.7" width="149.3" height="21.1" fill="#f7f5f5"/>
<rect x="469.3" y="660.7" width="50" height="21.1" fill="#fcfcfc"/>
<rect x="518.9" y="660.7" width="99.7" height="21.1" fill="#ffffff"/>
<rect x="618.2" y="660.7" width="50" height="21.1" fill="#fcfcfc"/>
<rect x="667.8" y="660.7" width="149.3" height="21.1" fill="#faf8f8"/>
<rect x="816.7" y="660.7" width="102.9" height="21.1" fill="#fcfcfc"/>
<rect x="174.7" y="681.4" width="96.5" height="21.1" fill="#ffffff"/>
<rect x="270.8" y="681.4" width="50" height="21.1" fill="#faf8f8"/>
<rect x="320.4" y="681.4" width="149.3" height="21.1" fill="#f7f5f5"/>
<rect x="469.3" y="681.4" width="50" height="21.1" fill="#fcfcfc"/>
<rect x="518.9" y="681.4" width="99.7" height="21.1" fill="#ffffff"/>
<rect x="618.2" y="681.4" width="50" height="21.1" fill="#fcfcfc"/>
<rect x="667.8" y="681.4" width="149.3" height="21.1" fill="#faf8f8"/>
<rect x="816.7" y="681.4" width="102.9" height="21.1" fill="#fcfcfc"/>
<rect x="174.7" y="702.1" width="96.5" height="21.1" fill="#ffffff"/>
<rect x="270.8" y="702.1" width="99.7" height="21.1" fill="#faf8f8"/>
<rect x="370" y="702.1" width="99.7" height="21.1" fill="#f7f5f5"/>
<rect x="469.3" y="702.1" width="50" height="21.1" fill="#fcfcfc"/>
<rect x="518.9" y="702.1" width="99.7" height="21.1" fill="#ffffff"/>
<rect x="618.2" y="702.1" width="50" height="21.1" fill="#fcfcfc"/>
<rect x="667.8" y="702.1" width="149.3" height="21.1" fill="#faf8f8"/>
<rect x="816.7" y="702.1" width="102.9" height="21.1" fill="#fcfcfc"/>
<rect x="174.7" y="722.8" width="195.7" height="21.1" fill="#faf8f8"/>
<rect x="370" y="722.8" width="99.7" height="21.1" fill="#f7f5f5"/>
<rect x="469.3" y="722.8" width="50" height="21.1" fill="#faf8f8"/>
<rect x="518.9" y="722.8" width="50" height="21.1" fill="#fcfcfc"/>
<rect x="568.6" y="722.8" width="50" height="21.1" fill="#f5f2f1"/>
<rect x="618.2" y="722.8" width="149.3" height="21.1" fill="#f7f5f5"/>
<rect x="767.1" y="722.8" width="99.7" height="21.1" fill="#faf8f8"/>
<rect x="866.4" y="722.8" width="53.2" height="21.1" fill="#fcfcfc"/>
<rect x="174.7" y="743.5" width="744.9" height="21.1" fill="#ffffff"/>
<rect x="174.7" y="764.2" width="543.2" height="21.1" fill="#ffffff"/>
<rect x="717.5" y="764.2" width="99.7" height="21.1" fill="#faf8f8"/>
<rect x="816.7" y="764.2" width="102.9" height="21.1" fill="#ffffff"/>
<rect x="174.7" y="784.9" width="744.9" height="21.1" fill="#ffffff"/>
</g>
<g clip-path="url(#ax)">
<path class="c" d="M175.4 183.7 189.2 202.8 206.1 215.6 221 225.1 197.7 244.4 180.6 266.7 195.3 277.3 220.6 315.1 260.6 344.6 271.1 352.1 321.6 342.5 372 307.6 422.5 289 443.6 268.8 447.8 247.8 445.8 244.4 471.2 205 520 210.3 528.5 244.4 527.7 264.6 540.3 294.1 550.8 313M559.2 344.6 574 374 577.3 407.7 576.1 439.1 569.8 472.8 574 529.6 586.6 605.3 592.9 624.1 597.1 638.8 598.4 664.1 607.6 693.5 637.1 720.9 620.2 727.2 599.2 744 599.2 763 616 765.9 635 784 670.7 794.5 717 798.7 767.5 797.5 792.7 790.3 807.5 782.7 761.2 762.1 813.8 743.2 804.5 720.9 822.2 699.9 855.8 678.8 872.7 657.8 879 649.4M910.5 449.6 908.4 470.7 907.2 533.8 902.1 554.8 899.2 578M225.2 80.9 274 100 369.4 104.2 420.3 115.9 471.2 121.8 517.9 123.3 543.1 132.9 566.4 141.3 549.5 163.6 570.7 183.7 569.6 198.6 574.9 224 573.8 244.4 576.1 264.6 595 310.9 607.6 348.8 622.4 382.4 632.9 407.7 630.8 439.1 616.9 453.8 615.2 493.8 622.4 512.7 626.6 538 636.2 559 641.3 575.9 649.7 596.9 670.7 611.6 700.2 624.1 717 633.4 769.6 630.4 818 623.3 826.4 615.7 825.5 617.9 830.6 596.9 835.6 578 843.2 556.9 853.7 535.9 855 514.9 849.5 493.8 848.3 472.8 862.1 451.7 860 443.3M918.4 173.1 905.7 192.2 899.3 244.4 893.7 302.5 885.3 344.6 872.7 374M543.1 81.5 547.3 102.1 553.7 121.2 591.9 141.3 585.5 162.5 604.6 183.7 611 205 602.5 224 598.2 244.4 603.4 260.4 626.6 302.5 635 317.2M668.6 384.5 704.4 411.9 712.8 430.8 713.6 431.6 691.8 453 691.8 474 670.7 493.8 667.8 514.9 670.7 525.4 681.2 535.9 719.1 545.6 769.6 541.4 782.2 535 793.6 514.9 781.4 474 804.5 453 781 431.6 780.1 432.9 818 407.7 839 361.4 851.6 327.7 870.6 294.1 870.6 264.6 866.4 239.4 873.9 213.4 882.4 185.9 903.6 164.7 907.8 143.5 918.4 139.2M604.6 81.5 611 120.1 617.3 127.6 616.3 141.3 615.2 164.7 657.6 183.7 649.1 205 627.9 244.4 670.7 302.5 719.1 339.5 767.5 339.5 818 321.4M832.7 249.9 827.2 244.4 818.8 236.8 797.6 225.1 869.6 181.6 886.6 164.7 886.6 141.3 918.4 124.4M568.5 82 613.1 92.6 657.6 102.1 668.2 109.5 717 122.3 767.9 132.9 818.8 131.8 856.9 122.3 823 102.1 867.5 94.7 893 82M617.3 127.6 700 141.3 672.4 163.6 719.1 177 767.9 179.5 818.8 179.5 869.6 163.6 856.9 141.3 893 122.3 876 100 907.8 84.1M895.1 100 918.4 109.5M897.2 120.1 918.4 125.4M901.5 82 918.4 96.8M912.1 82 918.4 88.3M369.4 79.8 420.3 88.3 467 96.8 481.8 80.9M327 82.4 271.9 82.4 233.7 80.9 274 96.8 318.5 94.3M322.8 86.2 271.9 86.2 244.3 81.5 274 93.6M316.4 90 271.9 90 257 82M328.1 151.9 271.9 155.1 232.7 163 271.9 170.6 320.7 177 356.7 174.2 382.1 171M209.3 210.3 207.2 224M175.4 106.4 221 110M175.4 112.7 221 112.7M175.4 133.9 223.1 137.1M175.4 122.3 189.2 121.8M180.6 266.7 199.5 243.6M742.2 774.3 717 772.6 679.1 782.7 717 791.1 729.6 790.3M767.5 796.6 780.1 790.3 788.5 794.5"/>
<path class="c" d="M176.5 93.6 190.2 93.6M206.1 94.7 222.1 94.7M239 94.7 254.9 94.1M337.6 92.6 352.5 92.1M371.5 91.5 386.4 91.5M402.3 91.5 418.2 91.5M206.1 110 221 110.6M239 111.2 253.9 111.7M276.1 111.7 286.7 111.2M303.7 110 318.5 109.1M337.6 107.4 352.5 107M430.9 100 445.8 98.9M206.1 124.4 219.9 126.5M231.6 139.2 242.2 151.9M201.9 144.5 212.5 157.2M225.2 170 233.7 180.6M254.9 167.8 261.3 177.4M295.2 170 305.8 176.3M193.4 183.7 204 194.3M246.4 193.3 259.2 203.9M274 189 286.7 197.5M320.7 188 334.4 194.3M350.3 199.7 364.1 206M379 215.6 392.7 219.8M402.3 179.1 416.1 183.7M433 181.6 447.9 176.3M464.8 170 473.3 164.7M490.3 143.5 494.5 158.3M467 128.6 477.6 131.8M430.9 125.4 445.8 126.5M399.1 127.6 414 126.5M374.7 130.7 382.1 131.8M443.6 149.8 457.4 153M284.6 217.7 296.3 207.1M240.1 230.4 247.5 217.7M280.4 229.3 291 241M403.3 241 407.6 227.2M433 224 447.9 218.7M488.2 188 492.4 175.3M515.7 185.9 516.8 168.9M513.6 139.2 517.9 154.1M498.8 109.5 509.4 122.3M536.9 207.1 541.2 192.2M505.1 214.5 509.4 202.8M488.2 243.1 492.4 230.4M430.9 244.4 429.9 236.8M178.6 166.8 182.8 172.1M182.8 211.3 189.2 221.9M621.6 86.2 638.5 86.2M655.5 86.6 671.4 86.6M688.4 87.3 704.3 87.3M721.2 87.3 737.1 87.3M753 86.2 768.9 85.8M784.8 84.1 800.7 83.7M801.8 88.8 816.6 87.9M833.6 89.4 850.6 88.8M623.7 98.9 639.6 97.9M638.5 93.6 653.4 93.6M670.3 94.7 686.2 95.1M703.2 95.7 719.1 95.7M736.1 94.7 752 93.2M767.9 92.1 783.8 90.9M750.9 100 765.7 98.5M782.7 97.9 798.6 96.4M560.1 105.3 574.9 108.5M606.7 112.7 619.4 110.6M638.5 112.7 653.4 115.9M670.3 118 683 122.3M689.4 106.4 704.3 110M721.2 111.7 733.9 106.4M617.3 156.2 632.2 156.2M650.2 157.2 666.1 157.2M680.9 157.2 697.9 157.2M715.9 156.2 730.8 156.2M747.7 155.8 764.7 155.8M780.6 155.8 795.4 155.8M814.5 156.2 829.4 156.6M846.3 157.9 861.2 158.7M878.1 160.4 893 162.1M644.9 143.5 661.8 145.6M678.8 146 695.8 145.6M710.6 143 726.5 141.8M742.4 138.2 758.3 134.6M774.2 127.6 785.9 119.1M802.9 112.7 816.6 107M835.7 106.4 848.4 106.4M867.5 106.4 880.3 111.7M737.1 182.7 750.9 185.4M767.9 187.6 784.8 184.2M574.9 170 579.1 184.8M566.4 198.6 562.2 212.4M559 229.3 553.7 244.4M543.1 133.9 560.1 138.2M547.3 141.3 557.9 137.1M585.5 160.4 599.3 158.7M574.9 123.3 588.7 120.1M651.2 136 666.1 131.8M757.3 180.6 770 179.9M613.1 244.4 623.7 238.9M237.4 247.8 236.6 264.6M235.3 279.4 236.1 296.2M241.6 313 250 323.5M294.2 256.2 292.1 271M296.3 289.9 292.1 300.4M296.3 314.3 308.9 321.4M197.4 306.7 201.7 321.4M205.9 338.3 212.2 350.9M220.6 365.6 226.9 380.3M233.2 397.2 239.5 409.8M273.2 369.8 280.3 381.6M290 395.9 301.4 407.7M304.7 422.4 302.6 437.1M380.4 264.6 393.1 256.2M393.1 269.7 409.9 274.3M424.6 273.1 437.2 268M481.4 279.4 487.7 264.6M469.6 306.7 476.4 292M447.8 327.7 458.3 317.2M422.5 352.1 435.1 341.6M506.7 283.6 502.5 298.3M489.8 328.6 496.1 315.1M515.1 264.6 519.3 252M456.2 428.7 461.2 418.2M531.9 304.6 536.1 292M517.2 332.8 523.5 319.3M506.7 365.6 510 352.1M500.3 397.2 502.5 382.4M496.1 428.7 499.5 414M548.7 384.5 552.9 369.8M544.5 426.6 545.8 403.5M590.8 269.7 601.3 258.3M611.8 243.6 624.5 239.4M639.2 243.6 656 249.9M670.7 256.2 685.5 261.3M701 266.7 712.8 279.4M719.1 294.1 725.4 308.8M741.4 315.1 757 321.4M771.7 327.7 788.5 325.6M801.1 323.5 820.1 321.4M876.9 260.4 889.5 254.1M868.5 310.9 881.1 305.9M336.3 340.4 342.6 341.6M321.6 329.9 324.9 332.8M180.6 432.8 182.7 456M183.6 474.9 184.8 491.7M189 508.5 192 525.4M194.5 542.2 195.3 556.9M196.2 571.6 199.5 586.4M201.7 605.3 200.4 622.1M237.4 487.5 245.8 508.5M247.1 525.4 247.1 540.1M250 554.8 249.2 571.6M252.1 590.6 254.2 605.3M304.7 424.4 302.6 437M295 453.8 294.2 468.6M295 487.5 300.5 502.2M305.6 516.1 296.3 529.6M295 546.4 297.2 563.2M299.7 578 303.9 592.7M305.6 609.5 313.1 620M456.2 445.4 464.6 458.9M472.2 474.9 476.4 491.7M477.2 506.4 477.2 523.3M476.4 540.1 476.4 554.8M478.1 571.6 470.9 585.1M456.2 596.9 447.8 609.5M498.2 445.4 502.5 460.2M505.4 477 508.8 493.8M507.9 512.7 507.9 527.5M507.1 544.3 507.1 559M506.7 575.9 499.1 589.3M491.9 605.3 484.8 617.9M543.7 434.9 546.6 449.6M550.8 466.5 553.8 481.2M553.8 498 553.8 514.9M552.9 529.6 552.1 546.4M550.8 563.2 547.5 578M538.2 594.8 529.8 608.7M378.3 548.5 393.1 547.7M409.9 546.4 423.4 547.2M371.2 559.9 386.8 562.4M404.4 563.2 420.4 565.3M201.7 636.7 207.1 651.5M213.4 666.2 222.7 680.9M228.2 697.7 231.1 712.5M210.1 731.4 224.8 723.8M256.3 619.9 269 632.5M277.4 645.2 285.8 659.9M287.9 676.7 298.4 684.3M313.1 691.4 330 697.7M344.7 701.1 361.5 705.3M376.2 706.2 393.1 702.8M409.1 699.9 424.6 696.9M439.3 691.4 456.2 685.1M327.9 627.1 344.7 633.4M357.3 639.7 369.9 651.5M386.8 654.8 401.5 659.9M418.3 662 425.9 651.5M430.1 634.6 439.3 622M473.8 636.7 473 651.5M472.2 666.2 471.3 680.9M521.4 619.9 515.1 634.6M513 651.5 514.2 667.5M514.2 683 506.7 695.6M494 710.4 483.5 723M481.4 740.7 466.7 747.4M452 750.3 435.1 751.6M418.3 753.3 403.6 753.7M386.8 755 371.2 755.4M355.2 756.6 340.5 757.5M323.7 758.3 308.9 758.7M292.1 758.7 275.3 759.2M175.4 742.9 188.1 742.9M175.4 763.7 191.3 763.7M201.9 781.1 216.7 774.7M233.7 776.9 246.4 783.2M212.5 783.2 223.1 791.7M223.1 791.7 233.7 783.2M223.1 791.7 223.1 802.3M208.3 790.7 219.9 801.3M235.8 794.9 226.3 801.3M175.4 801.3 181.8 789M266.6 788.1 272.9 796M272.9 796 272.9 803.4M288.8 799.1 303.7 803.4M332.3 785.4 337.6 779M382.1 799.1 398 801.3M447.9 801.3 462.7 801.7M481.8 801.7 496.6 801.7M513.6 801.7 528.5 801.7M470.1 747.2 483.9 740.8M386.4 765.2 403.3 764.8M386.4 769.9 403.3 769.4M578.1 771.1 594 776.9M561.1 786.4 571.7 783.2M577 793.8 589.7 785.4M545.2 800.2 562.2 798.7M609.9 782.6 620.5 796M634.3 797 651.2 800.2M666.1 801.3 683 803M771 789.6 770 799.1"/>
<path class="tbd" d="M191 63.2H508M191 65.5H508M191 67.9H508M191 70.2H508M191 72.6H508M191 75H508M191 77.3H508M191 79.7H508"/>
<path class="tbr" d="M540 63.2H919M540 65.5H919M540 67.9H919M540 70.2H919M540 72.6H919M540 75H919M540 77.3H919M540 79.7H919"/>
<path class="c" d="M195.5 738.1 188.1 742.3 195.5 745.1"/>
<path class="c" d="M341.9 783.2 369.4 766.3 400.2 783.2 369.4 794.9Z"/>
<path class="c" d="M369.4 779 388.5 780.5 382.1 785.4 369.4 788.5"/>
<path class="b" d="M353.3 772.8 367.1 768.2M354.6 772 368.4 767.3M355.9 771.1 369.6 766.5"/>
<path class="b" d="M403.3 772.6 418.2 774.7M403.3 775.4 418.2 777.5M403.3 778.1 418.2 780.3M403.3 780.9 418.2 783M403.3 783.7 418.2 785.8M403.3 786.4 418.2 788.5M403.3 789.2 418.2 791.3M403.3 791.9 418.2 794M403.3 794.7 418.2 796.8"/>
<path class="c" d="M776.3 797 782.7 790.7 789.1 791.7 788 801.3"/>
<path class="b" d="M420.3 763.1 435.2 763.1M420.3 765.7 435.2 765.7M420.3 768.4 435.2 768.4M433 786.4 447.9 786.4M433 788.5 447.9 788.5M433 790.7 447.9 790.7M433 792.8 447.9 792.8M433 794.9 447.9 794.9M433 797 447.9 797M464.8 786.4 479.7 786.4M464.8 788.5 479.7 788.5M464.8 790.7 479.7 790.7M464.8 792.8 479.7 792.8M464.8 794.9 479.7 794.9M464.8 797 479.7 797M497.7 786.4 512.6 786.4M497.7 789 512.6 789M497.7 791.5 512.6 791.5M497.7 794 512.6 794M497.7 796.6 512.6 796.6M497.7 799.1 512.6 799.1M530.6 783.2 543.3 783.2M530.6 785.6 543.3 785.6M530.6 787.9 543.3 787.9M530.6 790.2 543.3 790.2M530.6 792.6 543.3 792.6M530.6 794.9 543.3 794.9M450 798.1 463.8 798.1M450 800.8 463.8 800.8M416.1 799.6 430.9 799.6M416.1 802.5 430.9 802.5M513.6 800.8 528.5 800.8M513.6 803.4 528.5 803.4"/>
<text class="cl" transform="translate(326.4 130.3) rotate(-8)" dy="9">30 %</text>
<text class="cl" transform="translate(372.6 158.7) rotate(-4)" dy="9">75 %</text>
<text class="cl" transform="translate(390.6 154.1) rotate(-8)" dy="9">5 %</text>
<text class="cl" transform="translate(265.9 113.3) rotate(-90)" dy="9">5</text>
<text class="cl" transform="translate(269.8 143) rotate(-62)" dy="9">%</text>
<text class="cl" transform="translate(362 104.2) rotate(-75)" dy="9">%</text>
<text class="cl" transform="translate(393.8 141.8) rotate(-10)" dy="9">%</text>
<text class="cl" transform="translate(513.6 90.4) rotate(-2)" dy="9">30 %</text>
<text class="cl" transform="translate(530.6 92.1) rotate(4)" dy="9">45 %</text>
<text class="cl" transform="translate(374.1 353.8) rotate(15)" dy="9">45 %</text>
<text class="cl" transform="translate(466.7 373.2) rotate(-75)" dy="9">60 %</text>
<text class="cl" transform="translate(561.3 306.7) rotate(-77)" dy="9">90 %</text>
<text class="cl" transform="translate(653.9 347.9) rotate(67)" dy="9">60 %</text>
<text class="cl" transform="translate(834 286.5) rotate(-88)" dy="9">45 %</text>
<text class="cl" transform="translate(859.2 407.7) rotate(-80)" dy="9">75 %</text>
<text class="cl" transform="translate(237.4 451.7) rotate(-85)" dy="9">75 %</text>
<text class="cl" transform="translate(895.8 605.3) rotate(-75)" dy="9">90 %</text>
<text class="cl" transform="translate(227.4 764.8)" dy="9">90 %</text>
<text class="cl" transform="translate(781.6 765.2) rotate(-88)" dy="9">%</text>
<text class="cl" transform="translate(475.4 772.6)" dy="9">60 %</text>
<text class="cl" transform="translate(477.6 775.8)" dy="9">15 %</text>
<text class="cl" transform="translate(473.3 774.1)" dy="9">45 %</text>
<text class="cl" transform="translate(528.5 765.2)" dy="9">75 %</text>
<text class="cl" transform="translate(530.6 766.9)" dy="9">30 %</text>
<text class="cl" transform="translate(549.5 771.6) rotate(-70)" dy="9">%</text>
<text class="cl" transform="translate(539.1 789.6) rotate(-20)" dy="9">%</text>
</g>
<path class="tk" d="M224.3 60.4v12.3M224.3 805.6v-12.3M274 60.4v12.3M274 805.6v-12.3M323.6 60.4v12.3M323.6 805.6v-12.3M373.2 60.4v12.3M373.2 805.6v-12.3M422.9 60.4v12.3M422.9 805.6v-12.3M472.5 60.4v12.3M472.5 805.6v-12.3M522.1 60.4v12.3M522.1 805.6v-12.3M571.8 60.4v12.3M571.8 805.6v-12.3M621.4 60.4v12.3M621.4 805.6v-12.3M671 60.4v12.3M671 805.6v-12.3M720.7 60.4v12.3M720.7 805.6v-12.3M770.3 60.4v12.3M770.3 805.6v-12.3M819.9 60.4v12.3M819.9 805.6v-12.3M869.6 60.4v12.3M869.6 805.6v-12.3M174.7 81.8h12.3M919.2 81.8h-12.3M174.7 102.5h12.3M919.2 102.5h-12.3M174.7 123.2h12.3M919.2 123.2h-12.3M174.7 143.9h12.3M919.2 143.9h-12.3M174.7 164.6h12.3M919.2 164.6h-12.3M174.7 185.3h12.3M919.2 185.3h-12.3M174.7 206h12.3M919.2 206h-12.3M174.7 226.7h12.3M919.2 226.7h-12.3M174.7 247.4h12.3M919.2 247.4h-12.3M174.7 268.1h12.3M919.2 268.1h-12.3M174.7 288.8h12.3M919.2 288.8h-12.3M174.7 309.5h12.3M919.2 309.5h-12.3M174.7 330.2h12.3M919.2 330.2h-12.3M174.7 350.9h12.3M919.2 350.9h-12.3M174.7 371.6h12.3M919.2 371.6h-12.3M174.7 392.3h12.3M919.2 392.3h-12.3M174.7 413h12.3M919.2 413h-12.3M174.7 433.7h12.3M919.2 433.7h-12.3M174.7 454.4h12.3M919.2 454.4h-12.3M174.7 475.1h12.3M919.2 475.1h-12.3M174.7 495.8h12.3M919.2 495.8h-12.3M174.7 516.5h12.3M919.2 516.5h-12.3M174.7 537.2h12.3M919.2 537.2h-12.3M174.7 557.9h12.3M919.2 557.9h-12.3M174.7 578.6h12.3M919.2 578.6h-12.3M174.7 599.3h12.3M919.2 599.3h-12.3M174.7 620h12.3M919.2 620h-12.3M174.7 640.7h12.3M919.2 640.7h-12.3M174.7 661.4h12.3M919.2 661.4h-12.3M174.7 682.1h12.3M919.2 682.1h-12.3M174.7 702.8h12.3M919.2 702.8h-12.3M174.7 723.5h12.3M919.2 723.5h-12.3M174.7 744.2h12.3M919.2 744.2h-12.3M174.7 764.9h12.3M919.2 764.9h-12.3M174.7 785.6h12.3M919.2 785.6h-12.3"/>
<rect class="fr" x="174.7" y="60.4" width="744.5" height="745.2"/>
<text class="ti" transform="translate(545 46.5) scale(1 0.95)">S1 Combined , 20180620_20180621</text>
<text class="yl" transform="translate(57.3 435) rotate(-90) scale(1 1.1)">Altitudes (m)</text>
<text class="ty" transform="translate(124.6 808.1) rotate(-50.5)" dy="11.8">500</text>
<text class="ty" transform="translate(118 704.6) rotate(-50.5)" dy="11.8">1000</text>
<text class="ty" transform="translate(118 601.1) rotate(-50.5)" dy="11.8">1500</text>
<text class="ty" transform="translate(118 497.6) rotate(-50.5)" dy="11.8">2000</text>
<text class="ty" transform="translate(118 394.1) rotate(-50.5)" dy="11.8">2500</text>
<text class="ty" transform="translate(118 290.6) rotate(-50.5)" dy="11.8">3000</text>
<text class="ty" transform="translate(118 187.1) rotate(-50.5)" dy="11.8">3500</text>
<text class="ty" transform="translate(118 83.6) rotate(-50.5)" dy="11.8">4000</text>
<text class="tx" transform="translate(170.2 836.2) rotate(-70)" dy="11.5">N</text>
<text class="tx" transform="translate(269.5 845.7) rotate(-70)" dy="11.5">NE</text>
<text class="tx" transform="translate(368.7 834.5) rotate(-70)" dy="11.5">E</text>
<text class="tx" transform="translate(468 844) rotate(-70)" dy="11.5">SE</text>
<text class="tx" transform="translate(567.3 834.5) rotate(-70)" dy="11.5">S</text>
<text class="tx" transform="translate(666.5 849.4) rotate(-70)" dy="11.5">SW</text>
<text class="tx" transform="translate(765.8 839.8) rotate(-70)" dy="11.5">W</text>
<text class="tx" transform="translate(865.1 851.1) rotate(-70)" dy="11.5">NW</text>
<text class="tx" transform="translate(914.7 836.2) rotate(-70)" dy="11.5">N</text>
<rect x="174.7" y="965.6" width="744.5" height="38.2" fill="url(#cb)"/>
<path class="tk" d="M249.1 1003.8v-12M323.6 1003.8v-12M398 1003.8v-12M472.5 1003.8v-12M547 1003.8v-12M621.4 1003.8v-12M695.8 1003.8v-12M770.3 1003.8v-12M844.8 1003.8v-12"/>
<rect class="fr" x="174.7" y="965.6" width="744.5" height="38.2"/>
<text class="tc" transform="translate(172.5 1040.2) scale(1 1.1)">0</text>
<text class="tc" transform="translate(246.9 1040.2) scale(1 1.1)">10</text>
<text class="tc" transform="translate(321.4 1040.2) scale(1 1.1)">20</text>
<text class="tc" transform="translate(395.8 1040.2) scale(1 1.1)">30</text>
<text class="tc" transform="translate(470.3 1040.2) scale(1 1.1)">40</text>
<text class="tc" transform="translate(544.8 1040.2) scale(1 1.1)">50</text>
<text class="tc" transform="translate(619.2 1040.2) scale(1 1.1)">60</text>
<text class="tc" transform="translate(693.6 1040.2) scale(1 1.1)">70</text>
<text class="tc" transform="translate(768.1 1040.2) scale(1 1.1)">80</text>
<text class="tc" transform="translate(842.5 1040.2) scale(1 1.1)">90</text>
<text class="tc" transform="translate(919 1040.2) scale(1 1.1)">100</text>
</g>
</g>
<use href="#all" filter="url(#sf)" opacity="0.55"/>
</svg>
</div>
</body>
</html>
